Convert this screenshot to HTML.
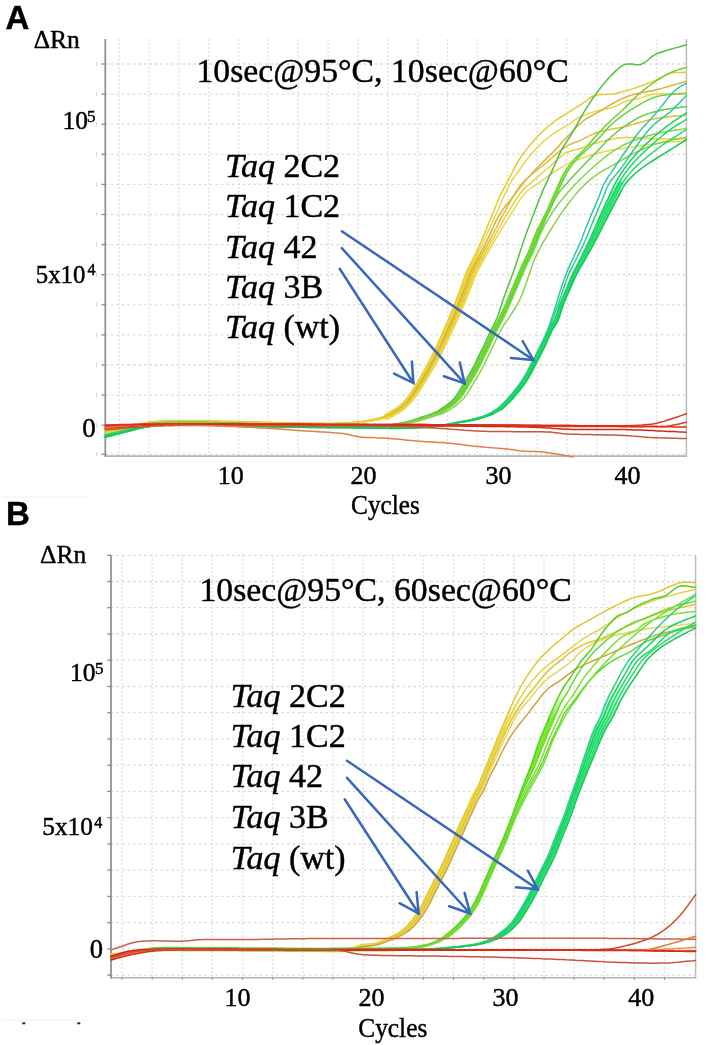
<!DOCTYPE html>
<html><head><meta charset="utf-8"><title>qPCR amplification plots</title>
<style>html,body{margin:0;padding:0;background:#fff;width:709px;height:1045px;overflow:hidden}svg{display:block;filter:blur(0.35px)}</style>
</head><body>
<svg width="709" height="1045" viewBox="0 0 709 1045">
<defs><linearGradient id="g0" gradientUnits="userSpaceOnUse" x1="0" y1="265" x2="0" y2="235"><stop offset="0" stop-color="#f2e04c"/><stop offset="1" stop-color="#f2e04c" stop-opacity="0"/></linearGradient><linearGradient id="g1" gradientUnits="userSpaceOnUse" x1="0" y1="180" x2="0" y2="150"><stop offset="0" stop-color="#80ec30"/><stop offset="1" stop-color="#80ec30" stop-opacity="0"/></linearGradient><linearGradient id="g2" gradientUnits="userSpaceOnUse" x1="0" y1="205" x2="0" y2="176"><stop offset="0" stop-color="#44e67e"/><stop offset="1" stop-color="#44e67e" stop-opacity="0"/></linearGradient><linearGradient id="g3" gradientUnits="userSpaceOnUse" x1="0" y1="730" x2="0" y2="700"><stop offset="0" stop-color="#f2e04c"/><stop offset="1" stop-color="#f2e04c" stop-opacity="0"/></linearGradient><linearGradient id="g4" gradientUnits="userSpaceOnUse" x1="0" y1="720" x2="0" y2="690"><stop offset="0" stop-color="#7ce830"/><stop offset="1" stop-color="#7ce830" stop-opacity="0"/></linearGradient><linearGradient id="g5" gradientUnits="userSpaceOnUse" x1="0" y1="730" x2="0" y2="680"><stop offset="0" stop-color="#5ae890"/><stop offset="1" stop-color="#5ae890" stop-opacity="0"/></linearGradient></defs>
<style>.gv{stroke:#dcdcdc;stroke-width:1.3;stroke-dasharray:1.7 2.3}.gh{stroke:#dcdcdc;stroke-width:1.3;stroke-dasharray:2.6 2.9}.cv path{fill:none;stroke-linejoin:round;stroke-linecap:round}.ar line,.ar polyline{fill:none;stroke:#3868bc;stroke-width:2.5;stroke-linecap:round;stroke-linejoin:miter}</style>
<line x1="119.2" y1="39.0" x2="119.2" y2="456.1" class="gv"/>
<line x1="149.1" y1="39.0" x2="149.1" y2="456.1" class="gv"/>
<line x1="178.9" y1="39.0" x2="178.9" y2="456.1" class="gv"/>
<line x1="208.8" y1="39.0" x2="208.8" y2="456.1" class="gv"/>
<line x1="238.6" y1="39.0" x2="238.6" y2="456.1" class="gv"/>
<line x1="268.4" y1="39.0" x2="268.4" y2="456.1" class="gv"/>
<line x1="298.3" y1="39.0" x2="298.3" y2="456.1" class="gv"/>
<line x1="328.2" y1="39.0" x2="328.2" y2="456.1" class="gv"/>
<line x1="358.0" y1="39.0" x2="358.0" y2="456.1" class="gv"/>
<line x1="387.9" y1="39.0" x2="387.9" y2="456.1" class="gv"/>
<line x1="417.7" y1="39.0" x2="417.7" y2="456.1" class="gv"/>
<line x1="447.6" y1="39.0" x2="447.6" y2="456.1" class="gv"/>
<line x1="477.4" y1="39.0" x2="477.4" y2="456.1" class="gv"/>
<line x1="507.2" y1="39.0" x2="507.2" y2="456.1" class="gv"/>
<line x1="537.1" y1="39.0" x2="537.1" y2="456.1" class="gv"/>
<line x1="567.0" y1="39.0" x2="567.0" y2="456.1" class="gv"/>
<line x1="596.8" y1="39.0" x2="596.8" y2="456.1" class="gv"/>
<line x1="626.7" y1="39.0" x2="626.7" y2="456.1" class="gv"/>
<line x1="656.5" y1="39.0" x2="656.5" y2="456.1" class="gv"/>
<line x1="105.3" y1="64.0" x2="686.4" y2="64.0" class="gh"/>
<line x1="105.3" y1="94.1" x2="686.4" y2="94.1" class="gh"/>
<line x1="105.3" y1="124.2" x2="686.4" y2="124.2" class="gh"/>
<line x1="105.3" y1="154.3" x2="686.4" y2="154.3" class="gh"/>
<line x1="105.3" y1="184.4" x2="686.4" y2="184.4" class="gh"/>
<line x1="105.3" y1="214.5" x2="686.4" y2="214.5" class="gh"/>
<line x1="105.3" y1="244.6" x2="686.4" y2="244.6" class="gh"/>
<line x1="105.3" y1="274.7" x2="686.4" y2="274.7" class="gh"/>
<line x1="105.3" y1="304.8" x2="686.4" y2="304.8" class="gh"/>
<line x1="105.3" y1="334.9" x2="686.4" y2="334.9" class="gh"/>
<line x1="105.3" y1="365.0" x2="686.4" y2="365.0" class="gh"/>
<line x1="105.3" y1="395.1" x2="686.4" y2="395.1" class="gh"/>
<line x1="105.3" y1="425.2" x2="686.4" y2="425.2" class="gh"/>
<line x1="105.3" y1="454.3" x2="686.4" y2="454.3" class="gh"/>
<line x1="122.0" y1="555.3" x2="122.0" y2="977.7" class="gv"/>
<line x1="152.1" y1="555.3" x2="152.1" y2="977.7" class="gv"/>
<line x1="182.3" y1="555.3" x2="182.3" y2="977.7" class="gv"/>
<line x1="212.4" y1="555.3" x2="212.4" y2="977.7" class="gv"/>
<line x1="242.6" y1="555.3" x2="242.6" y2="977.7" class="gv"/>
<line x1="272.7" y1="555.3" x2="272.7" y2="977.7" class="gv"/>
<line x1="302.8" y1="555.3" x2="302.8" y2="977.7" class="gv"/>
<line x1="333.0" y1="555.3" x2="333.0" y2="977.7" class="gv"/>
<line x1="363.1" y1="555.3" x2="363.1" y2="977.7" class="gv"/>
<line x1="393.3" y1="555.3" x2="393.3" y2="977.7" class="gv"/>
<line x1="423.4" y1="555.3" x2="423.4" y2="977.7" class="gv"/>
<line x1="453.5" y1="555.3" x2="453.5" y2="977.7" class="gv"/>
<line x1="483.7" y1="555.3" x2="483.7" y2="977.7" class="gv"/>
<line x1="513.8" y1="555.3" x2="513.8" y2="977.7" class="gv"/>
<line x1="544.0" y1="555.3" x2="544.0" y2="977.7" class="gv"/>
<line x1="574.1" y1="555.3" x2="574.1" y2="977.7" class="gv"/>
<line x1="604.2" y1="555.3" x2="604.2" y2="977.7" class="gv"/>
<line x1="634.4" y1="555.3" x2="634.4" y2="977.7" class="gv"/>
<line x1="664.5" y1="555.3" x2="664.5" y2="977.7" class="gv"/>
<line x1="111.0" y1="975.1" x2="695.6" y2="975.1" class="gh"/>
<line x1="111.0" y1="948.9" x2="695.6" y2="948.9" class="gh"/>
<line x1="111.0" y1="922.6" x2="695.6" y2="922.6" class="gh"/>
<line x1="111.0" y1="896.4" x2="695.6" y2="896.4" class="gh"/>
<line x1="111.0" y1="870.1" x2="695.6" y2="870.1" class="gh"/>
<line x1="111.0" y1="843.9" x2="695.6" y2="843.9" class="gh"/>
<line x1="111.0" y1="817.7" x2="695.6" y2="817.7" class="gh"/>
<line x1="111.0" y1="791.4" x2="695.6" y2="791.4" class="gh"/>
<line x1="111.0" y1="765.2" x2="695.6" y2="765.2" class="gh"/>
<line x1="111.0" y1="738.9" x2="695.6" y2="738.9" class="gh"/>
<line x1="111.0" y1="712.7" x2="695.6" y2="712.7" class="gh"/>
<line x1="111.0" y1="686.5" x2="695.6" y2="686.5" class="gh"/>
<line x1="111.0" y1="660.2" x2="695.6" y2="660.2" class="gh"/>
<line x1="111.0" y1="634.0" x2="695.6" y2="634.0" class="gh"/>
<line x1="111.0" y1="607.7" x2="695.6" y2="607.7" class="gh"/>
<line x1="111.0" y1="581.5" x2="695.6" y2="581.5" class="gh"/>
<line x1="111.0" y1="555.3" x2="695.6" y2="555.3" class="gh"/>
<line x1="105.3" y1="456.1" x2="686.4" y2="456.1" stroke="#b4b4b4" stroke-width="1.6"/>
<line x1="686.4" y1="39.0" x2="686.4" y2="456.90000000000003" stroke="#bdbdbd" stroke-width="1.5"/>
<line x1="101.5" y1="64.0" x2="105.3" y2="64.0" stroke="#8a8a8a" stroke-width="1.3"/>
<line x1="101.5" y1="94.1" x2="105.3" y2="94.1" stroke="#8a8a8a" stroke-width="1.3"/>
<line x1="101.5" y1="124.2" x2="105.3" y2="124.2" stroke="#8a8a8a" stroke-width="1.3"/>
<line x1="101.5" y1="154.3" x2="105.3" y2="154.3" stroke="#8a8a8a" stroke-width="1.3"/>
<line x1="101.5" y1="184.4" x2="105.3" y2="184.4" stroke="#8a8a8a" stroke-width="1.3"/>
<line x1="101.5" y1="214.5" x2="105.3" y2="214.5" stroke="#8a8a8a" stroke-width="1.3"/>
<line x1="101.5" y1="244.6" x2="105.3" y2="244.6" stroke="#8a8a8a" stroke-width="1.3"/>
<line x1="101.5" y1="274.7" x2="105.3" y2="274.7" stroke="#8a8a8a" stroke-width="1.3"/>
<line x1="101.5" y1="304.8" x2="105.3" y2="304.8" stroke="#8a8a8a" stroke-width="1.3"/>
<line x1="101.5" y1="334.9" x2="105.3" y2="334.9" stroke="#8a8a8a" stroke-width="1.3"/>
<line x1="101.5" y1="365.0" x2="105.3" y2="365.0" stroke="#8a8a8a" stroke-width="1.3"/>
<line x1="101.5" y1="395.1" x2="105.3" y2="395.1" stroke="#8a8a8a" stroke-width="1.3"/>
<line x1="101.5" y1="425.2" x2="105.3" y2="425.2" stroke="#8a8a8a" stroke-width="1.3"/>
<line x1="101.5" y1="454.3" x2="105.3" y2="454.3" stroke="#8a8a8a" stroke-width="1.3"/>
<line x1="105.3" y1="39.0" x2="105.3" y2="456.90000000000003" stroke="#8c8c8c" stroke-width="1.7"/>
<line x1="111.0" y1="977.7" x2="695.6" y2="977.7" stroke="#b4b4b4" stroke-width="1.6"/>
<line x1="695.6" y1="555.3" x2="695.6" y2="978.5" stroke="#bdbdbd" stroke-width="1.5"/>
<line x1="107.3" y1="975.1" x2="111.0" y2="975.1" stroke="#8a8a8a" stroke-width="1.3"/>
<line x1="107.3" y1="948.9" x2="111.0" y2="948.9" stroke="#8a8a8a" stroke-width="1.3"/>
<line x1="107.3" y1="922.6" x2="111.0" y2="922.6" stroke="#8a8a8a" stroke-width="1.3"/>
<line x1="107.3" y1="896.4" x2="111.0" y2="896.4" stroke="#8a8a8a" stroke-width="1.3"/>
<line x1="107.3" y1="870.1" x2="111.0" y2="870.1" stroke="#8a8a8a" stroke-width="1.3"/>
<line x1="107.3" y1="843.9" x2="111.0" y2="843.9" stroke="#8a8a8a" stroke-width="1.3"/>
<line x1="107.3" y1="817.7" x2="111.0" y2="817.7" stroke="#8a8a8a" stroke-width="1.3"/>
<line x1="107.3" y1="791.4" x2="111.0" y2="791.4" stroke="#8a8a8a" stroke-width="1.3"/>
<line x1="107.3" y1="765.2" x2="111.0" y2="765.2" stroke="#8a8a8a" stroke-width="1.3"/>
<line x1="107.3" y1="738.9" x2="111.0" y2="738.9" stroke="#8a8a8a" stroke-width="1.3"/>
<line x1="107.3" y1="712.7" x2="111.0" y2="712.7" stroke="#8a8a8a" stroke-width="1.3"/>
<line x1="107.3" y1="686.5" x2="111.0" y2="686.5" stroke="#8a8a8a" stroke-width="1.3"/>
<line x1="107.3" y1="660.2" x2="111.0" y2="660.2" stroke="#8a8a8a" stroke-width="1.3"/>
<line x1="107.3" y1="634.0" x2="111.0" y2="634.0" stroke="#8a8a8a" stroke-width="1.3"/>
<line x1="107.3" y1="607.7" x2="111.0" y2="607.7" stroke="#8a8a8a" stroke-width="1.3"/>
<line x1="107.3" y1="581.5" x2="111.0" y2="581.5" stroke="#8a8a8a" stroke-width="1.3"/>
<line x1="107.3" y1="555.3" x2="111.0" y2="555.3" stroke="#8a8a8a" stroke-width="1.3"/>
<line x1="111.0" y1="555.3" x2="111.0" y2="978.5" stroke="#8c8c8c" stroke-width="1.7"/>
<line x1="122.0" y1="977.7" x2="122.0" y2="980" stroke="#9a9a9a" stroke-width="1"/>
<line x1="152.1" y1="977.7" x2="152.1" y2="980" stroke="#9a9a9a" stroke-width="1"/>
<line x1="182.3" y1="977.7" x2="182.3" y2="980" stroke="#9a9a9a" stroke-width="1"/>
<line x1="212.4" y1="977.7" x2="212.4" y2="980" stroke="#9a9a9a" stroke-width="1"/>
<line x1="242.6" y1="977.7" x2="242.6" y2="980" stroke="#9a9a9a" stroke-width="1"/>
<line x1="272.7" y1="977.7" x2="272.7" y2="980" stroke="#9a9a9a" stroke-width="1"/>
<line x1="302.8" y1="977.7" x2="302.8" y2="980" stroke="#9a9a9a" stroke-width="1"/>
<line x1="333.0" y1="977.7" x2="333.0" y2="980" stroke="#9a9a9a" stroke-width="1"/>
<line x1="363.1" y1="977.7" x2="363.1" y2="980" stroke="#9a9a9a" stroke-width="1"/>
<line x1="393.3" y1="977.7" x2="393.3" y2="980" stroke="#9a9a9a" stroke-width="1"/>
<line x1="423.4" y1="977.7" x2="423.4" y2="980" stroke="#9a9a9a" stroke-width="1"/>
<line x1="453.5" y1="977.7" x2="453.5" y2="980" stroke="#9a9a9a" stroke-width="1"/>
<line x1="483.7" y1="977.7" x2="483.7" y2="980" stroke="#9a9a9a" stroke-width="1"/>
<line x1="513.8" y1="977.7" x2="513.8" y2="980" stroke="#9a9a9a" stroke-width="1"/>
<line x1="544.0" y1="977.7" x2="544.0" y2="980" stroke="#9a9a9a" stroke-width="1"/>
<line x1="574.1" y1="977.7" x2="574.1" y2="980" stroke="#9a9a9a" stroke-width="1"/>
<line x1="604.2" y1="977.7" x2="604.2" y2="980" stroke="#9a9a9a" stroke-width="1"/>
<line x1="634.4" y1="977.7" x2="634.4" y2="980" stroke="#9a9a9a" stroke-width="1"/>
<line x1="664.5" y1="977.7" x2="664.5" y2="980" stroke="#9a9a9a" stroke-width="1"/>
<line x1="96.5" y1="61.8" x2="96.5" y2="66.2" stroke="#d6d6d6" stroke-width="1"/>
<line x1="96.5" y1="91.9" x2="96.5" y2="96.3" stroke="#d6d6d6" stroke-width="1"/>
<line x1="96.5" y1="122.0" x2="96.5" y2="126.4" stroke="#d6d6d6" stroke-width="1"/>
<line x1="96.5" y1="152.1" x2="96.5" y2="156.5" stroke="#d6d6d6" stroke-width="1"/>
<line x1="96.5" y1="182.2" x2="96.5" y2="186.6" stroke="#d6d6d6" stroke-width="1"/>
<line x1="96.5" y1="212.3" x2="96.5" y2="216.7" stroke="#d6d6d6" stroke-width="1"/>
<line x1="96.5" y1="242.4" x2="96.5" y2="246.8" stroke="#d6d6d6" stroke-width="1"/>
<line x1="96.5" y1="272.5" x2="96.5" y2="276.9" stroke="#d6d6d6" stroke-width="1"/>
<line x1="96.5" y1="302.6" x2="96.5" y2="307.0" stroke="#d6d6d6" stroke-width="1"/>
<line x1="96.5" y1="332.7" x2="96.5" y2="337.1" stroke="#d6d6d6" stroke-width="1"/>
<line x1="96.5" y1="362.8" x2="96.5" y2="367.2" stroke="#d6d6d6" stroke-width="1"/>
<line x1="96.5" y1="392.9" x2="96.5" y2="397.3" stroke="#d6d6d6" stroke-width="1"/>
<line x1="96.5" y1="423.0" x2="96.5" y2="427.4" stroke="#d6d6d6" stroke-width="1"/>
<line x1="96.5" y1="452.1" x2="96.5" y2="456.5" stroke="#d6d6d6" stroke-width="1"/>
<g class="cv">
<path d="M387.0 416.5 L389.8 414.9 L392.7 413.3 L395.6 411.6 L398.3 410.0 L400.8 408.3 L403.6 406.0 L406.0 403.7 L408.5 401.0 L410.5 398.5 L412.5 395.8 L414.5 392.9 L416.4 389.9 L418.3 387.0 L420.1 384.2 L421.8 381.3 L423.5 378.5 L425.2 375.6 L426.8 372.8 L428.6 369.6 L430.4 366.5 L432.2 363.3 L433.9 360.1 L435.3 357.4 L436.7 354.6 L438.1 351.7 L439.5 348.9 L440.9 346.0 L442.3 343.0 L443.8 339.9 L445.2 336.7 L446.6 333.6 L448.0 330.5 L449.4 327.4 L450.9 324.3 L452.3 321.2 L453.7 318.1 L455.0 315.0 L456.2 312.1 L457.3 309.3 L458.4 306.5 L459.5 303.7 L460.6 300.9 L461.7 298.1 L462.9 295.2 L464.0 292.4 L465.1 289.6 L466.3 286.8 L467.7 283.6 L469.1 280.5 L470.5 277.3 L471.9 274.1 L473.1 271.3 L474.2 268.5 L475.3 265.7 L476.5 262.8 L477.6 260.0" stroke="#f2e04c" stroke-width="7.0"/>
<path d="M440.0 411.8 L443.0 409.9 L446.0 408.0 L448.9 406.1 L451.5 404.2 L454.9 401.3 L458.0 398.0 L459.8 395.6 L461.6 392.9 L463.3 390.2 L464.9 387.5 L466.9 384.3 L468.7 381.2 L470.6 378.0 L472.6 374.7 L474.5 371.3 L476.4 367.8 L477.9 365.0 L479.3 362.1 L480.7 359.2 L482.1 356.3 L483.5 353.4 L484.9 350.6 L486.4 347.7 L487.8 344.8 L489.3 341.5 L490.9 338.2 L492.4 334.8 L494.0 331.5 L495.4 328.8 L496.8 326.1 L498.2 323.4 L499.6 320.7 L501.0 318.0 L502.3 315.2 L503.7 312.4 L505.0 309.6 L506.3 306.8 L507.5 304.0 L508.9 300.7 L510.3 297.5 L511.6 294.2 L513.0 291.0 L514.4 287.8 L515.8 284.5 L517.1 281.2 L518.5 278.0 L519.9 274.7 L521.2 271.4 L522.6 268.2 L524.0 265.0 L525.4 262.0 L526.9 259.1 L528.4 256.2 L529.8 253.3 L531.0 250.4 L532.2 247.4 L533.4 244.4 L534.5 241.5 L536.0 237.8 L537.5 234.1 L539.0 230.4" stroke="#80ec30" stroke-width="5.0"/>
<path d="M501.2 408.0 L503.6 405.6 L506.0 403.3 L508.4 400.9 L510.8 398.4 L513.3 395.6 L515.7 392.8 L518.1 389.8 L520.4 386.9 L522.4 384.1 L524.4 381.3 L526.2 378.4 L528.0 375.5 L529.7 372.5 L531.3 369.4 L532.9 366.2 L534.5 363.0 L536.1 360.0 L537.7 357.0 L539.3 353.9 L540.9 350.7 L542.5 347.5 L543.9 344.6 L545.2 341.6 L546.6 338.5 L547.9 335.5 L549.2 332.6 L550.5 330.0 L552.5 326.5 L554.5 323.4 L556.4 320.0 L557.5 317.2 L558.5 314.2 L559.5 311.0 L560.4 307.9 L561.5 304.8 L562.7 301.7 L564.0 298.7 L565.3 295.6 L566.7 292.5 L568.0 289.5 L569.3 286.5 L570.5 283.4 L571.8 280.4 L573.1 277.4 L574.5 274.4 L576.0 271.4 L577.6 268.4 L579.2 265.5 L580.9 262.5 L582.5 259.5 L584.1 256.5 L585.7 253.4 L587.3 250.4 L588.9 247.4 L590.5 244.3 L592.0 241.2 L593.6 238.2 L595.0 235.1 L596.5 232.1 L598.0 229.0 L599.4 226.0 L600.8 223.0 L602.2 220.1 L603.6 217.1 L605.0 214.1 L606.5 211.1 L608.0 208.1 L609.5 205.0 L611.0 202.0 L612.5 199.0 L614.0 196.0 L615.5 192.9 L617.0 189.9 L618.5 186.8 L620.0 183.8" stroke="#30e070" stroke-width="5.0"/>
<path d="M379.9 417.8 L383.5 416.5 L386.3 415.2 L389.2 413.6 L392.1 411.9 L394.8 410.1 L397.3 408.3 L400.1 406.0 L402.6 403.7 L405.0 401.0 L407.0 398.5 L408.9 395.8 L410.9 392.9 L412.8 389.9 L414.6 387.0 L416.4 384.2 L418.1 381.3 L419.7 378.5 L421.3 375.6 L422.9 372.8 L424.7 369.6 L426.5 366.5 L428.2 363.3 L429.9 360.1 L431.2 357.4 L432.6 354.6 L434.0 351.7 L435.3 348.9 L436.7 346.0 L438.1 343.0 L439.4 339.9 L440.8 336.7 L442.2 333.6 L443.5 330.5 L444.9 327.4 L446.3 324.3 L447.7 321.2 L449.0 318.1 L450.3 315.0 L451.5 312.1 L452.6 309.3 L453.6 306.5 L454.7 303.7 L455.7 300.9 L456.9 298.1 L458.0 295.2 L459.1 292.4 L460.2 289.6 L461.2 286.8 L462.3 283.8 L463.2 281.0 L464.2 278.0 L465.5 274.6 L466.5 272.4 L467.6 269.9 L468.8 267.3 L470.1 264.6 L471.5 261.8 L472.9 258.9 L474.3 256.0 L475.8 253.1 L477.2 250.2 L478.5 247.3 L479.8 244.5 L481.0 241.7 L482.2 238.9 L483.5 236.0 L497.5 236.0 L495.8 238.9 L494.1 241.7 L492.5 244.5 L490.9 247.3 L489.3 250.1 L487.6 253.0 L485.9 256.0 L484.3 258.9 L482.7 261.8 L481.1 264.6 L479.7 267.3 L478.3 269.9 L477.1 272.3 L476.0 274.6 L474.6 278.0 L473.5 281.0 L472.5 283.8 L471.4 286.8 L470.2 289.6 L469.1 292.4 L467.9 295.2 L466.6 298.1 L465.5 300.9 L464.3 303.7 L463.2 306.5 L462.0 309.3 L460.9 312.1 L459.7 315.0 L458.3 318.1 L456.9 321.2 L455.4 324.3 L453.9 327.4 L452.5 330.5 L451.0 333.6 L449.5 336.7 L448.1 339.9 L446.6 343.0 L445.1 346.0 L443.7 348.9 L442.3 351.7 L440.9 354.6 L439.4 357.4 L437.9 360.1 L436.2 363.3 L434.4 366.5 L432.6 369.6 L430.7 372.8 L429.0 375.6 L427.3 378.5 L425.6 381.3 L423.8 384.2 L422.0 387.0 L420.1 389.9 L418.1 392.9 L416.0 395.8 L414.0 398.5 L412.0 401.0 L409.5 403.7 L407.1 406.0 L404.3 408.3 L401.9 410.1 L399.1 411.9 L396.3 413.6 L393.4 415.2 L390.5 416.5 L387.3 417.6Z" style="fill:url(#g0);stroke:none"/>
<path d="M105.3 432.0 L108.5 431.4 L111.8 430.8 L115.1 430.3 L118.3 429.7 L121.6 429.1 L124.8 428.4 L128.0 427.8 L131.1 427.0 L134.1 426.1 L137.1 425.2 L140.1 424.3 L143.2 423.5 L146.5 422.7 L150.0 422.1 L152.7 421.8 L155.5 421.5 L158.4 421.3 L161.4 421.1 L164.5 421.0 L167.6 420.9 L170.8 420.8 L174.1 420.8 L177.3 420.7 L180.5 420.7 L183.7 420.7 L186.9 420.7 L190.0 420.7 L193.1 420.7 L196.1 420.7 L199.1 420.7 L202.2 420.7 L205.2 420.8 L208.2 420.9 L211.2 420.9 L214.3 421.0 L217.4 421.1 L220.5 421.2 L223.6 421.2 L226.8 421.3 L230.0 421.4 L233.0 421.5 L236.0 421.5 L239.0 421.6 L242.1 421.7 L245.2 421.8 L248.3 421.9 L251.5 422.0 L254.7 422.1 L257.8 422.1 L261.0 422.2 L264.2 422.3 L267.4 422.4 L270.5 422.5 L273.7 422.6 L276.9 422.6 L280.0 422.7 L283.2 422.8 L286.4 422.8 L289.8 422.9 L293.2 423.0 L296.6 423.0 L300.0 423.1 L303.4 423.2 L306.8 423.2 L310.1 423.3 L313.4 423.3 L316.5 423.4 L319.6 423.4 L322.4 423.4 L325.1 423.4 L327.7 423.4 L330.0 423.4 L333.6 423.4 L336.7 423.3 L339.5 423.2 L342.2 423.1 L345.0 422.9 L348.5 422.7 L352.0 422.4 L355.4 422.1 L358.8 421.7 L362.3 421.3 L365.9 420.8 L369.3 420.2 L372.7 419.6 L376.4 418.8 L379.9 417.8 L383.5 416.5 L386.3 415.2 L389.2 413.6 L392.1 411.9 L394.8 410.1 L397.3 408.3 L400.1 406.0 L402.6 403.7 L405.0 401.0 L407.0 398.5 L408.9 395.8 L410.9 392.9 L412.8 389.9 L414.6 387.0 L416.4 384.2 L418.1 381.3 L419.7 378.5 L421.3 375.6 L422.9 372.8 L424.7 369.6 L426.5 366.5 L428.2 363.3 L429.9 360.1 L431.2 357.4 L432.6 354.6 L434.0 351.7 L435.3 348.9 L436.7 346.0 L438.1 343.0 L439.4 339.9 L440.8 336.7 L442.2 333.6 L443.5 330.5 L444.9 327.4 L446.3 324.3 L447.7 321.2 L449.0 318.1 L450.3 315.0 L451.5 312.1 L452.6 309.3 L453.6 306.5 L454.7 303.7 L455.7 300.9 L456.9 298.1 L458.0 295.2 L459.1 292.4 L460.2 289.6 L461.2 286.8 L462.3 283.8 L463.2 281.0 L464.2 278.0 L465.5 274.6 L466.5 272.4 L467.6 269.9 L468.8 267.3 L470.1 264.6 L471.5 261.8 L472.9 258.9 L474.3 256.0 L475.8 253.1 L477.2 250.2 L478.5 247.3 L479.8 244.5 L481.0 241.7 L482.2 238.9 L483.5 236.0 L484.7 233.1 L485.9 230.2 L487.0 227.4 L488.2 224.5 L489.3 221.8 L490.4 219.1 L491.5 216.5 L492.5 214.0 L493.9 210.7 L495.1 207.5 L496.4 204.5 L497.6 201.6 L498.8 198.7 L500.0 196.0 L501.6 192.8 L503.1 189.9 L504.7 186.9 L506.5 183.5 L507.8 181.0 L509.1 178.4 L510.6 175.5 L512.1 172.6 L513.6 169.6 L515.2 166.5 L516.9 163.6 L518.6 160.7 L520.3 158.0 L522.2 155.2 L524.3 152.4 L526.4 149.6 L528.5 147.0 L530.7 144.3 L532.9 141.8 L535.0 139.3 L537.2 137.0 L539.7 134.4 L542.2 131.9 L544.8 129.5 L547.3 127.2 L549.9 125.0 L552.5 122.9 L555.0 121.0 L557.5 119.3 L560.1 117.6 L562.7 116.0 L565.2 114.4 L567.7 112.8 L570.4 111.0 L573.1 109.3 L575.8 107.7 L578.5 106.0 L581.2 104.3 L583.9 102.4 L586.5 100.5 L589.1 98.5 L591.9 96.8 L594.8 95.5 L598.2 94.7 L601.9 94.4 L605.6 94.4 L609.3 94.3 L612.7 94.0 L616.0 93.4 L619.2 92.6 L622.3 91.8 L625.4 90.9 L628.5 90.0 L631.6 89.1 L634.7 88.1 L638.0 87.0 L641.2 85.9 L644.5 84.7 L647.9 83.4 L651.3 82.1 L654.6 80.7 L657.4 79.4 L660.1 78.0 L662.8 76.5 L665.5 75.2 L668.3 74.0 L671.0 73.1 L674.1 72.6 L677.1 72.4 L680.2 72.4 L683.3 72.4 L686.4 72.4" stroke="#e4cc2c" stroke-width="1.5"/>
<path d="M105.3 431.0 L108.5 430.5 L111.8 430.0 L115.1 429.5 L118.3 429.0 L121.5 428.5 L124.8 428.0 L128.0 427.4 L131.1 426.7 L134.1 426.0 L137.1 425.2 L140.1 424.5 L143.2 423.7 L146.5 423.1 L150.0 422.6 L152.7 422.2 L155.5 422.0 L158.4 421.8 L161.4 421.6 L164.5 421.5 L167.6 421.4 L170.8 421.3 L174.1 421.3 L177.3 421.2 L180.5 421.2 L183.7 421.2 L186.9 421.2 L190.0 421.2 L193.1 421.1 L196.1 421.1 L199.1 421.2 L202.2 421.2 L205.2 421.2 L208.2 421.3 L211.2 421.4 L214.3 421.5 L217.4 421.5 L220.5 421.6 L223.6 421.7 L226.8 421.8 L230.0 421.9 L233.0 421.9 L236.0 422.0 L239.0 422.1 L242.1 422.2 L245.2 422.2 L248.3 422.3 L251.5 422.4 L254.7 422.5 L257.8 422.6 L261.0 422.7 L264.2 422.8 L267.4 422.9 L270.5 422.9 L273.7 423.0 L276.9 423.1 L280.0 423.2 L283.2 423.2 L286.4 423.3 L289.8 423.3 L293.2 423.4 L296.6 423.5 L300.0 423.5 L303.4 423.6 L306.8 423.7 L310.1 423.7 L313.4 423.8 L316.5 423.8 L319.6 423.8 L322.4 423.9 L325.1 423.9 L327.7 423.9 L330.0 423.9 L333.6 423.8 L336.7 423.7 L339.4 423.6 L342.2 423.5 L345.0 423.4 L348.6 423.1 L352.2 422.8 L355.7 422.5 L359.3 422.0 L362.9 421.6 L366.6 421.0 L370.2 420.4 L373.6 419.7 L377.5 418.9 L381.2 417.9 L384.9 416.5 L387.7 415.2 L390.6 413.6 L393.5 411.9 L396.2 410.1 L398.7 408.3 L401.5 406.0 L404.0 403.7 L406.4 401.0 L408.4 398.5 L410.3 395.8 L412.3 392.9 L414.2 389.9 L416.1 387.0 L417.9 384.2 L419.6 381.3 L421.2 378.5 L422.9 375.6 L424.5 372.8 L426.3 369.6 L428.0 366.5 L429.8 363.3 L431.5 360.1 L432.9 357.4 L434.3 354.6 L435.6 351.7 L437.0 348.9 L438.4 346.0 L439.8 343.0 L441.2 339.9 L442.6 336.7 L443.9 333.6 L445.3 330.5 L446.7 327.4 L448.1 324.3 L449.5 321.2 L450.9 318.1 L452.2 315.0 L453.4 312.1 L454.5 309.3 L455.5 306.5 L456.6 303.7 L457.7 300.9 L458.8 298.1 L460.0 295.2 L461.1 292.4 L462.2 289.6 L463.3 286.8 L464.3 283.8 L465.2 281.0 L466.2 278.0 L467.5 274.6 L468.5 272.4 L469.6 269.9 L470.8 267.3 L472.1 264.6 L473.5 261.8 L474.9 258.9 L476.4 256.0 L477.8 253.1 L479.3 250.2 L480.7 247.3 L482.0 244.5 L483.3 241.7 L484.6 239.0 L485.9 236.2 L487.1 233.4 L488.4 230.7 L489.7 227.9 L490.9 225.1 L492.2 222.3 L493.5 219.5 L494.7 216.8 L496.0 214.0 L497.3 211.2 L498.6 208.2 L499.9 205.3 L501.3 202.3 L502.6 199.3 L503.9 196.3 L505.2 193.5 L506.5 190.7 L507.8 188.1 L509.0 185.7 L510.2 183.5 L512.1 180.2 L513.9 177.5 L515.8 174.9 L517.9 172.0 L519.7 169.5 L521.5 166.8 L523.5 164.1 L525.6 161.2 L527.7 158.4 L529.9 155.6 L532.2 153.0 L534.3 150.7 L536.5 148.4 L538.8 146.1 L541.1 143.8 L543.5 141.6 L545.9 139.5 L548.3 137.5 L550.8 135.5 L553.6 133.4 L556.7 131.5 L559.8 129.6 L562.8 127.8 L565.8 126.1 L568.6 124.4 L571.0 122.9 L574.0 120.7 L576.6 118.8 L579.6 117.0 L582.6 115.7 L585.9 114.4 L589.4 113.2 L593.0 112.1 L596.5 111.1 L599.8 110.3 L603.1 109.6 L606.4 109.0 L609.6 108.3 L612.7 107.4 L616.0 106.1 L619.2 104.5 L622.2 102.9 L625.4 101.6 L628.5 100.7 L631.6 99.9 L634.7 99.3 L638.0 98.5 L641.2 97.6 L644.5 96.6 L647.8 95.5 L651.2 94.6 L654.6 94.0 L657.9 93.7 L661.2 93.7 L664.5 93.9 L667.8 94.0 L671.0 94.0 L674.1 93.8 L677.2 93.6 L680.3 93.3 L683.3 93.1 L686.4 92.8" stroke="#e8d840" stroke-width="1.5"/>
<path d="M105.3 433.0 L108.5 432.4 L111.8 431.7 L115.1 431.1 L118.3 430.5 L121.5 429.8 L124.8 429.1 L128.0 428.4 L131.1 427.7 L134.1 426.8 L137.1 425.9 L140.1 425.0 L143.2 424.2 L146.5 423.5 L150.0 422.9 L152.7 422.5 L155.5 422.2 L158.4 422.0 L161.4 421.8 L164.5 421.7 L167.6 421.6 L170.8 421.6 L174.1 421.5 L177.3 421.5 L180.5 421.5 L183.7 421.5 L186.9 421.5 L190.0 421.5 L193.1 421.4 L196.1 421.4 L199.1 421.5 L202.2 421.5 L205.2 421.5 L208.2 421.6 L211.2 421.7 L214.3 421.8 L217.4 421.8 L220.5 421.9 L223.6 422.0 L226.8 422.1 L230.0 422.2 L233.0 422.2 L236.0 422.3 L239.0 422.4 L242.1 422.5 L245.2 422.5 L248.3 422.6 L251.5 422.7 L254.7 422.8 L257.8 422.9 L261.0 423.0 L264.2 423.1 L267.4 423.2 L270.5 423.2 L273.7 423.3 L276.9 423.4 L280.0 423.5 L283.2 423.5 L286.4 423.6 L289.8 423.6 L293.2 423.7 L296.6 423.8 L300.0 423.8 L303.4 423.9 L306.8 424.0 L310.1 424.0 L313.4 424.1 L316.5 424.1 L319.6 424.1 L322.4 424.2 L325.1 424.2 L327.7 424.2 L330.0 424.2 L333.6 424.1 L336.6 424.0 L339.4 423.9 L342.1 423.8 L345.0 423.7 L348.7 423.4 L352.4 423.1 L356.1 422.7 L359.8 422.2 L363.5 421.7 L367.3 421.2 L371.0 420.5 L374.5 419.8 L377.6 419.1 L380.5 418.4 L383.4 417.6 L386.3 416.5 L389.1 415.2 L392.0 413.6 L394.9 411.9 L397.6 410.1 L400.1 408.3 L402.9 406.0 L405.4 403.7 L407.8 401.0 L409.8 398.5 L411.8 395.8 L413.7 392.9 L415.7 389.9 L417.6 387.0 L419.3 384.2 L421.1 381.3 L422.8 378.5 L424.4 375.6 L426.0 372.8 L427.9 369.6 L429.6 366.5 L431.4 363.3 L433.1 360.1 L434.5 357.4 L435.9 354.6 L437.3 351.7 L438.7 348.9 L440.1 346.0 L441.5 343.0 L442.9 339.9 L444.3 336.7 L445.7 333.6 L447.1 330.5 L448.5 327.4 L450.0 324.3 L451.4 321.2 L452.7 318.1 L454.1 315.0 L455.2 312.1 L456.4 309.3 L457.4 306.5 L458.5 303.7 L459.6 300.9 L460.8 298.1 L461.9 295.2 L463.1 292.4 L464.2 289.6 L465.3 286.8 L466.3 283.8 L467.2 281.0 L468.2 278.0 L469.5 274.6 L470.5 272.3 L471.7 269.9 L473.0 267.3 L474.4 264.6 L475.8 261.8 L477.4 258.9 L479.0 256.0 L480.5 253.1 L482.1 250.2 L483.6 247.3 L485.0 244.5 L486.4 241.7 L487.7 238.9 L489.1 236.0 L490.4 233.0 L491.8 230.1 L493.1 227.3 L494.4 224.4 L495.8 221.7 L497.2 219.0 L498.6 216.4 L500.0 214.0 L501.9 211.1 L503.8 208.4 L505.7 205.8 L507.7 203.3 L509.6 200.9 L511.6 198.5 L513.5 196.0 L515.6 193.3 L517.6 190.5 L519.7 187.9 L521.7 185.2 L523.8 182.6 L526.0 180.0 L528.2 177.4 L530.5 174.9 L532.9 172.4 L535.2 169.9 L537.6 167.5 L540.0 165.0 L542.1 162.9 L544.2 160.7 L546.4 158.6 L548.5 156.5 L550.7 154.3 L552.9 152.2 L555.0 150.0 L557.2 147.7 L559.3 145.4 L561.4 143.1 L563.6 140.8 L565.7 138.5 L567.8 136.2 L570.0 134.0 L572.4 131.5 L574.8 129.1 L577.2 126.6 L579.6 124.3 L582.1 122.0 L584.6 120.0 L587.6 118.0 L590.7 116.2 L593.9 114.5 L597.0 112.9 L600.0 111.2 L603.3 109.2 L606.4 107.2 L609.5 105.3 L612.7 103.5 L615.8 101.8 L619.0 100.1 L622.2 98.6 L625.4 97.2 L628.5 96.1 L631.6 95.1 L634.7 94.2 L638.0 93.4 L641.1 92.7 L644.2 92.2 L647.5 91.6 L650.9 91.0 L654.6 90.2 L657.1 89.6 L659.8 88.9 L662.5 88.1 L665.4 87.3 L668.4 86.5 L671.4 85.6 L674.4 84.8 L677.5 83.9 L680.5 83.0 L683.5 82.1 L686.4 81.3" stroke="#dcae34" stroke-width="1.5"/>
<path d="M105.3 430.0 L108.5 429.6 L111.8 429.1 L115.1 428.7 L118.3 428.3 L121.5 427.8 L124.8 427.3 L128.0 426.8 L131.1 426.2 L134.1 425.5 L137.1 424.8 L140.1 424.1 L143.2 423.4 L146.5 422.8 L150.0 422.2 L152.7 422.0 L155.5 421.7 L158.4 421.5 L161.4 421.4 L164.5 421.2 L167.6 421.1 L170.8 421.0 L174.1 421.0 L177.3 421.0 L180.5 420.9 L183.7 420.9 L186.9 420.9 L190.0 420.9 L193.1 420.8 L196.1 420.8 L199.1 420.9 L202.2 420.9 L205.2 420.9 L208.2 421.0 L211.2 421.1 L214.3 421.2 L217.4 421.2 L220.5 421.3 L223.6 421.4 L226.8 421.5 L230.0 421.6 L233.0 421.6 L236.0 421.7 L239.0 421.8 L242.1 421.9 L245.2 421.9 L248.3 422.0 L251.5 422.1 L254.7 422.2 L257.8 422.3 L261.0 422.4 L264.2 422.5 L267.4 422.6 L270.5 422.6 L273.7 422.7 L276.9 422.8 L280.0 422.9 L283.2 422.9 L286.4 423.0 L289.8 423.0 L293.2 423.1 L296.6 423.2 L300.0 423.2 L303.4 423.3 L306.8 423.4 L310.1 423.4 L313.4 423.5 L316.5 423.5 L319.6 423.5 L322.4 423.6 L325.1 423.6 L327.7 423.6 L330.0 423.5 L333.6 423.5 L336.6 423.4 L339.4 423.3 L342.1 423.2 L345.0 423.0 L348.0 422.9 L351.1 422.7 L354.1 422.4 L357.2 422.2 L360.2 421.8 L363.3 421.5 L366.4 421.1 L369.5 420.6 L372.5 420.2 L375.5 419.6 L378.6 419.0 L381.7 418.4 L384.7 417.6 L387.7 416.5 L390.5 415.2 L393.4 413.6 L396.3 411.9 L399.0 410.1 L401.5 408.3 L404.3 406.0 L406.7 403.7 L409.2 401.0 L411.2 398.5 L413.2 395.8 L415.2 392.9 L417.1 389.9 L419.0 387.0 L420.8 384.2 L422.6 381.3 L424.3 378.5 L425.9 375.6 L427.6 372.8 L429.4 369.6 L431.2 366.5 L433.0 363.3 L434.7 360.1 L436.1 357.4 L437.6 354.6 L439.0 351.7 L440.4 348.9 L441.7 346.0 L443.2 343.0 L444.6 339.9 L446.0 336.7 L447.5 333.6 L448.9 330.5 L450.3 327.4 L451.8 324.3 L453.2 321.2 L454.6 318.1 L455.9 315.0 L457.1 312.1 L458.3 309.3 L459.4 306.5 L460.5 303.7 L461.6 300.9 L462.7 298.1 L463.9 295.2 L465.1 292.4 L466.2 289.6 L467.3 286.8 L468.3 283.8 L469.2 281.0 L470.2 278.0 L471.5 274.6 L472.5 272.3 L473.7 269.9 L475.0 267.3 L476.5 264.6 L478.0 261.8 L479.6 258.9 L481.2 256.0 L482.8 253.1 L484.4 250.2 L486.0 247.3 L487.5 244.5 L489.0 241.7 L490.4 238.9 L491.8 236.2 L493.3 233.4 L494.7 230.6 L496.2 227.8 L497.6 225.0 L499.1 222.2 L500.5 219.4 L502.0 216.7 L503.5 214.0 L505.1 211.1 L506.8 208.1 L508.4 205.0 L510.1 202.0 L511.7 199.0 L513.4 196.1 L515.1 193.3 L516.7 190.7 L518.4 188.2 L520.0 186.0 L522.2 183.3 L524.4 181.0 L526.6 178.9 L528.8 177.0 L531.0 175.0 L533.7 172.7 L536.4 170.6 L539.2 168.5 L542.3 166.0 L544.3 164.3 L546.5 162.4 L548.9 160.4 L551.3 158.2 L553.8 156.0 L556.4 153.9 L558.9 151.8 L561.3 149.8 L563.7 148.1 L566.0 146.6 L569.1 144.9 L572.2 143.5 L575.2 142.3 L578.1 141.2 L581.2 139.9 L583.9 138.6 L586.6 137.3 L589.3 135.9 L592.1 134.6 L595.1 133.3 L598.2 132.2 L600.9 131.4 L603.8 130.7 L606.7 130.0 L609.8 129.4 L612.9 128.9 L616.0 128.3 L619.2 127.7 L622.3 127.1 L625.4 126.4 L628.3 125.7 L631.2 124.9 L634.0 124.1 L636.9 123.3 L639.8 122.5 L642.8 121.6 L645.7 120.8 L648.6 120.1 L651.6 119.4 L654.6 118.8 L657.7 118.3 L660.8 117.8 L664.0 117.4 L667.2 117.0 L670.4 116.6 L673.6 116.3 L676.8 116.0 L680.0 115.7 L683.2 115.4 L686.4 115.0" stroke="#e0bc38" stroke-width="1.5"/>
<path d="M105.3 432.5 L108.5 431.9 L111.8 431.3 L115.1 430.7 L118.3 430.1 L121.5 429.5 L124.8 428.9 L128.0 428.2 L131.1 427.5 L134.1 426.7 L137.1 425.9 L140.1 425.0 L143.2 424.3 L146.5 423.6 L150.0 423.0 L152.7 422.7 L155.5 422.4 L158.4 422.2 L161.4 422.0 L164.5 421.9 L167.6 421.8 L170.8 421.7 L174.1 421.7 L177.3 421.7 L180.5 421.6 L183.7 421.6 L186.9 421.6 L190.0 421.6 L193.1 421.6 L196.1 421.6 L199.1 421.6 L202.2 421.6 L205.2 421.7 L208.2 421.8 L211.2 421.8 L214.3 421.9 L217.4 422.0 L220.5 422.1 L223.6 422.1 L226.8 422.2 L230.0 422.3 L233.0 422.4 L236.0 422.4 L239.0 422.5 L242.1 422.6 L245.2 422.7 L248.3 422.8 L251.5 422.9 L254.7 423.0 L257.8 423.0 L261.0 423.1 L264.2 423.2 L267.4 423.3 L270.5 423.4 L273.7 423.5 L276.9 423.5 L280.0 423.6 L283.2 423.7 L286.4 423.7 L289.8 423.8 L293.2 423.9 L296.6 423.9 L300.0 424.0 L303.4 424.1 L306.8 424.1 L310.1 424.2 L313.4 424.2 L316.5 424.3 L319.6 424.3 L322.4 424.3 L325.1 424.3 L327.7 424.3 L330.0 424.3 L333.6 424.3 L336.6 424.2 L339.4 424.1 L342.1 424.0 L345.0 423.8 L348.1 423.6 L351.3 423.3 L354.4 423.0 L357.6 422.7 L360.7 422.3 L363.9 421.9 L367.1 421.5 L370.3 421.0 L373.4 420.5 L376.4 419.9 L379.7 419.2 L382.9 418.5 L386.0 417.6 L389.1 416.5 L392.0 415.2 L394.9 413.6 L397.7 411.9 L400.4 410.1 L402.9 408.3 L405.7 406.0 L408.1 403.7 L410.6 401.0 L412.6 398.5 L414.6 395.8 L416.6 392.9 L418.6 389.9 L420.5 387.0 L422.3 384.2 L424.1 381.3 L425.8 378.5 L427.5 375.6 L429.1 372.8 L431.0 369.6 L432.8 366.5 L434.6 363.3 L436.3 360.1 L437.8 357.4 L439.2 354.6 L440.6 351.7 L442.0 348.9 L443.4 346.0 L444.9 343.0 L446.4 339.9 L447.8 336.7 L449.2 333.6 L450.7 330.5 L452.1 327.4 L453.6 324.3 L455.0 321.2 L456.4 318.1 L457.8 315.0 L459.0 312.1 L460.2 309.3 L461.3 306.5 L462.4 303.7 L463.5 300.9 L464.7 298.1 L465.9 295.2 L467.1 292.4 L468.3 289.6 L469.3 286.8 L470.3 283.8 L471.2 281.0 L472.2 278.0 L473.5 274.6 L474.5 272.3 L475.8 269.9 L477.1 267.3 L478.6 264.6 L480.2 261.8 L481.8 258.9 L483.5 256.0 L485.1 253.1 L486.8 250.2 L488.4 247.3 L490.0 244.5 L491.5 241.7 L493.1 238.9 L494.6 236.1 L496.1 233.2 L497.7 230.4 L499.2 227.6 L500.8 224.8 L502.3 222.0 L503.9 219.3 L505.4 216.6 L507.0 214.0 L508.8 211.1 L510.5 208.2 L512.3 205.4 L514.0 202.5 L515.8 199.8 L517.6 197.1 L519.4 194.6 L521.2 192.2 L523.0 190.0 L525.6 187.3 L528.1 185.0 L530.7 182.9 L533.3 180.7 L536.0 178.5 L538.4 176.4 L540.8 174.2 L543.3 172.0 L545.8 169.8 L548.3 167.6 L550.8 165.5 L553.3 163.3 L555.8 161.0 L558.3 158.7 L560.8 156.6 L563.4 154.6 L566.0 153.0 L568.9 151.7 L571.9 150.7 L575.0 149.9 L578.1 149.2 L581.2 148.3 L584.5 147.2 L587.7 145.9 L591.0 144.7 L594.5 143.5 L598.2 142.4 L600.9 141.7 L603.8 141.0 L606.7 140.3 L609.8 139.7 L612.9 139.1 L616.0 138.6 L619.1 138.1 L622.3 137.8 L625.4 137.5 L628.6 137.4 L631.8 137.4 L635.0 137.6 L638.2 137.8 L641.5 138.1 L644.7 138.4 L648.0 138.6 L651.3 138.9 L654.6 139.0 L657.7 139.1 L660.9 139.1 L664.0 139.1 L667.2 139.1 L670.4 139.1 L673.6 139.1 L676.8 139.1 L680.0 139.1 L683.2 139.1 L686.4 139.1" stroke="#e6d23c" stroke-width="1.5"/>
<path d="M105.3 433.5 L108.5 432.8 L111.8 432.1 L115.1 431.5 L118.3 430.8 L121.6 430.1 L124.8 429.4 L128.0 428.6 L131.1 427.8 L134.1 426.9 L137.1 426.0 L140.1 425.0 L143.2 424.1 L146.5 423.3 L150.0 422.7 L152.7 422.3 L155.5 422.1 L158.4 421.8 L161.4 421.7 L164.5 421.5 L167.6 421.4 L170.8 421.4 L174.1 421.3 L177.3 421.3 L180.5 421.3 L183.7 421.3 L186.9 421.3 L190.0 421.3 L193.1 421.3 L196.1 421.3 L199.1 421.3 L202.2 421.3 L205.2 421.4 L208.2 421.5 L211.2 421.5 L214.3 421.6 L217.4 421.7 L220.5 421.8 L223.6 421.8 L226.8 421.9 L230.0 422.0 L233.0 422.1 L236.0 422.1 L239.0 422.2 L242.1 422.3 L245.2 422.4 L248.3 422.5 L251.5 422.6 L254.7 422.7 L257.8 422.7 L261.0 422.8 L264.2 422.9 L267.4 423.0 L270.5 423.1 L273.7 423.2 L276.9 423.2 L280.0 423.3 L283.2 423.4 L286.4 423.4 L289.8 423.5 L293.2 423.6 L296.6 423.6 L300.0 423.7 L303.4 423.8 L306.8 423.8 L310.1 423.9 L313.4 423.9 L316.5 424.0 L319.6 424.0 L322.4 424.0 L325.1 424.0 L327.7 424.0 L330.0 424.0 L333.6 424.0 L336.6 423.9 L339.4 423.8 L342.1 423.7 L345.0 423.5 L348.2 423.3 L351.4 423.1 L354.7 422.8 L357.9 422.5 L361.2 422.1 L364.4 421.7 L367.7 421.3 L371.0 420.9 L374.2 420.3 L377.3 419.8 L380.7 419.1 L384.0 418.5 L387.3 417.6 L390.5 416.5 L393.4 415.2 L396.3 413.6 L399.1 411.9 L401.9 410.1 L404.3 408.3 L407.1 406.0 L409.5 403.7 L412.0 401.0 L414.0 398.5 L416.0 395.8 L418.1 392.9 L420.1 389.9 L422.0 387.0 L423.8 384.2 L425.6 381.3 L427.3 378.5 L429.0 375.6 L430.7 372.8 L432.6 369.6 L434.4 366.5 L436.2 363.3 L437.9 360.1 L439.4 357.4 L440.9 354.6 L442.3 351.7 L443.7 348.9 L445.1 346.0 L446.6 343.0 L448.1 339.9 L449.5 336.7 L451.0 333.6 L452.5 330.5 L453.9 327.4 L455.4 324.3 L456.9 321.2 L458.3 318.1 L459.7 315.0 L460.9 312.1 L462.0 309.3 L463.2 306.5 L464.3 303.7 L465.5 300.9 L466.6 298.1 L467.9 295.2 L469.1 292.4 L470.2 289.6 L471.4 286.8 L472.5 283.8 L473.5 281.0 L474.6 278.0 L476.0 274.6 L477.1 272.3 L478.3 269.9 L479.7 267.3 L481.1 264.6 L482.7 261.8 L484.3 258.9 L485.9 256.0 L487.6 253.0 L489.3 250.1 L490.9 247.3 L492.5 244.5 L494.1 241.7 L495.8 238.9 L497.5 236.0 L499.2 233.2 L500.9 230.3 L502.6 227.5 L504.3 224.7 L506.0 221.9 L507.7 219.2 L509.4 216.6 L511.0 214.0 L512.9 211.0 L514.8 207.9 L516.6 204.9 L518.5 202.0 L520.3 199.2 L522.2 196.6 L524.1 194.1 L526.0 192.0 L528.9 189.5 L531.9 187.5 L534.9 185.6 L538.2 183.5 L540.7 181.7 L543.4 179.6 L546.1 177.5 L548.9 175.4 L551.8 173.3 L554.7 171.3 L557.5 169.5 L560.5 167.8 L563.6 166.1 L566.6 164.6 L569.7 163.2 L572.9 161.8 L576.2 160.5 L579.0 159.4 L582.0 158.3 L585.0 157.3 L588.0 156.2 L591.1 155.3 L594.1 154.3 L597.1 153.5 L600.0 152.7 L603.2 151.9 L606.4 151.2 L609.4 150.6 L612.5 150.0 L615.7 149.5 L619.0 148.9 L622.0 148.4 L625.1 147.9 L628.2 147.4 L631.5 146.9 L634.7 146.5 L638.0 146.0 L641.2 145.5 L644.4 145.1 L647.6 144.7 L650.9 144.2 L654.2 143.7 L657.4 143.3 L660.7 142.9 L663.8 142.5 L666.9 142.2 L669.8 141.9 L673.3 141.7 L676.7 141.5 L679.9 141.5 L683.1 141.4 L686.4 141.3" stroke="#ead84c" stroke-width="1.5"/>
<path d="M435.2 413.3 L438.5 411.8 L441.6 410.1 L444.6 408.2 L447.4 406.2 L450.0 404.2 L453.4 401.3 L456.5 398.0 L458.3 395.6 L460.1 392.9 L461.8 390.2 L463.4 387.5 L465.4 384.3 L467.2 381.2 L469.1 378.0 L471.1 374.7 L473.0 371.3 L474.9 367.8 L476.4 365.0 L477.8 362.1 L479.2 359.2 L480.6 356.3 L482.0 353.4 L483.4 350.6 L484.9 347.7 L486.3 344.8 L487.8 341.5 L489.4 338.2 L490.9 334.8 L492.5 331.5 L493.9 328.8 L495.3 326.1 L496.7 323.4 L498.1 320.7 L499.5 318.0 L500.8 315.2 L502.2 312.4 L503.5 309.6 L504.8 306.8 L506.0 304.0 L507.4 300.7 L508.8 297.5 L510.1 294.2 L511.5 291.0 L512.8 287.8 L514.2 284.5 L515.5 281.3 L516.9 278.0 L518.2 274.7 L519.6 271.4 L520.9 268.2 L522.3 265.0 L523.8 262.0 L525.2 259.1 L526.7 256.2 L528.1 253.3 L529.3 250.4 L530.5 247.4 L531.6 244.4 L532.7 241.5 L534.1 237.9 L535.5 234.3 L537.2 230.4 L538.5 227.6 L540.0 224.6 L541.6 221.4 L543.2 218.2 L544.8 215.1 L546.3 212.0 L547.6 209.2 L548.9 206.4 L550.1 203.6 L551.3 200.8 L552.6 198.0 L553.8 195.1 L555.1 192.3 L556.4 189.4 L557.6 186.5 L559.0 183.5 L560.3 180.6 L561.6 177.8 L563.0 175.2 L564.8 172.2 L566.5 169.3 L568.4 166.6 L570.3 163.9 L572.2 161.4 L574.3 159.2 L576.3 157.1 L578.5 155.1 L580.7 153.0 L583.0 150.7 L585.6 150.7 L583.4 152.9 L581.1 154.9 L579.0 157.0 L576.9 159.1 L574.9 161.4 L572.9 163.9 L571.0 166.6 L569.1 169.3 L567.4 172.2 L565.6 175.2 L564.3 177.8 L562.9 180.6 L561.6 183.5 L560.2 186.5 L559.0 189.4 L557.7 192.3 L556.4 195.1 L555.1 198.0 L553.9 200.8 L552.7 203.6 L551.4 206.4 L550.2 209.2 L548.8 212.0 L547.3 215.1 L545.7 218.3 L544.1 221.4 L542.4 224.6 L540.9 227.6 L539.6 230.4 L537.9 234.3 L536.5 237.9 L535.1 241.5 L533.9 244.4 L532.8 247.4 L531.6 250.4 L530.4 253.3 L529.0 256.2 L527.5 259.1 L526.0 262.0 L524.6 265.0 L523.1 268.2 L521.8 271.4 L520.4 274.7 L519.0 278.0 L517.7 281.2 L516.3 284.5 L514.9 287.7 L513.5 291.0 L512.2 294.2 L510.8 297.5 L509.4 300.7 L508.0 304.0 L506.8 306.8 L505.5 309.6 L504.2 312.4 L502.8 315.2 L501.5 318.0 L500.1 320.7 L498.7 323.4 L497.3 326.1 L495.9 328.8 L494.5 331.5 L492.9 334.8 L491.4 338.2 L489.8 341.5 L488.3 344.8 L486.9 347.7 L485.4 350.6 L484.0 353.4 L482.6 356.3 L481.2 359.2 L479.8 362.1 L478.4 365.0 L476.9 367.8 L475.0 371.3 L473.1 374.7 L471.1 378.0 L469.2 381.2 L467.4 384.3 L465.4 387.5 L463.8 390.2 L462.1 392.9 L460.3 395.6 L458.5 398.0 L455.4 401.3 L452.0 404.2 L449.4 406.2 L446.6 408.2 L443.6 410.1 L440.5 411.8 L437.2 413.3Z" style="fill:url(#g1);stroke:none"/>
<path d="M105.3 436.0 L108.5 435.2 L111.8 434.3 L115.1 433.5 L118.3 432.7 L121.5 431.8 L124.8 431.0 L128.0 430.1 L131.1 429.2 L134.1 428.2 L137.1 427.1 L140.1 426.1 L143.2 425.1 L146.5 424.3 L150.0 423.6 L152.7 423.2 L155.5 422.9 L158.4 422.7 L161.4 422.5 L164.5 422.4 L167.6 422.3 L170.8 422.2 L174.0 422.2 L177.3 422.2 L180.5 422.2 L183.7 422.2 L186.9 422.2 L190.0 422.2 L193.1 422.2 L196.1 422.2 L199.1 422.2 L202.2 422.2 L205.2 422.3 L208.2 422.4 L211.2 422.4 L214.3 422.5 L217.4 422.6 L220.5 422.7 L223.6 422.7 L226.8 422.8 L230.0 422.9 L233.0 423.0 L236.0 423.0 L239.0 423.1 L242.1 423.2 L245.2 423.3 L248.3 423.4 L251.5 423.5 L254.7 423.6 L257.8 423.6 L261.0 423.7 L264.2 423.8 L267.4 423.9 L270.5 424.0 L273.7 424.1 L276.9 424.1 L280.0 424.2 L283.2 424.3 L286.4 424.3 L289.7 424.4 L293.0 424.4 L296.4 424.5 L299.7 424.5 L303.1 424.6 L306.4 424.6 L309.7 424.7 L312.9 424.7 L316.0 424.8 L319.1 424.8 L322.0 424.8 L324.8 424.8 L327.5 424.9 L330.0 424.9 L333.9 424.9 L337.6 425.0 L341.0 425.0 L344.2 425.0 L347.2 425.0 L350.0 425.0 L353.4 425.0 L356.4 425.1 L360.0 425.1 L362.6 425.1 L365.5 425.1 L368.8 425.2 L372.2 425.2 L375.7 425.2 L379.2 425.2 L382.6 425.1 L385.8 424.9 L388.8 424.7 L392.1 424.4 L395.2 424.0 L398.2 423.5 L401.1 423.0 L404.0 422.4 L406.9 421.8 L410.1 420.9 L413.4 419.9 L416.5 418.9 L419.6 417.8 L422.7 416.8 L426.3 415.6 L429.8 414.5 L433.2 413.3 L436.5 411.8 L439.6 410.1 L442.6 408.2 L445.4 406.2 L448.0 404.2 L451.4 401.3 L454.5 398.0 L456.3 395.6 L458.1 392.9 L459.8 390.2 L461.4 387.5 L463.4 384.3 L465.2 381.2 L467.1 378.0 L469.1 374.7 L471.0 371.3 L472.9 367.8 L474.4 365.0 L475.8 362.1 L477.2 359.2 L478.6 356.3 L480.0 353.4 L481.4 350.6 L482.9 347.7 L484.3 344.8 L485.8 341.5 L487.4 338.2 L488.9 334.9 L490.5 331.5 L492.1 328.2 L493.8 324.9 L495.4 321.5 L497.0 318.0 L498.1 315.2 L499.0 312.4 L499.9 309.5 L500.9 306.5 L501.9 303.3 L503.0 300.0 L503.9 297.5 L504.9 294.8 L505.9 292.1 L506.9 289.2 L508.0 286.3 L509.1 283.4 L510.2 280.4 L511.3 277.4 L512.4 274.5 L513.5 271.5 L514.5 268.6 L515.5 265.7 L516.5 262.7 L517.5 259.8 L518.5 256.8 L519.4 253.8 L520.4 250.8 L521.4 247.9 L522.3 244.9 L523.3 242.1 L524.2 239.3 L525.2 236.5 L526.4 233.3 L527.5 230.1 L528.7 227.0 L529.8 224.0 L530.9 221.0 L532.1 218.0 L533.2 215.0 L534.4 212.0 L535.5 209.1 L536.7 206.1 L537.8 203.2 L538.9 200.3 L540.1 197.4 L541.3 194.6 L542.4 191.8 L543.6 189.0 L544.9 186.1 L546.2 183.2 L547.5 180.4 L548.8 177.5 L550.2 174.7 L551.5 171.9 L552.8 169.1 L554.1 166.2 L555.4 163.3 L556.7 160.4 L558.0 157.5 L559.3 154.6 L560.6 151.8 L562.0 149.2 L563.7 146.2 L565.5 143.4 L567.3 140.7 L569.2 137.9 L571.1 134.8 L572.5 132.4 L573.9 129.9 L575.4 127.3 L576.9 124.6 L578.4 121.8 L580.0 119.1 L581.5 116.3 L583.0 113.7 L584.6 111.1 L586.3 108.4 L587.9 105.8 L589.6 103.2 L591.3 100.6 L593.0 98.0 L594.7 95.6 L596.5 93.1 L598.2 90.8 L600.3 88.1 L602.4 85.4 L604.4 82.9 L606.6 80.4 L608.7 78.0 L611.0 75.7 L613.6 73.1 L616.3 70.4 L619.1 67.9 L622.0 65.9 L625.0 64.4 L628.1 63.9 L631.3 64.1 L634.6 64.6 L637.9 64.8 L641.0 64.4 L643.9 63.0 L646.7 61.0 L649.4 58.7 L652.1 56.4 L655.0 54.6 L657.9 53.3 L660.9 52.2 L663.9 51.3 L666.9 50.4 L670.0 49.5 L673.2 48.5 L676.5 47.6 L679.8 46.7 L683.1 45.7 L686.4 44.8" stroke="#50c040" stroke-width="1.5"/>
<path d="M105.3 435.0 L108.5 434.3 L111.8 433.5 L115.1 432.8 L118.3 432.0 L121.5 431.3 L124.8 430.5 L128.0 429.8 L131.1 429.0 L134.1 428.1 L137.1 427.2 L140.1 426.3 L143.2 425.5 L146.5 424.8 L150.0 424.2 L152.7 423.9 L155.5 423.6 L158.4 423.4 L161.4 423.2 L164.5 423.1 L167.6 423.0 L170.8 422.9 L174.1 422.9 L177.3 422.9 L180.5 422.8 L183.7 422.8 L186.9 422.8 L190.0 422.8 L193.1 422.8 L196.1 422.8 L199.1 422.8 L202.2 422.8 L205.2 422.9 L208.2 423.0 L211.2 423.0 L214.3 423.1 L217.4 423.2 L220.5 423.3 L223.6 423.3 L226.8 423.4 L230.0 423.5 L233.0 423.6 L236.0 423.6 L239.0 423.7 L242.1 423.8 L245.2 423.9 L248.3 424.0 L251.5 424.1 L254.7 424.2 L257.8 424.2 L261.0 424.3 L264.2 424.4 L267.4 424.5 L270.5 424.6 L273.7 424.7 L276.9 424.7 L280.0 424.8 L283.2 424.9 L286.4 424.9 L289.7 425.0 L293.0 425.0 L296.4 425.1 L299.7 425.1 L303.1 425.2 L306.4 425.2 L309.7 425.3 L312.9 425.3 L316.0 425.4 L319.1 425.4 L322.0 425.4 L324.8 425.4 L327.5 425.5 L330.0 425.5 L333.9 425.5 L337.6 425.6 L341.0 425.6 L344.2 425.6 L347.2 425.6 L350.0 425.6 L353.4 425.6 L356.4 425.7 L360.0 425.7 L362.6 425.7 L365.6 425.7 L368.9 425.7 L372.4 425.7 L376.0 425.7 L379.6 425.6 L383.1 425.5 L386.4 425.4 L389.5 425.1 L392.9 424.8 L396.1 424.3 L399.2 423.8 L402.2 423.3 L405.2 422.7 L408.2 422.0 L411.6 421.1 L415.0 420.1 L418.3 419.0 L421.5 417.9 L424.7 416.8 L428.3 415.6 L431.8 414.5 L435.2 413.3 L438.5 411.8 L441.6 410.1 L444.6 408.2 L447.4 406.2 L450.0 404.2 L453.4 401.3 L456.5 398.0 L458.3 395.6 L460.1 392.9 L461.8 390.2 L463.4 387.5 L465.4 384.3 L467.2 381.2 L469.1 378.0 L471.1 374.7 L473.0 371.3 L474.9 367.8 L476.4 365.0 L477.8 362.1 L479.2 359.2 L480.6 356.3 L482.0 353.4 L483.4 350.6 L484.9 347.7 L486.3 344.8 L487.8 341.5 L489.4 338.2 L490.9 334.8 L492.5 331.5 L493.9 328.8 L495.3 326.1 L496.7 323.4 L498.1 320.7 L499.5 318.0 L500.8 315.2 L502.2 312.4 L503.5 309.6 L504.8 306.8 L506.0 304.0 L507.4 300.7 L508.8 297.5 L510.1 294.2 L511.5 291.0 L512.8 287.8 L514.2 284.5 L515.5 281.3 L516.9 278.0 L518.2 274.7 L519.6 271.4 L520.9 268.2 L522.3 265.0 L523.8 262.0 L525.2 259.1 L526.7 256.2 L528.1 253.3 L529.3 250.4 L530.5 247.4 L531.6 244.4 L532.7 241.5 L534.1 237.9 L535.5 234.3 L537.2 230.4 L538.5 227.6 L540.0 224.6 L541.6 221.4 L543.2 218.2 L544.8 215.1 L546.3 212.0 L547.6 209.2 L548.9 206.4 L550.1 203.6 L551.3 200.8 L552.6 198.0 L553.8 195.1 L555.1 192.3 L556.4 189.4 L557.6 186.5 L559.0 183.5 L560.3 180.6 L561.6 177.8 L563.0 175.2 L564.8 172.2 L566.5 169.3 L568.4 166.6 L570.3 163.9 L572.2 161.4 L574.3 159.2 L576.3 157.1 L578.5 155.1 L580.7 153.0 L583.0 150.7 L585.0 148.6 L587.1 146.2 L589.2 143.7 L591.4 141.2 L593.6 138.6 L595.8 136.1 L598.0 133.7 L600.0 131.5 L602.6 128.7 L605.2 126.1 L607.7 123.7 L610.2 121.2 L612.7 118.8 L615.2 116.5 L617.8 114.2 L620.3 112.0 L622.9 109.7 L625.4 107.4 L627.9 104.9 L630.3 102.4 L632.8 99.8 L635.3 97.2 L638.0 94.7 L640.6 92.5 L643.3 90.3 L646.1 88.1 L648.9 86.0 L651.8 83.9 L654.6 82.0 L657.3 80.2 L660.0 78.5 L662.7 76.8 L665.5 75.2 L668.2 73.7 L671.0 72.4 L674.1 71.2 L677.1 70.1 L680.2 69.2 L683.3 68.3 L686.4 67.4" stroke="#70d030" stroke-width="1.5"/>
<path d="M105.3 437.0 L108.5 436.1 L111.8 435.3 L115.0 434.4 L118.3 433.5 L121.5 432.6 L124.8 431.7 L128.0 430.9 L131.1 429.9 L134.1 429.0 L137.1 428.0 L140.1 427.0 L143.2 426.1 L146.5 425.3 L150.0 424.6 L152.7 424.2 L155.5 423.9 L158.4 423.7 L161.4 423.5 L164.5 423.4 L167.6 423.3 L170.8 423.3 L174.0 423.2 L177.3 423.2 L180.5 423.2 L183.7 423.2 L186.9 423.2 L190.0 423.2 L193.1 423.2 L196.1 423.2 L199.1 423.2 L202.2 423.2 L205.2 423.3 L208.2 423.4 L211.2 423.4 L214.3 423.5 L217.4 423.6 L220.5 423.7 L223.6 423.7 L226.8 423.8 L230.0 423.9 L233.0 424.0 L236.0 424.0 L239.0 424.1 L242.1 424.2 L245.2 424.3 L248.3 424.4 L251.5 424.5 L254.7 424.6 L257.8 424.6 L261.0 424.7 L264.2 424.8 L267.4 424.9 L270.5 425.0 L273.7 425.1 L276.9 425.1 L280.0 425.2 L283.2 425.3 L286.4 425.3 L289.7 425.4 L293.0 425.4 L296.4 425.5 L299.7 425.5 L303.1 425.6 L306.4 425.6 L309.7 425.7 L312.9 425.7 L316.0 425.8 L319.1 425.8 L322.0 425.8 L324.8 425.8 L327.5 425.9 L330.0 425.9 L333.9 425.9 L337.6 426.0 L341.0 426.0 L344.2 426.0 L347.2 426.0 L350.0 426.0 L353.4 426.0 L356.4 426.1 L360.0 426.1 L362.4 426.1 L365.1 426.1 L368.1 426.1 L371.2 426.1 L374.5 426.1 L377.8 426.0 L381.1 425.9 L384.3 425.8 L387.4 425.6 L390.2 425.4 L393.7 425.0 L397.0 424.6 L400.2 424.0 L403.3 423.5 L406.4 422.8 L409.5 422.1 L413.1 421.2 L416.6 420.1 L420.0 419.0 L423.4 417.9 L426.7 416.8 L430.3 415.6 L433.8 414.5 L437.2 413.3 L440.5 411.8 L443.6 410.1 L446.6 408.2 L449.4 406.2 L452.0 404.2 L455.4 401.3 L458.5 398.0 L460.3 395.6 L462.1 392.9 L463.8 390.2 L465.4 387.5 L467.4 384.3 L469.2 381.2 L471.1 378.0 L473.1 374.7 L475.0 371.3 L476.9 367.8 L478.4 365.0 L479.8 362.1 L481.2 359.2 L482.6 356.3 L484.0 353.4 L485.4 350.6 L486.9 347.7 L488.3 344.8 L489.8 341.5 L491.4 338.2 L492.9 334.8 L494.5 331.5 L495.9 328.8 L497.3 326.1 L498.7 323.4 L500.1 320.7 L501.5 318.0 L502.8 315.2 L504.2 312.4 L505.5 309.6 L506.8 306.8 L508.0 304.0 L509.4 300.7 L510.8 297.5 L512.2 294.2 L513.5 291.0 L514.9 287.7 L516.3 284.5 L517.7 281.2 L519.0 278.0 L520.4 274.7 L521.8 271.4 L523.1 268.2 L524.6 265.0 L526.0 262.0 L527.5 259.1 L529.0 256.2 L530.4 253.3 L531.6 250.4 L532.8 247.4 L533.9 244.4 L535.1 241.5 L536.5 237.9 L537.9 234.3 L539.6 230.4 L540.9 227.6 L542.4 224.6 L544.1 221.4 L545.7 218.3 L547.3 215.1 L548.8 212.0 L550.2 209.2 L551.4 206.4 L552.7 203.6 L553.9 200.8 L555.1 198.0 L556.4 195.1 L557.7 192.3 L559.0 189.4 L560.2 186.5 L561.6 183.5 L562.9 180.6 L564.3 177.8 L565.6 175.2 L567.4 172.2 L569.1 169.3 L571.0 166.6 L572.9 163.9 L574.9 161.4 L576.9 159.1 L579.0 157.0 L581.1 154.9 L583.4 152.9 L585.6 150.7 L587.9 148.5 L590.4 146.2 L592.8 143.9 L595.3 141.6 L597.7 139.3 L600.0 137.0 L602.3 134.5 L604.4 132.0 L606.5 129.5 L608.7 127.0 L611.3 124.5 L613.4 122.7 L615.6 120.8 L617.9 119.0 L620.4 117.1 L622.9 115.2 L625.5 113.4 L628.1 111.6 L630.7 109.9 L633.3 108.3 L636.2 106.6 L639.0 104.9 L641.9 103.2 L644.9 101.6 L647.9 100.1 L650.9 98.7 L654.0 97.5 L657.2 96.5 L660.3 95.7 L663.4 95.2 L666.6 94.8 L669.9 94.5 L673.2 94.3 L676.5 94.1 L679.8 93.9 L683.1 93.7 L686.4 93.4" stroke="#68d438" stroke-width="1.5"/>
<path d="M105.3 434.6 L108.5 433.9 L111.8 433.2 L115.1 432.5 L118.3 431.7 L121.5 431.0 L124.8 430.3 L128.0 429.5 L131.1 428.7 L134.1 427.9 L137.1 427.0 L140.1 426.1 L143.2 425.3 L146.5 424.6 L150.0 424.0 L152.7 423.7 L155.5 423.4 L158.4 423.2 L161.4 423.0 L164.5 422.9 L167.6 422.8 L170.8 422.7 L174.1 422.7 L177.3 422.7 L180.5 422.6 L183.7 422.6 L186.9 422.6 L190.0 422.6 L193.1 422.6 L196.1 422.6 L199.1 422.6 L202.2 422.6 L205.2 422.7 L208.2 422.8 L211.2 422.8 L214.3 422.9 L217.4 423.0 L220.5 423.1 L223.6 423.1 L226.8 423.2 L230.0 423.3 L233.0 423.4 L236.0 423.4 L239.0 423.5 L242.1 423.6 L245.2 423.7 L248.3 423.8 L251.5 423.9 L254.7 424.0 L257.8 424.0 L261.0 424.1 L264.2 424.2 L267.4 424.3 L270.5 424.4 L273.7 424.5 L276.9 424.5 L280.0 424.6 L283.2 424.7 L286.4 424.7 L289.7 424.8 L293.0 424.8 L296.4 424.9 L299.7 424.9 L303.1 425.0 L306.4 425.0 L309.7 425.1 L312.9 425.1 L316.0 425.2 L319.1 425.2 L322.0 425.2 L324.8 425.2 L327.5 425.3 L330.0 425.3 L333.9 425.3 L337.6 425.4 L341.0 425.4 L344.2 425.4 L347.2 425.4 L350.0 425.4 L353.4 425.4 L356.4 425.5 L360.0 425.5 L362.4 425.5 L365.1 425.5 L368.1 425.5 L371.3 425.5 L374.6 425.5 L378.0 425.5 L381.3 425.4 L384.6 425.3 L387.7 425.2 L390.5 425.0 L394.1 424.6 L397.4 424.2 L400.7 423.7 L403.9 423.2 L407.1 422.6 L410.2 421.9 L413.2 421.2 L416.2 420.4 L419.2 419.5 L422.1 418.6 L424.9 417.7 L427.7 416.8 L431.3 415.6 L434.8 414.5 L438.2 413.3 L441.5 411.8 L444.6 410.1 L447.6 408.2 L450.4 406.2 L453.0 404.2 L456.4 401.3 L459.5 398.0 L461.3 395.6 L463.1 392.9 L464.8 390.2 L466.4 387.5 L468.4 384.3 L470.2 381.2 L472.1 378.0 L474.1 374.7 L476.0 371.3 L477.9 367.8 L479.4 365.0 L480.8 362.1 L482.2 359.2 L483.6 356.3 L485.0 353.4 L486.4 350.6 L487.9 347.7 L489.3 344.8 L490.8 341.5 L492.4 338.2 L493.9 334.8 L495.5 331.5 L496.9 328.8 L498.3 326.1 L499.7 323.4 L501.1 320.7 L502.5 318.0 L503.8 315.2 L505.2 312.4 L506.5 309.6 L507.8 306.8 L509.0 304.0 L510.4 300.7 L511.8 297.5 L513.2 294.2 L514.5 291.0 L515.9 287.7 L517.3 284.5 L518.7 281.2 L520.1 278.0 L521.5 274.7 L522.8 271.4 L524.2 268.2 L525.7 265.0 L527.1 262.0 L528.6 259.1 L530.1 256.2 L531.5 253.3 L532.8 250.4 L534.0 247.4 L535.1 244.4 L536.3 241.5 L537.7 238.0 L539.1 234.5 L540.8 230.4 L541.8 228.2 L542.8 225.7 L543.9 223.0 L545.1 220.0 L546.4 217.0 L547.7 213.9 L549.1 210.8 L550.5 207.7 L551.9 204.7 L553.3 201.9 L554.6 199.3 L556.0 197.0 L557.9 194.0 L559.9 191.4 L561.9 188.9 L563.9 186.6 L566.0 184.3 L568.0 182.0 L570.3 179.3 L572.7 176.8 L575.0 174.3 L577.4 171.7 L580.0 169.0 L582.0 166.9 L584.1 164.7 L586.2 162.5 L588.4 160.3 L590.7 158.0 L592.8 155.8 L595.0 153.6 L597.0 151.5 L599.2 149.1 L601.4 146.8 L603.5 144.5 L605.6 142.3 L607.7 140.1 L610.0 138.0 L612.4 135.9 L614.8 133.8 L617.3 131.7 L619.9 129.7 L622.4 127.8 L625.0 126.0 L627.9 124.0 L630.8 122.1 L633.7 120.3 L636.8 118.6 L640.0 117.0 L642.6 115.9 L645.3 114.8 L648.1 113.8 L651.0 112.9 L653.9 112.0 L656.9 111.2 L660.0 110.5 L663.1 109.8 L666.3 109.3 L669.6 108.8 L672.9 108.4 L676.3 108.0 L679.7 107.6 L683.1 107.1 L686.4 106.7" stroke="#60d040" stroke-width="1.5"/>
<path d="M105.3 436.5 L108.5 435.7 L111.8 434.8 L115.0 434.0 L118.3 433.1 L121.5 432.3 L124.8 431.4 L128.0 430.6 L131.1 429.7 L134.1 428.7 L137.1 427.7 L140.1 426.7 L143.2 425.8 L146.5 425.1 L150.0 424.4 L152.7 424.0 L155.5 423.7 L158.4 423.5 L161.4 423.3 L164.5 423.2 L167.6 423.1 L170.8 423.1 L174.1 423.0 L177.3 423.0 L180.5 423.0 L183.7 423.0 L186.9 423.0 L190.0 423.0 L193.1 423.0 L196.1 423.0 L199.1 423.0 L202.2 423.0 L205.2 423.1 L208.2 423.2 L211.2 423.2 L214.3 423.3 L217.4 423.4 L220.5 423.5 L223.6 423.5 L226.8 423.6 L230.0 423.7 L233.0 423.8 L236.0 423.8 L239.0 423.9 L242.1 424.0 L245.2 424.1 L248.3 424.2 L251.5 424.3 L254.7 424.4 L257.8 424.4 L261.0 424.5 L264.2 424.6 L267.4 424.7 L270.5 424.8 L273.7 424.9 L276.9 424.9 L280.0 425.0 L283.2 425.1 L286.4 425.1 L289.7 425.2 L293.0 425.2 L296.4 425.3 L299.7 425.3 L303.1 425.4 L306.4 425.4 L309.7 425.5 L312.9 425.5 L316.0 425.6 L319.1 425.6 L322.0 425.6 L324.8 425.6 L327.5 425.7 L330.0 425.7 L333.9 425.7 L337.6 425.8 L341.0 425.8 L344.2 425.8 L347.2 425.8 L350.0 425.8 L353.4 425.8 L356.4 425.9 L360.0 425.9 L362.4 425.9 L365.2 425.9 L368.2 425.9 L371.4 425.9 L374.8 425.9 L378.2 425.8 L381.5 425.8 L384.8 425.6 L387.9 425.5 L390.8 425.3 L394.4 424.9 L397.9 424.5 L401.2 423.9 L404.5 423.4 L407.7 422.7 L410.9 422.0 L413.9 421.3 L417.0 420.5 L420.0 419.6 L423.0 418.7 L425.9 417.7 L428.7 416.8 L432.3 415.6 L435.8 414.5 L439.2 413.3 L442.5 411.8 L445.6 410.1 L448.6 408.2 L451.4 406.2 L454.0 404.2 L457.4 401.3 L460.5 398.0 L462.3 395.6 L464.1 392.9 L465.8 390.2 L467.4 387.5 L469.4 384.3 L471.2 381.2 L473.1 378.0 L475.1 374.7 L477.0 371.3 L478.9 367.8 L480.4 365.0 L481.8 362.1 L483.2 359.2 L484.6 356.3 L486.0 353.4 L487.4 350.6 L488.9 347.7 L490.3 344.8 L491.8 341.5 L493.4 338.2 L494.9 334.8 L496.5 331.5 L497.9 328.8 L499.3 326.1 L500.7 323.4 L502.1 320.7 L503.5 318.0 L504.8 315.2 L506.2 312.4 L507.5 309.6 L508.8 306.8 L510.0 304.0 L511.4 300.7 L512.8 297.5 L514.2 294.2 L515.6 291.0 L517.0 287.7 L518.4 284.5 L519.8 281.2 L521.2 278.0 L522.6 274.7 L523.9 271.4 L525.3 268.2 L526.8 265.0 L528.2 262.0 L529.7 259.1 L531.2 256.2 L532.7 253.3 L533.9 250.4 L535.1 247.4 L536.3 244.4 L537.4 241.5 L538.5 238.8 L539.5 236.1 L540.6 233.4 L542.0 230.4 L543.4 227.8 L544.9 224.9 L546.6 221.9 L548.4 218.8 L550.3 215.8 L552.1 212.8 L554.0 210.0 L556.0 207.2 L558.1 204.4 L560.1 201.7 L562.3 199.1 L564.4 196.6 L566.6 194.0 L568.8 191.5 L570.9 189.1 L573.1 186.7 L575.3 184.3 L577.6 181.9 L580.0 179.5 L582.3 177.3 L584.6 175.0 L587.0 172.7 L589.4 170.5 L591.9 168.2 L594.3 166.1 L596.7 164.0 L599.2 161.8 L601.7 159.8 L604.2 157.7 L606.7 155.8 L609.3 153.8 L612.0 152.0 L614.8 150.2 L617.7 148.4 L620.6 146.7 L623.6 145.0 L626.7 143.5 L630.0 142.0 L632.9 140.8 L635.8 139.7 L638.9 138.6 L642.0 137.6 L645.2 136.6 L648.4 135.7 L651.7 134.8 L655.0 134.0 L658.0 133.3 L661.0 132.7 L664.1 132.0 L667.3 131.5 L670.4 130.9 L673.6 130.4 L676.9 129.9 L680.1 129.4 L683.2 128.9 L686.4 128.3" stroke="#78dc40" stroke-width="1.5"/>
<path d="M105.3 435.5 L108.5 434.7 L111.8 434.0 L115.0 433.2 L118.3 432.5 L121.5 431.7 L124.8 430.9 L128.0 430.2 L131.1 429.4 L134.1 428.5 L137.1 427.7 L140.1 426.8 L143.2 426.1 L146.5 425.4 L150.0 424.8 L152.7 424.5 L155.5 424.2 L158.4 424.0 L161.4 423.8 L164.5 423.7 L167.6 423.6 L170.8 423.5 L174.1 423.5 L177.3 423.5 L180.5 423.4 L183.7 423.4 L186.9 423.4 L190.0 423.4 L193.1 423.4 L196.1 423.4 L199.1 423.4 L202.2 423.4 L205.2 423.5 L208.2 423.6 L211.2 423.6 L214.3 423.7 L217.4 423.8 L220.5 423.9 L223.6 423.9 L226.8 424.0 L230.0 424.1 L233.0 424.2 L236.0 424.2 L239.0 424.3 L242.1 424.4 L245.2 424.5 L248.3 424.6 L251.5 424.7 L254.7 424.8 L257.8 424.8 L261.0 424.9 L264.2 425.0 L267.4 425.1 L270.5 425.2 L273.7 425.3 L276.9 425.3 L280.0 425.4 L283.2 425.5 L286.4 425.5 L289.7 425.6 L293.0 425.6 L296.4 425.7 L299.7 425.7 L303.1 425.8 L306.4 425.8 L309.7 425.9 L312.9 425.9 L316.0 426.0 L319.1 426.0 L322.0 426.0 L324.8 426.0 L327.5 426.1 L330.0 426.1 L333.9 426.1 L337.6 426.2 L341.0 426.2 L344.2 426.2 L347.2 426.2 L350.0 426.2 L353.4 426.2 L356.4 426.3 L360.0 426.3 L362.5 426.3 L365.3 426.3 L368.5 426.3 L371.8 426.3 L375.3 426.2 L378.8 426.2 L382.3 426.1 L385.7 425.9 L389.0 425.8 L392.0 425.5 L395.3 425.2 L398.4 424.8 L401.5 424.4 L404.4 423.9 L407.4 423.4 L410.3 422.8 L413.2 422.2 L416.5 421.4 L419.7 420.6 L423.0 419.6 L426.2 418.7 L429.2 417.7 L432.2 416.8 L435.9 415.6 L439.4 414.5 L442.7 413.3 L446.0 411.8 L449.1 410.1 L452.1 408.2 L454.9 406.2 L457.5 404.2 L460.9 401.3 L464.0 398.0 L465.8 395.6 L467.6 392.9 L469.3 390.2 L470.9 387.5 L472.9 384.3 L474.7 381.2 L476.6 378.0 L478.6 374.7 L480.5 371.3 L482.4 367.8 L483.9 365.0 L485.3 362.1 L486.7 359.2 L488.1 356.3 L489.5 353.4 L490.9 350.6 L492.4 347.7 L493.8 344.8 L495.2 341.7 L496.6 338.5 L498.1 335.2 L500.0 331.5 L501.2 329.3 L502.6 327.1 L504.1 324.7 L505.8 322.2 L507.5 319.6 L509.3 317.0 L511.1 314.3 L512.9 311.5 L514.7 308.7 L516.4 305.8 L518.0 302.9 L519.5 300.0 L520.8 297.3 L522.0 294.5 L523.1 291.7 L524.2 288.7 L525.3 285.7 L526.4 282.7 L527.4 279.6 L528.4 276.5 L529.4 273.5 L530.5 270.4 L531.5 267.5 L532.6 264.6 L533.6 261.7 L534.7 259.0 L535.9 256.4 L537.4 253.3 L538.9 250.3 L540.4 247.5 L541.9 244.7 L543.4 241.9 L545.0 239.3 L546.6 236.6 L548.1 234.0 L549.7 231.4 L551.3 228.8 L553.0 226.1 L554.6 223.4 L556.3 220.8 L558.0 218.2 L559.7 215.6 L561.4 213.0 L563.2 210.6 L564.9 208.2 L566.6 205.8 L568.6 203.2 L570.6 200.6 L572.6 198.1 L574.6 195.6 L576.6 193.3 L578.5 191.1 L580.4 189.0 L582.9 186.4 L585.2 184.1 L587.6 181.9 L590.0 179.8 L592.4 177.8 L594.9 176.0 L597.4 174.2 L600.0 172.4 L602.9 170.6 L606.0 169.0 L609.2 167.3 L612.7 165.4 L615.1 164.0 L617.8 162.5 L620.6 160.9 L623.5 159.2 L626.5 157.5 L629.5 155.8 L632.4 154.2 L635.3 152.7 L638.0 151.4 L641.2 149.9 L644.3 148.5 L647.3 147.2 L650.4 146.1 L653.6 144.9 L657.0 143.8 L659.7 143.0 L662.4 142.3 L665.3 141.6 L668.3 140.9 L671.3 140.2 L674.3 139.6 L677.4 139.0 L680.4 138.3 L683.4 137.7 L686.4 137.0" stroke="#88d448" stroke-width="1.5"/>
<path d="M494.3 411.7 L497.0 409.9 L499.7 408.0 L502.2 405.8 L504.7 403.5 L507.0 401.0 L509.3 398.4 L511.8 395.6 L514.2 392.8 L516.6 389.8 L518.9 386.9 L520.9 384.1 L522.9 381.3 L524.7 378.4 L526.5 375.5 L528.2 372.5 L529.8 369.4 L531.4 366.2 L533.0 363.0 L534.6 360.0 L536.2 357.0 L537.8 353.9 L539.4 350.7 L541.0 347.5 L542.4 344.6 L543.7 341.6 L545.1 338.5 L546.4 335.5 L547.7 332.6 L549.0 330.0 L551.0 326.5 L553.0 323.4 L554.9 320.0 L556.0 317.2 L557.0 314.2 L558.0 311.0 L558.9 307.9 L560.0 304.8 L561.2 301.7 L562.5 298.7 L563.9 295.6 L565.2 292.6 L566.5 289.5 L567.7 286.5 L568.8 283.4 L570.0 280.4 L571.2 277.4 L572.5 274.4 L573.9 271.4 L575.4 268.4 L576.9 265.5 L578.4 262.5 L579.9 259.5 L581.5 256.5 L583.0 253.4 L584.5 250.4 L586.0 247.4 L587.4 244.3 L588.9 241.2 L590.3 238.2 L591.7 235.1 L593.0 232.1 L594.4 229.0 L595.7 226.0 L597.0 223.0 L598.3 220.1 L599.6 217.1 L600.9 214.1 L602.2 211.1 L603.6 208.1 L605.0 205.0 L606.4 202.0 L607.9 199.0 L609.3 195.9 L610.7 192.8 L612.1 189.7 L613.5 186.7 L615.0 183.8 L616.7 180.7 L618.4 177.8 L631.7 176.7 L629.6 178.9 L627.5 181.2 L625.5 183.8 L623.7 186.5 L622.0 189.5 L620.4 192.7 L618.8 195.9 L617.1 199.0 L615.5 202.0 L613.9 205.0 L612.3 208.1 L610.7 211.1 L609.1 214.1 L607.6 217.1 L606.1 220.1 L604.6 223.0 L603.1 226.0 L601.6 229.0 L600.0 232.1 L598.4 235.1 L596.8 238.2 L595.2 241.2 L593.6 244.3 L591.9 247.4 L590.2 250.4 L588.5 253.4 L586.8 256.5 L585.1 259.5 L583.3 262.5 L581.6 265.5 L579.8 268.4 L578.2 271.4 L576.5 274.4 L575.0 277.4 L573.6 280.4 L572.2 283.4 L570.9 286.5 L569.5 289.5 L568.2 292.5 L566.8 295.6 L565.5 298.7 L564.2 301.7 L563.0 304.8 L561.9 307.9 L561.0 311.0 L560.0 314.2 L559.0 317.2 L557.9 320.0 L556.0 323.4 L554.0 326.5 L552.0 330.0 L550.7 332.6 L549.4 335.5 L548.1 338.5 L546.7 341.6 L545.4 344.6 L544.0 347.5 L542.4 350.7 L540.8 353.9 L539.2 357.0 L537.6 360.0 L536.0 363.0 L534.4 366.2 L532.8 369.4 L531.2 372.5 L529.5 375.5 L527.7 378.4 L525.9 381.3 L523.9 384.1 L521.9 386.9 L519.6 389.8 L517.2 392.8 L514.8 395.6 L512.3 398.4 L510.0 401.0 L507.7 403.5 L505.2 405.8 L502.7 408.0 L500.0 409.9 L497.3 411.7Z" style="fill:url(#g2);stroke:none"/>
<path d="M105.3 436.0 L108.5 435.2 L111.8 434.4 L115.0 433.6 L118.3 432.9 L121.5 432.1 L124.8 431.3 L128.0 430.5 L131.1 429.7 L134.1 428.9 L137.1 428.0 L140.1 427.2 L143.2 426.5 L146.5 425.8 L150.0 425.2 L152.7 424.9 L155.5 424.6 L158.4 424.4 L161.4 424.2 L164.5 424.1 L167.6 424.0 L170.8 423.9 L174.1 423.9 L177.3 423.9 L180.5 423.8 L183.7 423.8 L186.9 423.8 L190.0 423.8 L193.1 423.8 L196.1 423.8 L199.1 423.8 L202.2 423.8 L205.2 423.9 L208.2 424.0 L211.2 424.0 L214.3 424.1 L217.4 424.2 L220.5 424.3 L223.6 424.3 L226.8 424.4 L230.0 424.5 L233.0 424.6 L236.0 424.6 L239.0 424.7 L242.1 424.8 L245.2 424.9 L248.3 425.0 L251.5 425.1 L254.7 425.2 L257.8 425.2 L261.0 425.3 L264.2 425.4 L267.4 425.5 L270.5 425.6 L273.7 425.7 L276.9 425.7 L280.0 425.8 L283.2 425.9 L286.4 425.9 L289.7 426.0 L293.0 426.0 L296.4 426.1 L299.7 426.1 L303.1 426.2 L306.4 426.2 L309.7 426.3 L312.9 426.3 L316.0 426.4 L319.1 426.4 L322.0 426.4 L324.8 426.4 L327.5 426.5 L330.0 426.5 L333.8 426.5 L337.2 426.5 L340.3 426.6 L343.4 426.6 L346.5 426.6 L350.0 426.6 L352.8 426.6 L355.7 426.7 L358.7 426.7 L361.9 426.7 L365.0 426.8 L368.1 426.8 L371.3 426.9 L374.3 426.9 L377.2 427.0 L380.0 427.0 L383.5 427.1 L386.7 427.1 L389.8 427.2 L393.0 427.2 L396.3 427.2 L400.0 427.2 L402.6 427.1 L405.4 427.1 L408.4 427.0 L411.5 426.9 L414.7 426.8 L418.0 426.7 L421.3 426.5 L424.5 426.4 L427.7 426.2 L430.8 426.0 L433.7 425.8 L436.5 425.6 L439.0 425.3 L442.4 424.9 L445.6 424.4 L448.6 423.8 L451.4 423.3 L454.2 422.7 L457.0 422.2 L460.7 421.6 L464.3 421.0 L467.8 420.3 L471.4 419.5 L474.5 418.7 L477.7 417.9 L480.8 416.9 L483.9 415.9 L486.8 414.7 L489.9 413.2 L492.8 411.7 L495.5 409.9 L498.2 408.0 L500.7 405.8 L503.2 403.5 L505.5 401.0 L507.8 398.4 L510.3 395.6 L512.7 392.8 L515.1 389.8 L517.4 386.9 L519.4 384.1 L521.4 381.3 L523.2 378.4 L525.0 375.5 L526.7 372.5 L528.3 369.4 L529.9 366.2 L531.5 363.0 L533.1 360.0 L534.7 357.0 L536.3 353.9 L537.9 350.7 L539.5 347.5 L540.9 344.7 L542.2 341.9 L543.6 339.1 L544.9 336.1 L546.2 333.1 L547.5 330.0 L548.6 327.0 L549.8 323.9 L550.9 320.6 L552.0 317.3 L553.1 314.0 L554.1 310.8 L555.1 307.7 L556.0 304.8 L557.0 301.6 L557.9 298.6 L558.7 295.8 L559.6 292.9 L560.5 290.0 L561.5 286.9 L562.6 283.8 L563.7 280.6 L564.8 277.5 L566.0 274.4 L567.2 271.4 L568.5 268.4 L569.8 265.4 L571.2 262.5 L572.5 259.5 L573.9 256.5 L575.3 253.4 L576.7 250.4 L578.2 247.4 L579.5 244.3 L580.8 241.3 L582.0 238.2 L583.1 235.1 L584.3 232.0 L585.5 229.0 L586.7 226.0 L587.9 223.0 L589.1 220.1 L590.3 217.1 L591.5 214.1 L592.8 211.1 L594.1 208.1 L595.4 205.1 L596.7 202.0 L598.0 199.0 L599.2 196.0 L600.3 192.9 L601.4 189.9 L602.6 186.8 L604.0 183.8 L605.6 181.0 L607.3 178.2 L609.2 175.4 L611.2 172.6 L613.1 169.8 L615.0 167.0 L616.8 164.2 L618.6 161.5 L620.4 158.8 L622.2 156.0 L624.1 153.3 L626.0 150.5 L627.8 147.9 L629.5 145.3 L631.3 142.7 L633.1 140.0 L635.0 137.4 L636.9 134.8 L638.9 132.2 L640.8 129.9 L642.8 127.6 L644.8 125.4 L646.9 123.1 L649.0 120.9 L651.1 118.6 L653.3 116.2 L655.4 113.8 L657.4 111.5 L659.4 109.0 L661.4 106.4 L663.5 103.7 L665.6 101.1 L667.7 98.5 L669.7 96.1 L671.7 93.8 L673.6 91.7 L675.5 90.0 L678.3 87.8 L681.0 86.2 L683.7 84.7 L686.4 83.2" stroke="#30c8a0" stroke-width="1.5"/>
<path d="M105.3 435.0 L108.5 434.3 L111.8 433.6 L115.0 432.9 L118.3 432.2 L121.5 431.5 L124.8 430.9 L128.0 430.2 L131.1 429.5 L134.1 428.8 L137.1 428.1 L140.1 427.5 L143.2 426.8 L146.5 426.3 L150.0 425.8 L152.7 425.5 L155.5 425.3 L158.4 425.1 L161.4 424.9 L164.5 424.8 L167.6 424.7 L170.8 424.6 L174.1 424.6 L177.3 424.5 L180.5 424.5 L183.7 424.4 L186.9 424.4 L190.0 424.4 L193.1 424.4 L196.1 424.4 L199.1 424.4 L202.2 424.4 L205.2 424.5 L208.2 424.6 L211.2 424.6 L214.3 424.7 L217.4 424.8 L220.5 424.9 L223.6 424.9 L226.8 425.0 L230.0 425.1 L233.0 425.2 L236.0 425.2 L239.0 425.3 L242.1 425.4 L245.2 425.5 L248.3 425.6 L251.5 425.7 L254.7 425.8 L257.8 425.8 L261.0 425.9 L264.2 426.0 L267.4 426.1 L270.5 426.2 L273.7 426.3 L276.9 426.3 L280.0 426.4 L283.2 426.5 L286.4 426.5 L289.7 426.6 L293.0 426.6 L296.4 426.7 L299.7 426.7 L303.1 426.8 L306.4 426.8 L309.7 426.9 L312.9 426.9 L316.0 427.0 L319.1 427.0 L322.0 427.0 L324.8 427.0 L327.5 427.1 L330.0 427.1 L333.8 427.1 L337.2 427.1 L340.3 427.2 L343.4 427.2 L346.5 427.2 L350.0 427.2 L352.8 427.2 L355.7 427.3 L358.7 427.3 L361.9 427.3 L365.0 427.4 L368.1 427.4 L371.3 427.5 L374.3 427.5 L377.2 427.6 L380.0 427.6 L383.5 427.7 L386.7 427.7 L389.8 427.8 L393.0 427.8 L396.3 427.8 L400.0 427.8 L402.6 427.7 L405.5 427.7 L408.5 427.6 L411.6 427.5 L414.9 427.3 L418.2 427.2 L421.5 427.0 L424.7 426.9 L428.0 426.7 L431.1 426.5 L434.0 426.2 L436.8 426.0 L439.4 425.7 L442.9 425.2 L446.1 424.7 L449.2 424.1 L452.1 423.6 L454.9 423.0 L457.8 422.4 L460.9 421.8 L463.8 421.3 L466.8 420.8 L469.7 420.2 L472.6 419.5 L475.7 418.7 L478.9 417.8 L482.0 416.9 L485.1 415.9 L488.0 414.7 L491.1 413.2 L494.0 411.7 L496.7 409.9 L499.4 408.0 L501.9 405.8 L504.4 403.5 L506.7 401.0 L509.0 398.4 L511.5 395.6 L513.9 392.8 L516.3 389.8 L518.6 386.9 L520.6 384.1 L522.6 381.3 L524.4 378.4 L526.2 375.5 L527.9 372.5 L529.5 369.4 L531.1 366.2 L532.7 363.0 L534.3 360.0 L535.9 357.0 L537.5 353.9 L539.1 350.7 L540.7 347.5 L542.1 344.7 L543.4 341.9 L544.7 339.0 L546.1 336.1 L547.4 333.1 L548.7 330.0 L549.9 327.0 L551.1 323.9 L552.3 320.6 L553.6 317.3 L554.7 314.0 L555.9 310.8 L557.0 307.7 L558.0 304.8 L559.1 301.6 L560.1 298.6 L561.1 295.8 L562.0 292.9 L563.0 290.0 L564.0 286.9 L565.1 283.8 L566.1 280.6 L567.3 277.5 L568.5 274.4 L569.9 271.4 L571.4 268.4 L572.9 265.4 L574.5 262.5 L576.0 259.5 L577.5 256.5 L579.0 253.4 L580.6 250.4 L582.1 247.4 L583.5 244.3 L584.9 241.3 L586.2 238.2 L587.5 235.1 L588.7 232.1 L590.0 229.0 L591.2 226.0 L592.4 223.0 L593.6 220.1 L594.8 217.1 L596.0 214.1 L597.3 211.1 L598.6 208.1 L599.9 205.0 L601.2 202.0 L602.5 199.0 L603.7 195.9 L604.9 192.9 L606.1 189.8 L607.4 186.8 L609.0 183.8 L610.6 181.3 L612.5 178.8 L614.4 176.4 L616.5 174.0 L618.5 171.5 L620.5 168.9 L622.3 166.4 L624.1 163.9 L625.8 161.3 L627.6 158.6 L629.4 156.0 L631.3 153.3 L633.3 150.5 L635.0 148.2 L636.7 145.8 L638.5 143.3 L640.3 140.8 L642.1 138.3 L644.0 135.8 L645.9 133.4 L647.8 131.0 L649.7 128.8 L651.7 126.7 L654.2 124.3 L656.8 122.1 L659.5 120.1 L662.2 118.1 L664.8 116.2 L667.5 114.1 L670.0 112.0 L672.4 109.7 L674.8 107.4 L677.2 105.1 L679.5 102.7 L681.8 100.3 L684.1 97.9 L686.4 95.5" stroke="#28cc98" stroke-width="1.5"/>
<path d="M105.3 437.0 L108.5 436.2 L111.8 435.4 L115.0 434.5 L118.3 433.7 L121.5 432.9 L124.8 432.1 L128.0 431.3 L131.1 430.6 L134.1 429.8 L137.1 429.0 L140.1 428.2 L143.2 427.5 L146.5 426.9 L150.0 426.4 L152.7 426.1 L155.5 425.8 L158.4 425.6 L161.4 425.5 L164.5 425.3 L167.6 425.2 L170.8 425.2 L174.1 425.1 L177.3 425.1 L180.5 425.1 L183.7 425.0 L186.9 425.0 L190.0 425.0 L193.1 425.0 L196.1 425.0 L199.1 425.0 L202.2 425.0 L205.2 425.1 L208.2 425.2 L211.2 425.2 L214.3 425.3 L217.4 425.4 L220.5 425.5 L223.6 425.5 L226.8 425.6 L230.0 425.7 L233.0 425.8 L236.0 425.8 L239.0 425.9 L242.1 426.0 L245.2 426.1 L248.3 426.2 L251.5 426.3 L254.7 426.4 L257.8 426.4 L261.0 426.5 L264.2 426.6 L267.4 426.7 L270.5 426.8 L273.7 426.9 L276.9 426.9 L280.0 427.0 L283.2 427.1 L286.4 427.1 L289.7 427.2 L293.0 427.2 L296.4 427.3 L299.7 427.3 L303.1 427.4 L306.4 427.4 L309.7 427.5 L312.9 427.5 L316.0 427.6 L319.1 427.6 L322.0 427.6 L324.8 427.6 L327.5 427.7 L330.0 427.7 L333.8 427.7 L337.2 427.7 L340.3 427.8 L343.4 427.8 L346.5 427.8 L350.0 427.8 L352.8 427.8 L355.7 427.9 L358.7 427.9 L361.9 427.9 L365.0 428.0 L368.1 428.0 L371.3 428.1 L374.3 428.1 L377.2 428.2 L380.0 428.2 L383.5 428.3 L386.7 428.3 L389.8 428.4 L393.0 428.5 L396.3 428.5 L400.0 428.4 L402.6 428.3 L405.5 428.2 L408.5 428.1 L411.7 428.0 L414.9 427.9 L418.2 427.7 L421.5 427.6 L424.8 427.4 L428.0 427.1 L431.1 426.9 L434.1 426.7 L436.9 426.4 L439.5 426.1 L443.0 425.6 L446.3 425.0 L449.3 424.4 L452.2 423.8 L455.1 423.2 L458.0 422.6 L461.1 422.0 L464.1 421.4 L467.0 420.8 L469.9 420.2 L472.9 419.5 L476.0 418.7 L479.2 417.8 L482.3 416.9 L485.4 415.9 L488.3 414.7 L491.4 413.2 L494.3 411.7 L497.0 409.9 L499.7 408.0 L502.2 405.8 L504.7 403.5 L507.0 401.0 L509.3 398.4 L511.8 395.6 L514.2 392.8 L516.6 389.8 L518.9 386.9 L520.9 384.1 L522.9 381.3 L524.7 378.4 L526.5 375.5 L528.2 372.5 L529.8 369.4 L531.4 366.2 L533.0 363.0 L534.6 360.0 L536.2 357.0 L537.8 353.9 L539.4 350.7 L541.0 347.5 L542.4 344.6 L543.7 341.6 L545.1 338.5 L546.4 335.5 L547.7 332.6 L549.0 330.0 L551.0 326.5 L553.0 323.4 L554.9 320.0 L556.0 317.2 L557.0 314.2 L558.0 311.0 L558.9 307.9 L560.0 304.8 L561.2 301.7 L562.5 298.7 L563.9 295.6 L565.2 292.6 L566.5 289.5 L567.7 286.5 L568.8 283.4 L570.0 280.4 L571.2 277.4 L572.5 274.4 L573.9 271.4 L575.4 268.4 L576.9 265.5 L578.4 262.5 L579.9 259.5 L581.5 256.5 L583.0 253.4 L584.5 250.4 L586.0 247.4 L587.4 244.3 L588.9 241.2 L590.3 238.2 L591.7 235.1 L593.0 232.1 L594.4 229.0 L595.7 226.0 L597.0 223.0 L598.3 220.1 L599.6 217.1 L600.9 214.1 L602.2 211.1 L603.6 208.1 L605.0 205.0 L606.4 202.0 L607.9 199.0 L609.3 195.9 L610.7 192.8 L612.1 189.7 L613.5 186.7 L615.0 183.8 L616.7 180.7 L618.4 177.8 L620.1 174.9 L622.0 172.0 L623.7 169.6 L625.4 167.2 L627.2 164.8 L629.0 162.4 L631.0 160.0 L633.2 157.4 L635.6 154.7 L638.0 152.1 L640.5 149.5 L643.0 147.0 L645.5 144.5 L648.1 142.1 L650.7 139.7 L653.3 137.3 L656.0 135.0 L658.7 132.7 L661.5 130.5 L664.2 128.3 L667.1 126.1 L670.0 124.0 L672.6 122.1 L675.3 120.3 L678.1 118.5 L680.9 116.6 L683.6 114.8 L686.4 113.0" stroke="#18d060" stroke-width="1.5"/>
<path d="M105.3 436.0 L108.5 435.2 L111.8 434.4 L115.0 433.7 L118.3 432.9 L121.5 432.1 L124.8 431.4 L128.0 430.6 L131.1 429.8 L134.1 429.0 L137.1 428.2 L140.1 427.4 L143.2 426.7 L146.5 426.0 L150.0 425.5 L152.7 425.2 L155.5 424.9 L158.4 424.7 L161.4 424.5 L164.5 424.4 L167.6 424.3 L170.8 424.3 L174.1 424.2 L177.3 424.2 L180.5 424.2 L183.7 424.1 L186.9 424.1 L190.0 424.1 L193.1 424.1 L196.1 424.1 L199.1 424.1 L202.2 424.1 L205.2 424.2 L208.2 424.3 L211.2 424.3 L214.3 424.4 L217.4 424.5 L220.5 424.6 L223.6 424.6 L226.8 424.7 L230.0 424.8 L233.0 424.9 L236.0 424.9 L239.0 425.0 L242.1 425.1 L245.2 425.2 L248.3 425.3 L251.5 425.4 L254.7 425.5 L257.8 425.5 L261.0 425.6 L264.2 425.7 L267.4 425.8 L270.5 425.9 L273.7 426.0 L276.9 426.0 L280.0 426.1 L283.2 426.2 L286.4 426.2 L289.7 426.3 L293.0 426.3 L296.4 426.4 L299.7 426.4 L303.1 426.5 L306.4 426.5 L309.7 426.6 L312.9 426.6 L316.0 426.7 L319.1 426.7 L322.0 426.7 L324.8 426.7 L327.5 426.8 L330.0 426.8 L333.8 426.8 L337.2 426.8 L340.3 426.9 L343.4 426.9 L346.5 426.9 L350.0 426.9 L352.8 426.9 L355.7 427.0 L358.7 427.0 L361.9 427.0 L365.0 427.1 L368.1 427.1 L371.3 427.2 L374.3 427.2 L377.2 427.3 L380.0 427.3 L383.5 427.4 L386.7 427.4 L389.8 427.5 L393.0 427.5 L396.3 427.5 L400.0 427.5 L402.7 427.4 L405.5 427.4 L408.6 427.3 L411.7 427.2 L415.0 427.1 L418.3 426.9 L421.7 426.8 L425.0 426.6 L428.2 426.4 L431.4 426.2 L434.4 426.0 L437.2 425.8 L439.8 425.5 L443.4 425.1 L446.7 424.5 L449.8 424.0 L452.8 423.4 L455.7 422.8 L458.7 422.3 L461.8 421.8 L464.9 421.3 L467.9 420.8 L470.9 420.2 L473.9 419.5 L477.0 418.7 L480.2 417.9 L483.4 416.9 L486.4 415.9 L489.3 414.7 L492.4 413.2 L495.3 411.7 L498.0 409.9 L500.7 408.0 L503.2 405.8 L505.7 403.5 L508.0 401.0 L510.3 398.4 L512.8 395.6 L515.2 392.8 L517.6 389.8 L519.9 386.9 L521.9 384.1 L523.9 381.3 L525.7 378.4 L527.5 375.5 L529.2 372.5 L530.8 369.4 L532.4 366.2 L534.0 363.0 L535.6 360.0 L537.2 357.0 L538.8 353.9 L540.4 350.7 L542.0 347.5 L543.4 344.6 L544.7 341.6 L546.1 338.5 L547.4 335.5 L548.7 332.6 L550.0 330.0 L552.0 326.5 L554.0 323.4 L555.9 320.0 L557.0 317.2 L558.0 314.2 L559.0 311.0 L559.9 307.9 L561.0 304.8 L562.2 301.7 L563.5 298.7 L564.8 295.6 L566.2 292.6 L567.5 289.5 L568.7 286.5 L570.0 283.4 L571.2 280.4 L572.5 277.4 L573.8 274.4 L575.3 271.4 L576.9 268.4 L578.5 265.5 L580.1 262.5 L581.6 259.5 L583.2 256.5 L584.8 253.4 L586.4 250.4 L587.9 247.4 L589.5 244.3 L591.0 241.2 L592.5 238.2 L593.9 235.1 L595.4 232.1 L596.8 229.0 L598.2 226.0 L599.5 223.0 L600.9 220.1 L602.2 217.1 L603.6 214.1 L605.1 211.1 L606.5 208.1 L608.0 205.0 L609.5 202.0 L611.0 199.0 L612.4 195.9 L613.9 192.8 L615.4 189.7 L616.9 186.7 L618.5 183.8 L620.3 180.7 L622.1 177.8 L624.0 174.9 L626.0 172.0 L627.8 169.6 L629.7 167.1 L631.8 164.8 L633.8 162.4 L636.0 160.0 L638.0 157.9 L640.2 155.8 L642.3 153.7 L644.6 151.6 L646.8 149.5 L649.0 147.5 L651.6 145.1 L654.2 142.8 L656.8 140.4 L659.4 138.2 L662.0 136.0 L664.4 134.1 L666.8 132.2 L669.2 130.4 L671.6 128.7 L674.0 127.0 L677.1 125.0 L680.2 123.1 L683.3 121.3 L686.4 119.4" stroke="#20d868" stroke-width="1.5"/>
<path d="M105.3 437.5 L108.5 436.6 L111.8 435.8 L115.0 434.9 L118.3 434.0 L121.5 433.2 L124.8 432.3 L128.0 431.5 L131.1 430.7 L134.1 429.8 L137.1 428.9 L140.1 428.1 L143.2 427.4 L146.5 426.7 L150.0 426.1 L152.7 425.8 L155.5 425.5 L158.4 425.3 L161.4 425.1 L164.5 425.0 L167.6 424.9 L170.8 424.8 L174.1 424.8 L177.3 424.8 L180.5 424.7 L183.7 424.7 L186.9 424.7 L190.0 424.7 L193.1 424.7 L196.1 424.7 L199.1 424.7 L202.2 424.7 L205.2 424.8 L208.2 424.9 L211.2 424.9 L214.3 425.0 L217.4 425.1 L220.5 425.2 L223.6 425.2 L226.8 425.3 L230.0 425.4 L233.0 425.5 L236.0 425.5 L239.0 425.6 L242.1 425.7 L245.2 425.8 L248.3 425.9 L251.5 426.0 L254.7 426.1 L257.8 426.1 L261.0 426.2 L264.2 426.3 L267.4 426.4 L270.5 426.5 L273.7 426.6 L276.9 426.6 L280.0 426.7 L283.2 426.8 L286.4 426.8 L289.7 426.9 L293.0 426.9 L296.4 427.0 L299.7 427.0 L303.1 427.1 L306.4 427.1 L309.7 427.2 L312.9 427.2 L316.0 427.3 L319.1 427.3 L322.0 427.3 L324.8 427.3 L327.5 427.4 L330.0 427.4 L333.8 427.4 L337.2 427.4 L340.3 427.5 L343.4 427.5 L346.5 427.5 L350.0 427.5 L352.8 427.5 L355.7 427.6 L358.7 427.6 L361.9 427.6 L365.0 427.7 L368.1 427.7 L371.3 427.8 L374.3 427.8 L377.2 427.9 L380.0 427.9 L383.5 428.0 L386.7 428.0 L389.8 428.1 L393.0 428.1 L396.3 428.2 L400.0 428.1 L402.7 428.0 L405.6 428.0 L408.6 427.9 L411.8 427.7 L415.1 427.6 L418.5 427.5 L421.8 427.3 L425.2 427.1 L428.5 426.9 L431.6 426.7 L434.7 426.4 L437.5 426.2 L440.2 425.9 L443.8 425.4 L447.2 424.9 L450.3 424.3 L453.4 423.7 L456.3 423.1 L459.3 422.5 L462.6 421.9 L465.7 421.4 L468.8 420.8 L471.8 420.2 L474.9 419.5 L478.0 418.7 L481.2 417.8 L484.4 416.9 L487.4 415.9 L490.3 414.7 L493.4 413.2 L496.3 411.7 L499.0 409.9 L501.7 408.0 L504.2 405.8 L506.7 403.5 L509.0 401.0 L511.3 398.4 L513.8 395.6 L516.2 392.8 L518.6 389.8 L520.9 386.9 L522.9 384.1 L524.9 381.3 L526.7 378.4 L528.5 375.5 L530.2 372.5 L531.8 369.4 L533.4 366.2 L535.0 363.0 L536.6 360.0 L538.2 357.0 L539.8 353.9 L541.4 350.7 L543.0 347.5 L544.4 344.6 L545.7 341.6 L547.1 338.5 L548.4 335.5 L549.7 332.6 L551.0 330.0 L553.0 326.5 L555.0 323.4 L556.9 320.0 L558.0 317.2 L559.0 314.2 L560.0 311.0 L560.9 307.9 L562.0 304.8 L563.2 301.7 L564.5 298.7 L565.8 295.6 L567.2 292.5 L568.5 289.5 L569.8 286.5 L571.1 283.4 L572.4 280.4 L573.8 277.4 L575.2 274.4 L576.7 271.4 L578.3 268.4 L580.0 265.5 L581.7 262.5 L583.4 259.5 L585.0 256.5 L586.6 253.4 L588.3 250.4 L589.9 247.4 L591.5 244.3 L593.1 241.2 L594.6 238.2 L596.2 235.1 L597.7 232.1 L599.2 229.0 L600.7 226.0 L602.1 223.0 L603.5 220.1 L604.9 217.1 L606.4 214.1 L607.9 211.1 L609.4 208.1 L610.9 205.0 L612.5 202.0 L614.0 199.0 L615.6 195.9 L617.2 192.8 L618.7 189.7 L620.3 186.6 L622.0 183.8 L623.9 180.9 L625.8 178.2 L627.9 175.6 L630.0 173.0 L632.3 170.4 L634.8 167.9 L637.4 165.4 L640.0 163.0 L642.3 161.0 L644.7 158.9 L647.1 156.9 L649.6 154.9 L652.0 153.0 L654.4 151.1 L656.8 149.3 L659.2 147.5 L661.6 145.7 L664.0 144.0 L666.8 142.2 L669.5 140.4 L672.2 138.7 L675.0 137.0 L677.8 135.1 L680.7 133.2 L683.5 131.3 L686.4 129.4" stroke="#28dc70" stroke-width="1.5"/>
<path d="M105.3 436.8 L108.5 436.0 L111.8 435.2 L115.0 434.4 L118.3 433.6 L121.5 432.8 L124.8 432.0 L128.0 431.2 L131.1 430.4 L134.1 429.6 L137.1 428.9 L140.1 428.1 L143.2 427.4 L146.5 426.8 L150.0 426.3 L152.7 426.0 L155.5 425.7 L158.4 425.5 L161.4 425.3 L164.5 425.2 L167.6 425.1 L170.8 425.0 L174.1 425.0 L177.3 425.0 L180.5 424.9 L183.7 424.9 L186.9 424.9 L190.0 424.9 L193.1 424.9 L196.1 424.9 L199.1 424.9 L202.2 424.9 L205.2 425.0 L208.2 425.0 L211.2 425.1 L214.3 425.2 L217.4 425.3 L220.5 425.3 L223.6 425.4 L226.8 425.5 L230.0 425.6 L233.0 425.6 L236.0 425.7 L239.0 425.8 L242.1 425.9 L245.2 426.0 L248.3 426.1 L251.5 426.1 L254.7 426.2 L257.8 426.3 L261.0 426.4 L264.2 426.5 L267.4 426.6 L270.5 426.7 L273.7 426.7 L276.9 426.8 L280.0 426.9 L283.2 426.9 L286.4 427.0 L289.7 427.1 L293.0 427.1 L296.4 427.2 L299.7 427.2 L303.1 427.3 L306.4 427.3 L309.7 427.4 L312.9 427.4 L316.0 427.4 L319.1 427.5 L322.0 427.5 L324.8 427.5 L327.5 427.6 L330.0 427.6 L333.8 427.6 L337.2 427.6 L340.3 427.6 L343.4 427.6 L346.5 427.7 L350.0 427.7 L352.8 427.7 L355.7 427.7 L358.7 427.8 L361.9 427.8 L365.0 427.9 L368.1 427.9 L371.3 428.0 L374.3 428.0 L377.2 428.0 L380.0 428.1 L383.5 428.1 L386.7 428.2 L389.8 428.3 L393.0 428.3 L396.3 428.3 L400.0 428.3 L402.7 428.2 L405.6 428.1 L408.7 428.0 L411.9 427.9 L415.2 427.8 L418.6 427.6 L422.0 427.4 L425.4 427.3 L428.7 427.0 L431.9 426.8 L434.9 426.6 L437.8 426.3 L440.5 426.0 L444.2 425.5 L447.6 425.0 L450.8 424.4 L453.9 423.8 L457.0 423.1 L460.0 422.6 L463.3 422.0 L466.5 421.4 L469.7 420.8 L472.8 420.2 L475.9 419.5 L479.1 418.7 L482.2 417.8 L485.4 416.9 L488.4 415.9 L491.3 414.7 L494.4 413.2 L497.3 411.7 L500.0 409.9 L502.7 408.0 L505.2 405.8 L507.7 403.5 L510.0 401.0 L512.3 398.4 L514.8 395.6 L517.2 392.8 L519.6 389.8 L521.9 386.9 L523.9 384.1 L525.9 381.3 L527.7 378.4 L529.5 375.5 L531.2 372.5 L532.8 369.4 L534.4 366.2 L536.0 363.0 L537.6 360.0 L539.2 357.0 L540.8 353.9 L542.4 350.7 L544.0 347.5 L545.4 344.6 L546.7 341.6 L548.1 338.5 L549.4 335.5 L550.7 332.6 L552.0 330.0 L554.0 326.5 L556.0 323.4 L557.9 320.0 L559.0 317.2 L560.0 314.2 L561.0 311.0 L561.9 307.9 L563.0 304.8 L564.2 301.7 L565.5 298.7 L566.8 295.6 L568.2 292.5 L569.5 289.5 L570.9 286.5 L572.2 283.4 L573.6 280.4 L575.0 277.4 L576.5 274.4 L578.2 271.4 L579.8 268.4 L581.6 265.5 L583.3 262.5 L585.1 259.5 L586.8 256.5 L588.5 253.4 L590.2 250.4 L591.9 247.4 L593.6 244.3 L595.2 241.2 L596.8 238.2 L598.4 235.1 L600.0 232.1 L601.6 229.0 L603.1 226.0 L604.6 223.0 L606.1 220.1 L607.6 217.1 L609.1 214.1 L610.7 211.1 L612.3 208.1 L613.9 205.0 L615.5 202.0 L617.1 199.0 L618.8 195.9 L620.4 192.7 L622.0 189.5 L623.7 186.5 L625.5 183.8 L627.5 181.2 L629.6 178.9 L631.7 176.7 L634.0 174.5 L636.6 172.3 L639.3 170.1 L642.1 168.0 L645.0 166.0 L647.9 163.9 L650.9 161.9 L653.9 160.0 L657.0 158.0 L659.5 156.4 L662.1 154.8 L664.7 153.3 L667.3 151.7 L670.0 150.0 L672.6 148.3 L675.3 146.6 L678.1 144.8 L680.9 143.1 L683.6 141.3 L686.4 139.5" stroke="#14c858" stroke-width="1.5"/>
<path d="M105.3 425.0 L108.5 424.9 L111.5 424.9 L114.6 424.8 L117.6 424.7 L120.5 424.6 L123.5 424.5 L126.5 424.4 L129.6 424.4 L132.7 424.3 L135.9 424.2 L139.2 424.2 L142.7 424.1 L146.3 424.0 L150.0 424.0 L152.5 424.0 L155.0 424.0 L157.5 423.9 L160.1 423.9 L162.8 423.9 L165.5 423.9 L168.2 423.9 L171.0 423.9 L173.9 423.9 L176.7 423.9 L179.6 423.9 L182.6 423.9 L185.6 423.9 L188.6 423.9 L191.6 423.9 L194.7 423.9 L197.8 423.9 L200.9 423.9 L204.1 423.9 L207.3 423.9 L210.5 423.9 L213.7 423.9 L216.9 423.9 L220.2 423.9 L223.5 423.9 L226.8 423.9 L230.1 424.0 L233.4 424.0 L236.7 424.0 L240.0 424.0 L243.3 424.0 L246.7 424.0 L250.0 424.0 L252.7 424.0 L255.4 424.0 L258.2 424.0 L261.0 424.0 L263.8 424.0 L266.6 424.0 L269.4 424.0 L272.3 424.0 L275.2 424.1 L278.1 424.1 L281.0 424.1 L283.9 424.1 L286.8 424.1 L289.8 424.1 L292.8 424.1 L295.8 424.1 L298.8 424.1 L301.8 424.1 L304.8 424.1 L307.8 424.1 L310.9 424.1 L313.9 424.2 L317.0 424.2 L320.0 424.2 L323.1 424.2 L326.2 424.2 L329.3 424.2 L332.4 424.2 L335.4 424.2 L338.5 424.2 L341.6 424.2 L344.7 424.3 L347.8 424.3 L350.9 424.3 L354.0 424.3 L357.1 424.3 L360.2 424.3 L363.3 424.3 L366.4 424.3 L369.5 424.4 L372.6 424.4 L375.7 424.4 L378.7 424.4 L381.8 424.4 L384.9 424.4 L387.9 424.4 L390.9 424.5 L394.0 424.5 L397.0 424.5 L400.0 424.5 L403.0 424.5 L406.0 424.5 L409.1 424.5 L412.2 424.6 L415.3 424.6 L418.4 424.6 L421.5 424.6 L424.6 424.6 L427.8 424.7 L430.9 424.7 L434.1 424.7 L437.2 424.7 L440.4 424.7 L443.6 424.8 L446.8 424.8 L450.0 424.8 L453.2 424.8 L456.3 424.9 L459.5 424.9 L462.7 424.9 L465.9 424.9 L469.1 424.9 L472.2 425.0 L475.4 425.0 L478.5 425.0 L481.7 425.0 L484.8 425.1 L487.9 425.1 L491.0 425.1 L494.1 425.1 L497.1 425.1 L500.2 425.2 L503.2 425.2 L506.2 425.2 L509.2 425.2 L512.1 425.3 L515.0 425.3 L517.9 425.3 L520.8 425.3 L523.6 425.3 L526.4 425.4 L529.2 425.4 L531.9 425.4 L534.6 425.4 L537.3 425.4 L539.9 425.4 L542.5 425.5 L545.0 425.5 L547.5 425.5 L550.0 425.5 L553.6 425.5 L557.2 425.5 L560.8 425.6 L564.4 425.6 L568.0 425.6 L571.5 425.6 L575.0 425.6 L578.5 425.7 L581.9 425.7 L585.2 425.7 L588.5 425.7 L591.7 425.7 L594.8 425.8 L597.9 425.8 L600.8 425.8 L603.6 425.8 L606.4 425.8 L609.0 425.8 L611.5 425.8 L613.8 425.8 L616.0 425.8 L618.1 425.8 L620.0 425.8 L623.9 425.8 L627.0 425.8 L629.8 425.7 L633.0 425.6 L635.8 425.5 L638.7 425.3 L641.8 425.1 L644.9 424.8 L648.0 424.5 L651.1 424.2 L654.0 423.7 L657.6 423.0 L661.0 422.1 L664.4 421.1 L667.7 420.0 L671.0 419.0 L674.1 418.0 L677.2 417.0 L680.3 415.9 L683.3 414.9 L686.4 413.8" stroke="#d83a20" stroke-width="1.5"/>
<path d="M105.3 426.8 L108.5 426.7 L111.5 426.5 L114.6 426.3 L117.6 426.2 L120.5 426.0 L123.5 425.9 L126.5 425.7 L129.6 425.6 L132.7 425.4 L135.9 425.3 L139.2 425.1 L142.7 425.0 L146.3 424.9 L150.0 424.8 L152.5 424.7 L155.0 424.7 L157.5 424.7 L160.1 424.6 L162.8 424.6 L165.5 424.6 L168.2 424.5 L171.0 424.5 L173.9 424.5 L176.7 424.5 L179.6 424.5 L182.6 424.5 L185.6 424.5 L188.6 424.5 L191.6 424.5 L194.7 424.5 L197.8 424.5 L200.9 424.5 L204.1 424.5 L207.3 424.5 L210.5 424.5 L213.7 424.5 L216.9 424.5 L220.2 424.5 L223.5 424.5 L226.8 424.6 L230.1 424.6 L233.4 424.6 L236.7 424.6 L240.0 424.6 L243.3 424.6 L246.7 424.6 L250.0 424.6 L252.7 424.6 L255.4 424.6 L258.2 424.6 L261.0 424.6 L263.8 424.6 L266.6 424.6 L269.4 424.6 L272.3 424.6 L275.2 424.6 L278.1 424.6 L281.0 424.6 L283.9 424.6 L286.8 424.6 L289.8 424.6 L292.8 424.6 L295.8 424.6 L298.8 424.6 L301.8 424.7 L304.8 424.7 L307.8 424.7 L310.9 424.7 L313.9 424.7 L317.0 424.7 L320.0 424.7 L323.1 424.7 L326.2 424.7 L329.3 424.7 L332.4 424.7 L335.4 424.7 L338.5 424.7 L341.6 424.8 L344.7 424.8 L347.8 424.8 L350.9 424.8 L354.0 424.8 L357.1 424.8 L360.2 424.8 L363.3 424.8 L366.4 424.8 L369.5 424.9 L372.6 424.9 L375.7 424.9 L378.7 424.9 L381.8 424.9 L384.9 424.9 L387.9 424.9 L390.9 425.0 L394.0 425.0 L397.0 425.0 L400.0 425.0 L403.0 425.0 L406.0 425.0 L409.1 425.1 L412.1 425.1 L415.1 425.1 L418.2 425.1 L421.3 425.1 L424.3 425.2 L427.4 425.2 L430.5 425.2 L433.6 425.2 L436.7 425.3 L439.8 425.3 L442.9 425.3 L446.0 425.4 L449.1 425.4 L452.2 425.4 L455.3 425.4 L458.4 425.5 L461.5 425.5 L464.6 425.5 L467.6 425.6 L470.7 425.6 L473.8 425.6 L476.9 425.7 L480.0 425.7 L483.0 425.7 L486.1 425.8 L489.1 425.8 L492.2 425.8 L495.2 425.8 L498.2 425.9 L501.2 425.9 L504.2 425.9 L507.2 426.0 L510.2 426.0 L513.2 426.0 L516.1 426.0 L519.0 426.1 L521.9 426.1 L524.8 426.1 L527.7 426.1 L530.6 426.2 L533.4 426.2 L536.2 426.2 L539.0 426.2 L541.8 426.2 L544.6 426.3 L547.3 426.3 L550.0 426.3 L553.4 426.3 L556.7 426.3 L560.2 426.4 L563.6 426.4 L567.1 426.4 L570.5 426.4 L574.0 426.4 L577.5 426.5 L581.0 426.5 L584.5 426.5 L587.9 426.5 L591.4 426.5 L594.8 426.6 L598.2 426.6 L601.5 426.6 L604.8 426.6 L608.1 426.6 L611.3 426.6 L614.5 426.6 L617.6 426.6 L620.6 426.7 L623.6 426.7 L626.5 426.7 L629.3 426.7 L632.0 426.7 L634.6 426.7 L637.2 426.7 L639.6 426.7 L641.9 426.7 L644.1 426.6 L646.2 426.6 L648.2 426.6 L650.0 426.6 L654.3 426.6 L657.8 426.6 L660.8 426.6 L663.8 426.5 L667.0 426.2 L670.2 425.7 L673.4 425.1 L676.6 424.4 L679.9 423.7 L683.2 422.9 L686.4 422.2" stroke="#e04020" stroke-width="1.5"/>
<path d="M105.3 428.3 L108.4 428.1 L111.5 427.9 L114.4 427.7 L117.3 427.4 L120.2 427.2 L123.1 427.0 L126.0 426.8 L129.0 426.6 L132.1 426.4 L135.3 426.2 L138.7 426.0 L142.2 425.8 L146.0 425.6 L150.0 425.5 L152.2 425.4 L154.4 425.4 L156.7 425.3 L159.0 425.3 L161.4 425.2 L163.9 425.2 L166.4 425.1 L169.0 425.1 L171.7 425.0 L174.4 425.0 L177.1 425.0 L179.9 424.9 L182.7 424.9 L185.6 424.9 L188.5 424.9 L191.5 424.8 L194.5 424.8 L197.5 424.8 L200.6 424.8 L203.6 424.8 L206.8 424.8 L209.9 424.8 L213.1 424.8 L216.3 424.8 L219.5 424.8 L222.7 424.8 L226.0 424.8 L229.2 424.8 L232.5 424.8 L235.8 424.8 L239.1 424.8 L242.3 424.8 L245.6 424.8 L248.9 424.8 L252.2 424.9 L255.5 424.9 L258.8 424.9 L262.1 424.9 L265.3 424.9 L268.6 424.9 L271.8 424.9 L275.1 424.9 L278.3 424.9 L281.4 425.0 L284.6 425.0 L287.7 425.0 L290.9 425.0 L293.9 425.0 L297.0 425.0 L300.0 425.0 L303.0 425.0 L306.0 425.0 L309.1 425.0 L312.1 425.0 L315.2 425.0 L318.2 425.0 L321.3 425.1 L324.4 425.1 L327.5 425.1 L330.6 425.1 L333.7 425.1 L336.8 425.1 L340.0 425.1 L343.1 425.1 L346.2 425.2 L349.3 425.2 L352.5 425.2 L355.6 425.2 L358.7 425.2 L361.8 425.2 L364.9 425.3 L368.1 425.3 L371.2 425.3 L374.3 425.3 L377.4 425.3 L380.5 425.4 L383.6 425.4 L386.6 425.4 L389.7 425.4 L392.7 425.5 L395.8 425.5 L398.8 425.5 L401.8 425.5 L404.8 425.5 L407.8 425.6 L410.8 425.6 L413.7 425.6 L416.6 425.7 L419.6 425.7 L422.4 425.7 L425.3 425.7 L428.2 425.8 L431.0 425.8 L433.8 425.8 L436.5 425.9 L439.3 425.9 L442.0 425.9 L444.7 425.9 L447.4 426.0 L450.0 426.0 L453.4 426.0 L456.8 426.1 L460.2 426.1 L463.6 426.2 L467.0 426.2 L470.4 426.2 L473.7 426.3 L477.1 426.3 L480.4 426.3 L483.8 426.4 L487.1 426.4 L490.3 426.4 L493.6 426.5 L496.8 426.5 L499.9 426.6 L503.0 426.6 L506.1 426.7 L509.1 426.7 L512.1 426.8 L515.0 426.8 L517.8 426.9 L520.6 426.9 L523.3 427.0 L525.9 427.0 L528.5 427.1 L531.0 427.2 L533.4 427.3 L535.7 427.3 L537.9 427.4 L540.0 427.5 L543.8 427.7 L547.1 427.9 L550.0 428.1 L552.8 428.4 L555.5 428.6 L558.4 428.8 L561.5 429.0 L565.0 429.2 L567.4 429.3 L569.9 429.3 L572.6 429.4 L575.3 429.4 L578.2 429.4 L581.1 429.5 L584.1 429.5 L587.1 429.5 L590.2 429.4 L593.3 429.4 L596.5 429.4 L599.7 429.4 L602.9 429.4 L606.1 429.4 L609.3 429.4 L612.5 429.4 L615.7 429.4 L618.9 429.5 L622.0 429.5 L625.0 429.6 L628.1 429.7 L631.1 429.8 L634.2 429.9 L637.2 430.0 L640.3 430.1 L643.4 430.2 L646.4 430.3 L649.5 430.5 L652.6 430.6 L655.7 430.8 L658.7 430.9 L661.8 431.1 L664.9 431.2 L668.0 431.4 L671.0 431.5 L674.1 431.6 L677.2 431.8 L680.3 431.9 L683.3 432.1 L686.4 432.2" stroke="#d02818" stroke-width="1.5"/>
<path d="M105.3 430.0 L108.3 429.8 L111.2 429.5 L114.1 429.3 L117.0 429.1 L119.8 428.8 L122.6 428.6 L125.4 428.3 L128.2 428.1 L131.1 427.8 L134.0 427.6 L136.9 427.3 L139.9 427.1 L143.0 426.9 L146.1 426.7 L149.4 426.5 L152.8 426.3 L156.3 426.1 L160.0 426.0 L162.4 425.9 L164.8 425.8 L167.3 425.8 L169.9 425.7 L172.6 425.7 L175.3 425.6 L178.1 425.6 L180.9 425.5 L183.8 425.5 L186.7 425.5 L189.7 425.4 L192.7 425.4 L195.7 425.4 L198.8 425.4 L202.0 425.4 L205.1 425.4 L208.3 425.4 L211.5 425.4 L214.8 425.4 L218.0 425.4 L221.3 425.4 L224.6 425.5 L227.9 425.5 L231.2 425.5 L234.5 425.5 L237.8 425.5 L241.1 425.6 L244.4 425.6 L247.7 425.6 L251.0 425.6 L254.3 425.7 L257.6 425.7 L260.8 425.7 L264.0 425.8 L267.2 425.8 L270.4 425.8 L273.6 425.8 L276.7 425.9 L279.7 425.9 L282.8 425.9 L285.8 425.9 L288.7 426.0 L291.6 426.0 L294.5 426.0 L297.3 426.0 L300.0 426.0 L303.3 426.0 L306.6 426.0 L309.9 426.0 L313.2 426.0 L316.4 426.0 L319.6 426.0 L322.8 426.0 L326.0 426.0 L329.1 426.0 L332.3 426.0 L335.4 426.0 L338.4 426.0 L341.5 426.0 L344.6 426.0 L347.6 426.0 L350.6 426.0 L353.5 426.0 L356.5 426.0 L359.4 426.0 L362.3 426.0 L365.2 426.1 L368.0 426.1 L370.9 426.1 L373.7 426.1 L376.5 426.2 L379.2 426.2 L382.0 426.2 L384.7 426.3 L387.3 426.3 L390.0 426.4 L393.5 426.5 L396.9 426.6 L400.3 426.7 L403.7 426.8 L407.0 426.9 L410.3 427.0 L413.5 427.1 L416.8 427.2 L419.9 427.4 L423.0 427.5 L426.1 427.7 L429.1 427.8 L432.1 427.9 L435.0 428.1 L437.8 428.2 L440.6 428.4 L443.3 428.5 L446.0 428.7 L449.4 428.9 L452.6 429.2 L455.7 429.4 L458.6 429.7 L461.5 429.9 L464.4 430.2 L467.3 430.4 L470.1 430.6 L473.0 430.8 L476.0 431.0 L479.1 431.1 L482.1 431.2 L485.1 431.3 L488.1 431.4 L491.1 431.4 L494.2 431.5 L497.3 431.5 L500.5 431.5 L503.7 431.6 L507.0 431.6 L509.9 431.6 L513.0 431.7 L516.2 431.7 L519.4 431.7 L522.7 431.7 L526.1 431.7 L529.4 431.7 L532.8 431.7 L536.0 431.7 L539.1 431.7 L542.1 431.8 L545.0 431.9 L547.6 432.0 L550.0 432.1 L553.3 432.4 L556.1 432.7 L558.6 433.1 L561.5 433.5 L565.0 433.8 L567.1 433.9 L569.5 434.1 L572.0 434.2 L574.8 434.3 L577.7 434.3 L580.7 434.4 L583.9 434.5 L587.2 434.6 L590.5 434.6 L593.8 434.7 L597.2 434.7 L600.6 434.8 L604.0 434.9 L607.3 434.9 L610.6 435.0 L613.7 435.1 L616.8 435.2 L619.7 435.3 L622.4 435.4 L625.0 435.5 L628.7 435.7 L632.1 436.0 L635.4 436.2 L638.5 436.5 L641.6 436.8 L644.6 437.0 L647.6 437.3 L650.8 437.5 L654.0 437.7 L657.2 437.8 L660.4 438.0 L663.6 438.1 L666.8 438.1 L670.1 438.2 L673.4 438.3 L676.6 438.3 L679.9 438.4 L683.2 438.4 L686.4 438.5" stroke="#c85838" stroke-width="1.5"/>
<path d="M105.3 427.5 L108.4 427.3 L111.5 427.0 L114.5 426.8 L117.5 426.5 L120.4 426.3 L123.3 426.0 L126.3 425.7 L129.4 425.5 L132.5 425.3 L135.7 425.1 L139.0 424.9 L142.5 424.7 L146.2 424.6 L150.0 424.5 L152.4 424.5 L154.8 424.4 L157.4 424.4 L160.1 424.4 L162.8 424.5 L165.7 424.5 L168.6 424.5 L171.7 424.6 L174.7 424.6 L177.9 424.7 L181.1 424.7 L184.3 424.8 L187.6 424.9 L191.0 425.0 L194.3 425.1 L197.7 425.2 L201.1 425.3 L204.5 425.4 L208.0 425.6 L211.4 425.7 L214.8 425.8 L218.2 426.0 L221.5 426.1 L224.9 426.2 L228.2 426.4 L231.4 426.5 L234.6 426.6 L237.8 426.8 L240.9 426.9 L243.9 427.1 L246.9 427.2 L249.7 427.3 L252.5 427.5 L255.2 427.6 L257.8 427.7 L260.3 427.9 L262.6 428.0 L264.9 428.1 L267.0 428.2 L271.0 428.4 L274.6 428.6 L278.0 428.9 L281.1 429.1 L284.1 429.4 L287.0 429.6 L289.8 429.8 L292.7 430.1 L295.6 430.3 L298.7 430.5 L301.9 430.7 L305.1 430.9 L308.4 431.1 L311.7 431.3 L315.0 431.5 L318.2 431.7 L321.4 431.9 L324.4 432.1 L327.3 432.3 L330.0 432.5 L333.6 432.8 L336.9 433.0 L340.1 433.2 L343.1 433.5 L346.0 433.9 L349.7 434.7 L353.2 435.7 L357.4 436.6 L360.0 436.9 L362.9 437.2 L366.0 437.4 L369.4 437.5 L372.8 437.6 L376.4 437.8 L379.9 437.9 L383.4 438.0 L386.8 438.2 L390.0 438.4 L393.1 438.7 L396.2 439.0 L399.1 439.3 L402.1 439.6 L405.1 439.9 L408.0 440.2 L411.0 440.5 L414.0 440.8 L417.0 441.1 L420.2 441.3 L423.4 441.5 L426.7 441.7 L430.0 441.9 L433.3 442.0 L436.6 442.2 L439.8 442.4 L443.1 442.6 L446.4 442.9 L449.7 443.2 L452.9 443.6 L456.2 443.9 L459.4 444.3 L462.7 444.8 L465.9 445.2 L469.2 445.6 L472.5 445.9 L475.8 446.3 L479.0 446.6 L482.2 446.9 L485.5 447.2 L488.8 447.4 L492.1 447.7 L495.3 447.9 L498.5 448.2 L501.6 448.4 L504.6 448.7 L507.4 449.0 L510.7 449.4 L513.8 449.8 L516.8 450.3 L519.7 450.7 L522.6 451.0 L525.4 451.3 L529.1 451.5 L532.5 451.5 L536.1 451.6 L540.0 451.8 L542.9 452.1 L546.2 452.5 L549.7 452.9 L553.2 453.4 L556.7 454.0 L559.9 454.5 L562.9 455.0 L565.4 455.4 L569.5 456.2 L573.0 457.0" stroke="#e08048" stroke-width="1.5"/>
<path d="M105.3 425.5 L108.4 425.4 L111.5 425.3 L114.4 425.2 L117.3 425.1 L120.2 425.0 L123.1 424.9 L126.0 424.8 L129.0 424.8 L132.1 424.7 L135.3 424.6 L138.7 424.5 L142.2 424.4 L146.0 424.4 L150.0 424.3 L152.1 424.3 L154.4 424.2 L156.6 424.2 L159.0 424.2 L161.3 424.2 L163.8 424.2 L166.3 424.1 L168.8 424.1 L171.4 424.1 L174.0 424.1 L176.7 424.1 L179.4 424.1 L182.2 424.1 L185.0 424.1 L187.8 424.1 L190.7 424.1 L193.7 424.1 L196.6 424.1 L199.6 424.1 L202.6 424.1 L205.7 424.1 L208.8 424.1 L211.9 424.1 L215.0 424.1 L218.1 424.1 L221.3 424.1 L224.5 424.1 L227.7 424.1 L231.0 424.1 L234.2 424.1 L237.5 424.1 L240.8 424.1 L244.0 424.1 L247.3 424.2 L250.6 424.2 L253.9 424.2 L257.3 424.2 L260.6 424.2 L263.9 424.2 L267.2 424.2 L270.5 424.2 L273.8 424.2 L277.1 424.2 L280.4 424.3 L283.7 424.3 L287.0 424.3 L290.3 424.3 L293.5 424.3 L296.8 424.3 L300.0 424.3 L302.8 424.3 L305.7 424.3 L308.6 424.3 L311.5 424.3 L314.4 424.3 L317.4 424.3 L320.3 424.3 L323.3 424.3 L326.4 424.4 L329.4 424.4 L332.5 424.4 L335.5 424.4 L338.6 424.4 L341.8 424.4 L344.9 424.4 L348.0 424.4 L351.2 424.4 L354.3 424.4 L357.5 424.4 L360.7 424.4 L363.9 424.4 L367.1 424.4 L370.3 424.5 L373.5 424.5 L376.7 424.5 L379.9 424.5 L383.2 424.5 L386.4 424.5 L389.6 424.5 L392.8 424.5 L396.1 424.5 L399.3 424.5 L402.5 424.6 L405.7 424.6 L408.9 424.6 L412.1 424.6 L415.3 424.6 L418.5 424.6 L421.7 424.6 L424.8 424.6 L428.0 424.6 L431.1 424.7 L434.2 424.7 L437.4 424.7 L440.4 424.7 L443.5 424.7 L446.6 424.7 L449.6 424.7 L452.6 424.7 L455.7 424.8 L458.6 424.8 L461.6 424.8 L464.5 424.8 L467.4 424.8 L470.3 424.8 L473.2 424.8 L476.0 424.9 L478.8 424.9 L481.6 424.9 L484.3 424.9 L487.0 424.9 L489.7 424.9 L492.3 425.0 L494.9 425.0 L497.5 425.0 L500.0 425.0 L503.5 425.0 L507.0 425.0 L510.4 425.1 L513.8 425.1 L517.1 425.1 L520.4 425.2 L523.6 425.2 L526.8 425.2 L529.9 425.2 L533.1 425.3 L536.1 425.3 L539.2 425.3 L542.2 425.4 L545.2 425.4 L548.2 425.4 L551.1 425.5 L554.1 425.5 L557.0 425.5 L559.9 425.5 L562.7 425.6 L565.6 425.6 L568.5 425.6 L571.3 425.7 L574.2 425.7 L577.0 425.7 L579.9 425.8 L582.7 425.8 L585.6 425.8 L588.4 425.9 L591.3 425.9 L594.2 425.9 L597.1 426.0 L600.0 426.0 L603.2 426.0 L606.4 426.1 L609.5 426.1 L612.7 426.1 L615.8 426.2 L618.9 426.2 L622.0 426.2 L625.1 426.3 L628.2 426.3 L631.3 426.4 L634.4 426.4 L637.5 426.4 L640.5 426.5 L643.6 426.5 L646.7 426.5 L649.7 426.6 L652.8 426.6 L655.8 426.6 L658.8 426.7 L661.9 426.7 L664.9 426.7 L668.0 426.8 L671.1 426.8 L674.1 426.9 L677.2 426.9 L680.2 426.9 L683.3 427.0 L686.4 427.0" stroke="#e02818" stroke-width="1.5"/>
<path d="M391.0 938.4 L394.5 936.7 L398.0 935.1 L401.3 933.2 L404.3 931.1 L407.2 928.8 L409.9 926.3 L412.3 923.6 L414.6 920.7 L416.8 917.7 L418.6 915.3 L420.3 912.7 L422.0 910.1 L423.7 907.4 L425.1 904.8 L426.5 902.1 L427.9 899.2 L429.2 896.4 L430.6 893.6 L432.0 890.9 L433.4 888.1 L434.7 885.4 L436.1 882.6 L437.5 879.9 L438.9 877.2 L440.3 874.4 L441.7 871.7 L443.0 868.9 L444.4 866.1 L445.8 863.1 L447.2 860.0 L448.6 856.9 L449.9 853.7 L451.3 850.6 L452.7 847.5 L454.0 844.5 L455.3 841.4 L456.7 838.3 L458.1 835.1 L459.4 832.2 L460.7 829.2 L462.1 826.2 L463.4 823.1 L464.7 820.1 L466.0 817.0 L467.2 813.8 L468.4 810.4 L469.6 807.0 L470.7 803.7 L471.9 800.7 L473.0 798.0 L474.5 795.0 L476.0 792.5 L477.5 790.0" stroke="#f2e04c" stroke-width="5.0"/>
<path d="M446.1 936.7 L449.0 934.4 L451.9 932.2 L454.7 929.8 L456.9 927.8 L459.1 925.6 L461.2 923.4 L463.3 921.2 L465.8 918.5 L468.2 915.7 L470.5 912.6 L472.2 910.0 L474.0 907.2 L475.7 904.2 L477.4 901.1 L479.0 897.9 L480.5 894.9 L481.9 891.8 L483.3 888.6 L484.6 885.4 L486.0 882.2 L487.4 879.0 L488.8 875.8 L490.2 872.7 L491.6 869.5 L493.0 866.3 L494.4 863.2 L495.8 860.0 L497.2 856.9 L498.6 853.7 L500.0 850.6 L501.4 847.5 L502.8 844.3 L504.2 841.1 L505.4 838.2 L506.6 835.2 L507.8 832.1 L509.0 829.1 L510.2 826.1 L511.4 823.0 L512.6 820.0" stroke="#80ec30" stroke-width="5.0"/>
<path d="M497.9 936.8 L500.4 934.9 L502.9 933.1 L505.5 931.3 L508.0 929.4 L510.4 927.4 L512.6 925.3 L514.6 923.1 L516.5 920.7 L518.2 918.3 L519.9 915.7 L521.5 913.1 L523.2 910.5 L524.8 907.9 L526.3 905.3 L527.9 902.6 L529.4 899.8 L530.8 897.0 L532.3 894.3 L533.7 891.6 L535.2 888.7 L536.6 885.9 L538.0 883.1 L539.3 880.3 L540.7 877.5 L542.1 874.7 L543.5 871.9 L544.9 869.2 L546.3 866.4 L547.7 863.7 L549.1 860.8 L550.5 857.9 L551.8 855.0 L553.0 852.1 L554.2 849.0 L555.4 846.0 L556.6 842.9 L557.8 839.8 L559.0 836.8 L560.2 833.8 L561.4 830.8 L562.7 827.7 L563.9 824.7 L565.1 821.7 L566.3 818.7 L567.4 815.8 L568.6 812.6 L569.7 809.5 L570.8 806.3 L571.8 803.2 L572.9 800.1 L574.0 797.0" stroke="#30e070" stroke-width="5.0"/>
<path d="M386.0 939.4 L389.0 938.1 L392.3 936.6 L395.3 935.0 L398.3 933.2 L401.3 931.1 L404.2 928.8 L406.9 926.3 L409.3 923.6 L411.6 920.7 L413.8 917.7 L415.6 915.3 L417.3 912.7 L419.0 910.1 L420.7 907.4 L422.1 904.8 L423.5 902.1 L424.9 899.2 L426.2 896.4 L427.6 893.6 L429.0 890.9 L430.4 888.1 L431.7 885.4 L433.1 882.6 L434.5 879.9 L435.9 877.2 L437.3 874.4 L438.7 871.7 L440.0 868.9 L441.4 866.1 L442.8 863.1 L444.2 860.0 L445.6 856.9 L446.9 853.7 L448.3 850.6 L449.7 847.5 L451.0 844.5 L452.3 841.4 L453.7 838.3 L455.1 835.1 L456.4 832.2 L457.6 829.1 L458.9 826.1 L460.3 823.0 L461.6 820.0 L463.0 817.0 L464.5 814.1 L466.0 811.1 L467.6 808.2 L469.2 805.4 L470.7 802.6 L472.0 800.0 L473.4 797.1 L474.6 794.4 L475.8 791.8 L477.0 789.0 L478.3 785.9 L479.5 782.8 L480.8 779.6 L482.0 776.5 L483.5 772.8 L485.0 769.2 L486.5 765.4 L487.8 762.1 L489.2 758.8 L490.6 755.3 L492.0 752.0 L493.3 748.9 L494.5 745.8 L495.7 742.7 L497.0 739.5 L498.2 736.6 L499.4 733.7 L500.6 730.7 L501.8 727.8 L503.0 725.0 L504.3 722.0 L505.5 719.2 L506.7 716.4 L508.0 713.5 L509.3 710.4 L510.7 707.3 L512.0 704.2 L513.5 701.0 L523.5 701.0 L521.7 703.5 L519.9 706.0 L518.2 708.5 L516.6 711.0 L515.0 713.5 L513.4 716.3 L511.9 719.2 L510.5 722.0 L509.0 725.0 L507.6 727.8 L506.2 730.7 L504.7 733.7 L503.3 736.6 L502.0 739.5 L500.6 742.7 L499.2 745.8 L497.9 748.9 L496.5 752.0 L495.0 755.3 L493.5 758.7 L491.9 762.1 L490.5 765.4 L489.0 769.1 L487.5 772.8 L486.0 776.5 L484.7 779.6 L483.3 782.8 L481.9 785.9 L480.5 789.0 L479.2 791.8 L477.8 794.4 L476.4 797.1 L475.0 800.0 L473.7 802.6 L472.4 805.4 L471.1 808.2 L469.7 811.1 L468.3 814.1 L467.0 817.0 L465.7 820.0 L464.3 823.0 L463.0 826.1 L461.7 829.1 L460.4 832.2 L459.1 835.1 L457.7 838.3 L456.3 841.4 L455.0 844.5 L453.7 847.5 L452.3 850.6 L450.9 853.7 L449.6 856.9 L448.2 860.0 L446.8 863.1 L445.4 866.1 L444.0 868.9 L442.7 871.7 L441.3 874.4 L439.9 877.2 L438.5 879.9 L437.1 882.6 L435.7 885.4 L434.4 888.1 L433.0 890.9 L431.6 893.6 L430.2 896.4 L428.9 899.2 L427.5 902.1 L426.1 904.8 L424.7 907.4 L423.0 910.1 L421.3 912.7 L419.6 915.3 L417.8 917.7 L415.6 920.7 L413.3 923.6 L410.9 926.3 L408.2 928.8 L405.3 931.1 L402.3 933.2 L399.8 934.7 L397.2 936.2 L394.5 937.6 L391.7 938.9Z" style="fill:url(#g3);stroke:none"/>
<path d="M111.0 955.0 L114.4 954.5 L117.8 954.0 L121.2 953.5 L125.0 952.9 L127.7 952.4 L130.5 951.9 L133.5 951.2 L136.5 950.6 L139.7 949.9 L143.0 949.3 L146.4 948.8 L150.0 948.4 L152.6 948.2 L155.4 948.0 L158.3 947.9 L161.3 947.8 L164.3 947.7 L167.5 947.7 L170.7 947.7 L173.9 947.7 L177.2 947.8 L180.5 947.8 L183.8 947.8 L187.1 947.9 L190.4 947.9 L193.6 948.0 L196.8 948.0 L200.0 948.0 L203.1 948.0 L206.2 948.0 L209.4 948.0 L212.5 948.0 L215.6 948.0 L218.7 948.0 L221.9 948.0 L225.0 948.1 L228.1 948.1 L231.2 948.1 L234.4 948.1 L237.5 948.1 L240.6 948.2 L243.7 948.2 L246.9 948.2 L250.0 948.2 L253.1 948.2 L256.2 948.2 L259.4 948.2 L262.5 948.3 L265.6 948.3 L268.7 948.3 L271.9 948.3 L275.0 948.3 L278.1 948.3 L281.2 948.3 L284.4 948.4 L287.5 948.4 L290.6 948.4 L293.7 948.4 L296.9 948.4 L300.0 948.4 L303.2 948.4 L306.5 948.5 L309.9 948.5 L313.4 948.6 L316.9 948.7 L320.4 948.8 L324.0 948.9 L327.4 949.0 L330.8 949.0 L334.1 949.0 L337.2 949.0 L340.2 949.0 L343.0 948.9 L345.6 948.8 L347.9 948.6 L350.0 948.3 L353.8 947.3 L356.8 946.1 L360.0 945.1 L363.0 944.6 L366.3 944.2 L369.7 943.9 L373.0 943.5 L376.2 942.9 L379.6 941.9 L382.9 940.7 L386.0 939.4 L389.0 938.1 L392.3 936.6 L395.3 935.0 L398.3 933.2 L401.3 931.1 L404.2 928.8 L406.9 926.3 L409.3 923.6 L411.6 920.7 L413.8 917.7 L415.6 915.3 L417.3 912.7 L419.0 910.1 L420.7 907.4 L422.1 904.8 L423.5 902.1 L424.9 899.2 L426.2 896.4 L427.6 893.6 L429.0 890.9 L430.4 888.1 L431.7 885.4 L433.1 882.6 L434.5 879.9 L435.9 877.2 L437.3 874.4 L438.7 871.7 L440.0 868.9 L441.4 866.1 L442.8 863.1 L444.2 860.0 L445.6 856.9 L446.9 853.7 L448.3 850.6 L449.7 847.5 L451.0 844.5 L452.3 841.4 L453.7 838.3 L455.1 835.1 L456.4 832.2 L457.6 829.1 L458.9 826.1 L460.3 823.0 L461.6 820.0 L463.0 817.0 L464.5 814.1 L466.0 811.1 L467.6 808.2 L469.2 805.4 L470.7 802.6 L472.0 800.0 L473.4 797.1 L474.6 794.4 L475.8 791.8 L477.0 789.0 L478.3 785.9 L479.5 782.8 L480.8 779.6 L482.0 776.5 L483.5 772.8 L485.0 769.2 L486.5 765.4 L487.8 762.1 L489.2 758.8 L490.6 755.3 L492.0 752.0 L493.3 748.9 L494.5 745.8 L495.7 742.7 L497.0 739.5 L498.2 736.6 L499.4 733.7 L500.6 730.7 L501.8 727.8 L503.0 725.0 L504.3 722.0 L505.5 719.2 L506.7 716.4 L508.0 713.5 L509.3 710.4 L510.7 707.3 L512.0 704.2 L513.5 701.0 L514.8 698.2 L516.2 695.4 L517.6 692.6 L519.1 689.8 L520.6 687.0 L522.2 684.2 L523.8 681.4 L525.5 678.6 L527.3 675.8 L529.1 673.1 L531.0 670.3 L532.9 667.6 L535.0 664.9 L537.0 662.2 L539.2 659.6 L541.5 657.1 L543.9 654.6 L546.3 652.2 L548.7 649.9 L551.1 647.7 L553.6 645.5 L556.1 643.4 L558.6 641.3 L561.2 639.2 L563.8 637.0 L566.5 634.7 L569.2 632.4 L572.0 630.2 L574.8 628.2 L577.4 626.5 L580.1 625.0 L582.7 623.6 L585.5 622.1 L588.3 620.6 L590.7 619.2 L593.2 617.8 L595.8 616.3 L598.4 614.8 L601.1 613.3 L603.8 611.8 L606.7 610.3 L609.2 609.0 L611.9 607.6 L614.7 606.2 L617.5 604.8 L620.4 603.4 L623.3 602.0 L626.1 600.7 L628.9 599.5 L631.6 598.4 L634.2 597.5 L637.4 596.6 L640.4 596.0 L643.3 595.6 L646.3 595.2 L649.3 594.6 L652.5 593.8 L655.4 592.8 L658.4 591.6 L661.6 590.2 L664.8 588.7 L668.0 587.2 L671.2 585.8 L674.3 584.6 L677.2 583.5 L680.0 582.8 L683.4 582.3 L686.5 582.2 L689.5 582.3 L692.5 582.5 L695.6 582.5" stroke="#e0c82c" stroke-width="1.5"/>
<path d="M111.0 954.0 L114.4 953.6 L117.7 953.3 L121.2 952.9 L125.0 952.5 L127.7 952.2 L130.5 951.8 L133.5 951.5 L136.5 951.1 L139.7 950.8 L143.0 950.4 L146.4 950.1 L150.0 949.9 L152.7 949.8 L155.4 949.7 L158.3 949.6 L161.3 949.5 L164.4 949.5 L167.5 949.4 L170.7 949.4 L173.9 949.4 L177.2 949.4 L180.5 949.4 L183.8 949.5 L187.1 949.5 L190.4 949.5 L193.6 949.5 L196.8 949.5 L200.0 949.5 L203.1 949.5 L206.2 949.5 L209.4 949.5 L212.5 949.5 L215.6 949.5 L218.7 949.5 L221.9 949.5 L225.0 949.6 L228.1 949.6 L231.2 949.6 L234.4 949.6 L237.5 949.6 L240.6 949.7 L243.7 949.7 L246.9 949.7 L250.0 949.7 L253.1 949.7 L256.2 949.7 L259.4 949.7 L262.5 949.8 L265.6 949.8 L268.7 949.8 L271.9 949.8 L275.0 949.8 L278.1 949.8 L281.2 949.8 L284.4 949.9 L287.5 949.9 L290.6 949.9 L293.7 949.9 L296.9 949.9 L300.0 949.9 L303.2 949.9 L306.5 950.0 L309.9 950.0 L313.4 950.1 L316.9 950.2 L320.4 950.3 L324.0 950.4 L327.4 950.5 L330.8 950.5 L334.1 950.5 L337.2 950.5 L340.2 950.5 L343.0 950.4 L345.6 950.3 L347.9 950.1 L350.0 949.8 L353.8 948.8 L356.8 947.7 L360.0 946.6 L363.1 946.0 L366.5 945.6 L370.1 945.2 L373.6 944.7 L376.9 943.9 L380.4 942.8 L383.9 941.5 L387.2 940.0 L390.3 938.6 L393.8 936.9 L397.1 935.1 L400.3 933.2 L403.3 931.1 L406.2 928.8 L408.9 926.3 L411.3 923.6 L413.6 920.7 L415.8 917.7 L417.6 915.3 L419.3 912.7 L421.0 910.1 L422.7 907.4 L424.1 904.8 L425.5 902.1 L426.9 899.2 L428.2 896.4 L429.6 893.6 L431.0 890.9 L432.4 888.1 L433.7 885.4 L435.1 882.6 L436.5 879.9 L437.9 877.2 L439.3 874.4 L440.7 871.7 L442.0 868.9 L443.4 866.1 L444.8 863.1 L446.2 860.0 L447.6 856.9 L448.9 853.7 L450.3 850.6 L451.7 847.5 L453.0 844.5 L454.3 841.4 L455.7 838.3 L457.1 835.1 L458.4 832.2 L459.7 829.1 L461.0 826.1 L462.3 823.0 L463.6 820.0 L465.0 817.0 L466.4 814.1 L467.8 811.1 L469.3 808.2 L470.8 805.4 L472.2 802.6 L473.5 800.0 L475.0 797.1 L476.4 794.4 L477.7 791.8 L479.0 789.0 L480.3 785.9 L481.6 782.8 L482.8 779.6 L484.0 776.5 L485.5 772.8 L487.0 769.2 L488.5 765.4 L489.8 762.1 L491.2 758.7 L492.6 755.3 L494.0 752.0 L495.4 748.9 L496.7 745.8 L498.1 742.7 L499.5 739.5 L500.7 736.6 L501.9 733.7 L503.0 730.7 L504.3 727.8 L505.5 725.0 L506.9 722.0 L508.4 719.2 L509.9 716.4 L511.5 713.5 L512.9 710.9 L514.3 708.2 L515.7 705.5 L517.2 702.8 L518.9 700.0 L520.4 697.6 L522.0 695.1 L523.6 692.5 L525.4 689.9 L527.1 687.4 L529.0 684.9 L530.8 682.5 L532.9 679.9 L535.1 677.4 L537.3 674.9 L539.6 672.5 L542.0 670.2 L544.3 668.0 L547.0 665.8 L549.7 663.7 L552.4 661.8 L555.2 659.9 L557.9 657.9 L560.6 655.9 L563.3 653.8 L566.0 651.8 L568.7 649.7 L571.4 647.7 L574.1 645.6 L576.8 643.5 L579.5 641.4 L582.2 639.4 L585.0 637.5 L587.9 635.8 L590.7 634.2 L593.7 632.6 L596.8 631.0 L600.0 629.1 L602.5 627.5 L605.1 625.8 L607.8 624.0 L610.6 622.1 L613.5 620.1 L616.4 618.2 L619.3 616.4 L622.1 614.6 L625.0 613.0 L627.7 611.6 L630.4 610.2 L633.2 608.9 L635.9 607.7 L638.6 606.5 L641.4 605.3 L644.2 604.2 L647.1 603.1 L650.0 602.0 L652.9 601.0 L655.9 599.9 L659.1 598.9 L662.2 598.0 L665.4 597.0 L668.5 596.1 L671.6 595.3 L674.6 594.5 L677.4 593.7 L680.0 593.0 L683.4 592.1 L686.6 591.4 L689.6 590.7 L692.6 590.0 L695.6 589.3" stroke="#e2d444" stroke-width="1.5"/>
<path d="M111.0 956.0 L114.4 955.5 L117.7 955.0 L121.2 954.4 L125.0 953.9 L127.7 953.5 L130.5 953.1 L133.5 952.7 L136.5 952.3 L139.7 951.9 L143.0 951.5 L146.4 951.2 L150.0 950.9 L152.7 950.8 L155.4 950.6 L158.3 950.5 L161.3 950.5 L164.3 950.4 L167.5 950.4 L170.7 950.4 L173.9 950.4 L177.2 950.4 L180.5 950.4 L183.8 950.4 L187.1 950.5 L190.4 950.5 L193.6 950.5 L196.8 950.5 L200.0 950.5 L203.1 950.5 L206.2 950.5 L209.4 950.5 L212.5 950.5 L215.6 950.5 L218.7 950.5 L221.9 950.5 L225.0 950.6 L228.1 950.6 L231.2 950.6 L234.4 950.6 L237.5 950.6 L240.6 950.7 L243.7 950.7 L246.9 950.7 L250.0 950.7 L253.1 950.7 L256.2 950.7 L259.4 950.7 L262.5 950.8 L265.6 950.8 L268.7 950.8 L271.9 950.8 L275.0 950.8 L278.1 950.8 L281.2 950.8 L284.4 950.9 L287.5 950.9 L290.6 950.9 L293.7 950.9 L296.9 950.9 L300.0 950.9 L303.2 950.9 L306.5 951.0 L309.9 951.0 L313.4 951.1 L316.9 951.2 L320.4 951.3 L324.0 951.4 L327.4 951.5 L330.8 951.5 L334.1 951.5 L337.2 951.5 L340.2 951.5 L343.0 951.4 L345.6 951.3 L347.9 951.1 L350.0 950.8 L353.8 949.9 L356.7 948.7 L360.0 947.6 L363.2 947.0 L366.8 946.5 L370.4 946.0 L374.1 945.4 L377.5 944.6 L380.5 943.7 L383.4 942.6 L386.3 941.4 L389.0 940.1 L391.7 938.9 L394.5 937.6 L397.2 936.2 L399.8 934.7 L402.3 933.2 L405.3 931.1 L408.2 928.8 L410.9 926.3 L413.3 923.6 L415.6 920.7 L417.8 917.7 L419.6 915.3 L421.3 912.7 L423.0 910.1 L424.7 907.4 L426.1 904.8 L427.5 902.1 L428.9 899.2 L430.2 896.4 L431.6 893.6 L433.0 890.9 L434.4 888.1 L435.7 885.4 L437.1 882.6 L438.5 879.9 L439.9 877.2 L441.3 874.4 L442.7 871.7 L444.0 868.9 L445.4 866.1 L446.8 863.1 L448.2 860.0 L449.6 856.9 L450.9 853.7 L452.3 850.6 L453.7 847.5 L455.0 844.5 L456.3 841.4 L457.7 838.3 L459.1 835.1 L460.4 832.2 L461.7 829.1 L463.0 826.1 L464.3 823.0 L465.7 820.0 L467.0 817.0 L468.3 814.1 L469.7 811.1 L471.1 808.2 L472.4 805.4 L473.7 802.6 L475.0 800.0 L476.4 797.1 L477.8 794.4 L479.2 791.8 L480.5 789.0 L481.9 785.9 L483.3 782.8 L484.7 779.6 L486.0 776.5 L487.5 772.8 L489.0 769.1 L490.5 765.4 L491.9 762.1 L493.5 758.7 L495.0 755.3 L496.5 752.0 L497.9 748.9 L499.2 745.8 L500.6 742.7 L502.0 739.5 L503.3 736.6 L504.7 733.7 L506.2 730.7 L507.6 727.8 L509.0 725.0 L510.5 722.0 L511.9 719.2 L513.4 716.3 L515.0 713.5 L516.6 711.0 L518.2 708.5 L519.9 706.0 L521.7 703.5 L523.5 701.0 L525.3 698.6 L527.2 696.2 L529.0 693.9 L531.0 691.5 L533.0 689.0 L535.0 686.4 L537.1 683.7 L539.3 681.0 L541.5 678.2 L543.7 675.6 L546.0 673.1 L548.2 670.9 L550.4 668.9 L552.6 666.9 L554.9 665.0 L557.3 663.1 L559.6 661.2 L562.1 659.2 L564.6 657.1 L567.1 655.0 L569.7 653.0 L572.3 651.1 L574.8 649.4 L577.5 647.8 L580.2 646.3 L582.9 644.9 L585.6 643.7 L588.3 642.6 L591.1 641.7 L593.9 641.0 L596.7 640.3 L600.0 639.2 L602.2 638.3 L604.6 637.2 L607.2 636.0 L609.9 634.7 L612.7 633.4 L615.6 631.9 L618.5 630.5 L621.4 629.0 L624.3 627.6 L627.2 626.3 L630.0 625.0 L633.0 623.7 L635.9 622.4 L638.9 621.1 L641.8 619.9 L644.8 618.7 L647.7 617.5 L650.7 616.3 L653.8 615.1 L656.9 614.1 L660.0 613.0 L662.8 612.1 L665.7 611.3 L668.6 610.5 L671.6 609.7 L674.6 609.0 L677.6 608.3 L680.6 607.6 L683.6 606.9 L686.6 606.2 L689.6 605.5 L692.6 604.7 L695.6 604.0" stroke="#e2c234" stroke-width="1.5"/>
<path d="M111.0 955.5 L114.4 955.0 L117.8 954.5 L121.2 953.9 L125.0 953.3 L127.7 952.8 L130.5 952.3 L133.5 951.6 L136.5 951.0 L139.7 950.4 L143.0 949.8 L146.4 949.3 L150.0 948.9 L152.6 948.7 L155.4 948.5 L158.3 948.4 L161.3 948.3 L164.3 948.3 L167.5 948.2 L170.7 948.2 L173.9 948.2 L177.2 948.3 L180.5 948.3 L183.8 948.4 L187.1 948.4 L190.4 948.4 L193.6 948.5 L196.8 948.5 L200.0 948.5 L203.1 948.5 L206.2 948.5 L209.4 948.5 L212.5 948.5 L215.6 948.5 L218.7 948.5 L221.9 948.5 L225.0 948.6 L228.1 948.6 L231.2 948.6 L234.4 948.6 L237.5 948.6 L240.6 948.7 L243.7 948.7 L246.9 948.7 L250.0 948.7 L253.1 948.7 L256.2 948.7 L259.4 948.7 L262.5 948.8 L265.6 948.8 L268.7 948.8 L271.9 948.8 L275.0 948.8 L278.1 948.8 L281.2 948.8 L284.4 948.9 L287.5 948.9 L290.6 948.9 L293.7 948.9 L296.9 948.9 L300.0 948.9 L303.2 948.9 L306.5 949.0 L309.9 949.0 L313.4 949.1 L316.9 949.2 L320.4 949.3 L324.0 949.4 L327.4 949.5 L330.8 949.5 L334.1 949.5 L337.2 949.5 L340.2 949.5 L343.0 949.4 L345.6 949.3 L347.9 949.1 L350.0 948.8 L353.8 947.8 L356.7 946.6 L360.0 945.6 L362.7 945.1 L365.7 944.8 L368.8 944.5 L372.0 944.2 L375.1 943.8 L378.0 943.3 L381.1 942.4 L384.1 941.5 L387.1 940.4 L389.9 939.3 L392.7 938.2 L395.6 937.1 L398.5 935.9 L401.2 934.6 L403.8 933.2 L406.9 931.1 L409.7 928.8 L412.4 926.3 L414.8 923.6 L417.1 920.7 L419.3 917.7 L421.1 915.3 L422.8 912.7 L424.5 910.1 L426.2 907.4 L427.6 904.8 L429.0 902.1 L430.4 899.2 L431.7 896.4 L433.1 893.6 L434.5 890.9 L435.9 888.1 L437.2 885.4 L438.6 882.6 L440.0 879.9 L441.4 877.2 L442.8 874.4 L444.2 871.7 L445.5 868.9 L446.9 866.1 L448.3 863.1 L449.7 860.0 L451.1 856.9 L452.4 853.7 L453.8 850.6 L455.2 847.5 L456.5 844.5 L457.8 841.4 L459.2 838.3 L460.6 835.1 L461.9 832.2 L463.2 829.1 L464.5 826.1 L465.8 823.0 L467.2 820.0 L468.5 817.0 L469.8 814.1 L471.2 811.1 L472.6 808.2 L473.9 805.4 L475.2 802.6 L476.5 800.0 L477.9 797.1 L479.3 794.4 L480.7 791.8 L482.0 789.0 L483.4 785.9 L484.8 782.8 L486.1 779.6 L487.5 776.5 L488.8 773.7 L490.0 771.0 L491.2 768.2 L492.5 765.4 L494.0 762.1 L495.5 758.8 L497.0 755.4 L498.5 752.0 L500.0 748.8 L501.5 745.5 L503.0 742.3 L504.5 739.1 L506.1 735.8 L507.7 732.5 L509.4 729.2 L511.0 726.0 L512.5 722.8 L514.0 719.7 L515.7 716.6 L517.5 713.5 L519.3 711.0 L521.3 708.6 L523.5 706.1 L525.7 703.7 L528.0 701.0 L529.9 698.7 L531.8 696.3 L533.8 693.7 L535.9 691.1 L538.0 688.5 L540.1 686.0 L542.2 683.7 L544.3 681.6 L547.0 679.2 L549.7 677.2 L552.5 675.2 L555.2 673.4 L557.9 671.4 L560.6 669.4 L563.4 667.4 L566.2 665.3 L568.9 663.3 L571.4 661.2 L574.1 658.7 L576.6 656.0 L579.0 653.4 L581.6 651.1 L584.0 649.2 L586.4 647.5 L588.9 645.9 L591.7 644.3 L594.3 643.0 L597.2 641.7 L600.2 640.5 L603.3 639.3 L606.6 638.1 L610.0 637.0 L612.7 636.2 L615.5 635.4 L618.4 634.6 L621.4 633.9 L624.5 633.2 L627.6 632.5 L630.7 631.8 L633.9 631.2 L637.0 630.6 L640.0 630.0 L643.0 629.5 L646.0 629.0 L649.1 628.6 L652.1 628.1 L655.1 627.8 L658.2 627.4 L661.2 627.0 L664.1 626.7 L667.1 626.3 L670.0 626.0 L673.3 625.6 L676.5 625.2 L679.7 624.9 L682.9 624.5 L686.1 624.2 L689.2 623.9 L692.4 623.5 L695.6 623.2" stroke="#e4d858" stroke-width="1.5"/>
<path d="M111.0 956.5 L114.4 955.9 L117.7 955.4 L121.2 954.8 L125.0 954.2 L127.7 953.7 L130.5 953.2 L133.5 952.7 L136.5 952.1 L139.7 951.6 L143.0 951.2 L146.4 950.7 L150.0 950.4 L152.6 950.2 L155.4 950.1 L158.3 950.0 L161.3 949.9 L164.3 949.8 L167.5 949.8 L170.7 949.8 L173.9 949.8 L177.2 949.8 L180.5 949.9 L183.8 949.9 L187.1 949.9 L190.4 950.0 L193.6 950.0 L196.8 950.0 L200.0 950.0 L203.1 950.0 L206.2 950.0 L209.4 950.0 L212.5 950.0 L215.6 950.0 L218.7 950.0 L221.9 950.0 L225.0 950.1 L228.1 950.1 L231.2 950.1 L234.4 950.1 L237.5 950.1 L240.6 950.2 L243.7 950.2 L246.9 950.2 L250.0 950.2 L253.1 950.2 L256.2 950.2 L259.4 950.2 L262.5 950.3 L265.6 950.3 L268.7 950.3 L271.9 950.3 L275.0 950.3 L278.1 950.3 L281.2 950.3 L284.4 950.4 L287.5 950.4 L290.6 950.4 L293.7 950.4 L296.9 950.4 L300.0 950.4 L303.2 950.4 L306.5 950.5 L309.9 950.5 L313.4 950.6 L316.9 950.7 L320.4 950.8 L324.0 950.9 L327.4 951.0 L330.8 951.0 L334.1 951.0 L337.2 951.0 L340.2 951.0 L343.0 950.9 L345.6 950.8 L347.9 950.6 L350.0 950.3 L353.8 949.3 L356.7 948.2 L360.0 947.1 L362.8 946.6 L365.8 946.2 L369.0 945.8 L372.3 945.4 L375.5 944.9 L378.5 944.3 L381.7 943.4 L384.8 942.3 L387.9 941.1 L390.8 939.9 L393.7 938.7 L396.8 937.4 L399.7 936.1 L402.6 934.7 L405.3 933.2 L408.4 931.1 L411.2 928.8 L413.9 926.3 L416.3 923.6 L418.6 920.7 L420.8 917.7 L422.6 915.3 L424.3 912.7 L426.0 910.1 L427.7 907.4 L429.1 904.8 L430.5 902.1 L431.9 899.2 L433.2 896.4 L434.6 893.6 L436.0 890.9 L437.4 888.1 L438.7 885.4 L440.1 882.6 L441.5 879.9 L442.9 877.2 L444.3 874.4 L445.7 871.7 L447.0 868.9 L448.4 866.1 L449.8 863.1 L451.2 860.0 L452.6 856.9 L453.9 853.7 L455.3 850.6 L456.7 847.5 L458.0 844.5 L459.3 841.4 L460.7 838.3 L462.1 835.1 L463.4 832.2 L464.7 829.1 L466.0 826.1 L467.3 823.0 L468.7 820.0 L470.0 817.0 L471.3 814.1 L472.7 811.1 L474.1 808.1 L475.4 805.2 L476.7 802.5 L478.0 800.0 L479.7 797.0 L481.4 794.5 L483.0 791.6 L484.5 788.4 L486.0 785.0 L487.5 781.4 L489.0 778.0 L490.6 774.8 L492.2 771.7 L493.9 768.6 L495.5 765.4 L497.1 762.1 L498.7 758.7 L500.3 755.3 L502.0 752.0 L503.7 748.7 L505.4 745.5 L507.1 742.3 L509.0 739.1 L510.7 736.4 L512.4 733.8 L514.2 731.2 L516.1 728.6 L518.0 726.0 L519.9 723.5 L521.9 721.0 L524.0 718.5 L526.0 716.0 L528.0 713.5 L529.9 711.0 L531.8 708.5 L533.7 706.0 L535.6 703.5 L537.5 701.0 L539.4 698.5 L541.4 696.0 L543.4 693.6 L545.5 691.2 L547.7 689.0 L550.2 687.0 L552.9 685.2 L555.7 683.5 L558.5 681.7 L561.2 679.9 L563.9 677.9 L566.6 675.7 L569.3 673.6 L572.0 671.6 L574.8 669.7 L577.5 668.1 L580.2 666.7 L582.9 665.4 L585.6 664.1 L588.3 662.9 L591.1 661.6 L593.9 660.5 L596.7 659.3 L600.0 657.9 L602.4 656.8 L605.1 655.7 L608.0 654.4 L611.0 653.1 L614.1 651.7 L617.3 650.3 L620.5 648.9 L623.8 647.6 L626.9 646.2 L630.0 645.0 L633.0 643.8 L635.9 642.6 L638.9 641.4 L641.8 640.3 L644.8 639.1 L647.7 638.0 L650.7 636.9 L653.8 635.9 L656.9 634.9 L660.0 634.0 L662.8 633.2 L665.7 632.5 L668.6 631.9 L671.6 631.3 L674.6 630.7 L677.6 630.1 L680.6 629.6 L683.6 629.0 L686.6 628.5 L689.6 627.9 L692.6 627.4 L695.6 626.8" stroke="#d8a03c" stroke-width="1.5"/>
<path d="M441.1 938.5 L444.1 936.7 L447.2 934.5 L450.0 932.2 L452.7 929.8 L454.9 927.8 L457.1 925.6 L459.2 923.4 L461.3 921.2 L463.8 918.5 L466.2 915.7 L468.5 912.6 L470.2 910.0 L472.0 907.2 L473.7 904.2 L475.4 901.1 L477.0 897.9 L478.5 894.9 L479.9 891.8 L481.3 888.6 L482.6 885.4 L484.0 882.2 L485.4 879.0 L486.8 875.8 L488.2 872.7 L489.6 869.5 L491.0 866.3 L492.4 863.2 L493.8 860.0 L495.2 856.9 L496.6 853.7 L498.0 850.6 L499.4 847.5 L500.8 844.3 L502.2 841.1 L503.4 838.2 L504.6 835.3 L505.8 832.4 L507.0 829.4 L508.2 826.3 L509.4 823.2 L510.6 820.0 L511.7 817.2 L512.7 814.3 L513.8 811.3 L514.9 808.2 L516.0 805.1 L517.1 802.0 L518.2 798.9 L519.3 795.9 L520.4 792.9 L521.5 790.0 L522.7 786.8 L523.9 783.7 L525.1 780.6 L526.3 777.6 L527.5 774.6 L528.7 771.6 L529.8 768.5 L531.0 765.4 L532.0 762.5 L533.1 759.5 L534.1 756.4 L535.1 753.3 L536.1 750.3 L537.1 747.3 L538.1 744.4 L539.1 741.7 L540.0 739.1 L541.2 736.0 L542.5 733.1 L543.7 730.3 L544.8 727.7 L546.0 725.0 L547.3 721.9 L548.5 718.9 L549.7 715.9 L551.0 713.0 L552.2 710.2 L553.4 707.5 L554.7 704.8 L556.0 702.0 L557.4 699.0 L558.8 696.0 L560.4 693.0 L562.0 690.0 L567.8 691.7 L566.5 694.0 L564.7 696.9 L563.1 699.3 L561.5 702.0 L560.2 704.6 L558.9 707.3 L557.7 710.2 L556.5 713.0 L555.2 715.9 L554.0 718.9 L552.8 721.9 L551.5 725.0 L550.4 727.7 L549.2 730.3 L548.0 733.1 L546.8 736.0 L545.5 739.1 L544.5 741.7 L543.4 744.4 L542.2 747.3 L541.1 750.3 L539.9 753.3 L538.7 756.4 L537.5 759.5 L536.2 762.5 L535.0 765.4 L533.8 768.2 L532.5 770.9 L531.2 773.6 L529.9 776.3 L528.6 778.9 L527.3 781.6 L526.0 784.4 L524.8 787.2 L523.5 790.0 L522.3 792.9 L521.0 795.9 L519.8 798.9 L518.6 802.0 L517.4 805.1 L516.2 808.2 L515.0 811.3 L513.8 814.3 L512.7 817.2 L511.6 820.0 L510.3 823.2 L509.1 826.3 L507.9 829.4 L506.8 832.3 L505.6 835.3 L504.4 838.2 L503.2 841.1 L501.8 844.3 L500.4 847.5 L499.0 850.6 L497.6 853.7 L496.2 856.9 L494.8 860.0 L493.4 863.2 L492.0 866.3 L490.6 869.5 L489.2 872.7 L487.8 875.8 L486.4 879.0 L485.0 882.2 L483.6 885.4 L482.3 888.6 L480.9 891.8 L479.5 894.9 L478.0 897.9 L476.4 901.1 L474.7 904.2 L473.0 907.2 L471.2 910.0 L469.5 912.6 L467.2 915.7 L464.8 918.5 L462.3 921.2 L460.2 923.4 L458.1 925.6 L455.9 927.8 L453.7 929.8 L451.0 932.2 L448.2 934.5 L445.1 936.7 L442.7 938.2 L440.1 939.8Z" style="fill:url(#g4);stroke:none"/>
<path d="M111.0 957.0 L114.4 956.3 L117.8 955.7 L121.2 955.0 L125.0 954.2 L127.7 953.6 L130.5 952.8 L133.5 952.0 L136.5 951.2 L139.6 950.3 L142.9 949.6 L146.4 948.9 L150.0 948.4 L152.6 948.1 L155.4 947.9 L158.3 947.8 L161.3 947.7 L164.3 947.6 L167.5 947.6 L170.7 947.6 L173.9 947.6 L177.2 947.6 L180.5 947.7 L183.8 947.8 L187.1 947.8 L190.4 947.9 L193.6 948.0 L196.8 948.0 L200.0 948.0 L203.1 948.0 L206.2 948.0 L209.4 948.0 L212.5 948.0 L215.6 948.0 L218.7 948.0 L221.9 948.0 L225.0 948.1 L228.1 948.1 L231.2 948.1 L234.4 948.1 L237.5 948.1 L240.6 948.2 L243.7 948.2 L246.9 948.2 L250.0 948.2 L253.1 948.2 L256.2 948.2 L259.4 948.2 L262.5 948.3 L265.6 948.3 L268.7 948.3 L271.9 948.3 L275.0 948.3 L278.1 948.3 L281.2 948.3 L284.4 948.4 L287.5 948.4 L290.6 948.4 L293.7 948.4 L296.9 948.4 L300.0 948.4 L303.1 948.4 L306.3 948.4 L309.6 948.4 L312.8 948.4 L316.1 948.4 L319.3 948.4 L322.6 948.4 L325.8 948.4 L329.0 948.4 L332.2 948.3 L335.3 948.3 L338.4 948.3 L341.4 948.3 L344.4 948.3 L347.2 948.3 L350.0 948.3 L353.4 948.3 L356.7 948.3 L360.1 948.3 L363.3 948.3 L366.5 948.3 L369.5 948.3 L372.4 948.3 L375.2 948.3 L377.7 948.3 L380.0 948.3 L383.6 948.2 L386.6 948.1 L390.0 948.0 L392.6 947.9 L395.5 947.9 L398.5 947.9 L401.7 947.8 L404.9 947.7 L408.0 947.5 L411.0 947.2 L414.5 946.8 L417.9 946.3 L421.3 945.7 L424.7 945.0 L427.9 944.2 L431.0 943.3 L434.6 941.9 L438.0 940.3 L441.1 938.5 L444.1 936.7 L447.2 934.5 L450.0 932.2 L452.7 929.8 L454.9 927.8 L457.1 925.6 L459.2 923.4 L461.3 921.2 L463.8 918.5 L466.2 915.7 L468.5 912.6 L470.2 910.0 L472.0 907.2 L473.7 904.2 L475.4 901.1 L477.0 897.9 L478.5 894.9 L479.9 891.8 L481.3 888.6 L482.6 885.4 L484.0 882.2 L485.4 879.0 L486.8 875.8 L488.2 872.7 L489.6 869.5 L491.0 866.3 L492.4 863.2 L493.8 860.0 L495.2 856.9 L496.6 853.7 L498.0 850.6 L499.4 847.5 L500.8 844.3 L502.2 841.1 L503.4 838.2 L504.6 835.3 L505.8 832.4 L507.0 829.4 L508.2 826.3 L509.4 823.2 L510.6 820.0 L511.7 817.2 L512.7 814.3 L513.8 811.3 L514.9 808.2 L516.0 805.1 L517.1 802.0 L518.2 798.9 L519.3 795.9 L520.4 792.9 L521.5 790.0 L522.7 786.8 L523.9 783.7 L525.1 780.6 L526.3 777.6 L527.5 774.6 L528.7 771.6 L529.8 768.5 L531.0 765.4 L532.0 762.5 L533.1 759.5 L534.1 756.4 L535.1 753.3 L536.1 750.3 L537.1 747.3 L538.1 744.4 L539.1 741.7 L540.0 739.1 L541.2 736.0 L542.5 733.1 L543.7 730.3 L544.8 727.7 L546.0 725.0 L547.3 721.9 L548.5 718.9 L549.7 715.9 L551.0 713.0 L552.2 710.2 L553.4 707.5 L554.7 704.8 L556.0 702.0 L557.4 699.0 L558.8 696.0 L560.4 693.0 L562.0 690.0 L563.5 687.5 L565.1 685.0 L566.8 682.6 L568.6 680.0 L570.4 677.4 L572.2 674.7 L574.0 671.8 L575.9 668.9 L577.9 665.9 L579.8 663.1 L581.7 660.5 L584.2 657.5 L586.6 654.8 L589.1 652.1 L591.5 649.2 L593.2 646.7 L594.9 644.1 L596.6 641.3 L598.2 638.6 L599.8 636.0 L601.4 633.7 L603.7 630.7 L606.0 628.0 L608.5 625.3 L610.8 622.7 L613.2 619.9 L615.7 617.4 L618.3 615.4 L622.5 613.9 L626.8 612.6 L629.5 610.9 L632.2 609.0 L635.3 607.0 L637.8 605.7 L640.6 604.3 L643.6 602.9 L646.7 601.6 L649.7 600.4 L652.5 599.3 L655.8 598.3 L659.0 597.6 L662.1 596.8 L665.3 595.7 L668.2 594.0 L671.1 591.7 L674.0 589.4 L676.9 587.4 L680.0 586.1 L683.0 585.7 L686.1 585.9 L689.3 586.4 L692.5 587.0 L695.6 587.4" stroke="#50d028" stroke-width="1.5"/>
<path d="M111.0 956.0 L114.4 955.5 L117.7 954.9 L121.2 954.4 L125.0 953.8 L127.7 953.3 L130.5 952.8 L133.5 952.3 L136.5 951.7 L139.7 951.2 L143.0 950.7 L146.4 950.2 L150.0 949.9 L152.6 949.7 L155.4 949.6 L158.3 949.5 L161.3 949.4 L164.3 949.3 L167.5 949.3 L170.7 949.3 L173.9 949.3 L177.2 949.3 L180.5 949.3 L183.8 949.4 L187.1 949.4 L190.4 949.5 L193.6 949.5 L196.8 949.5 L200.0 949.5 L203.1 949.5 L206.2 949.5 L209.4 949.5 L212.5 949.5 L215.6 949.5 L218.7 949.5 L221.9 949.5 L225.0 949.6 L228.1 949.6 L231.2 949.6 L234.4 949.6 L237.5 949.6 L240.6 949.7 L243.7 949.7 L246.9 949.7 L250.0 949.7 L253.1 949.7 L256.2 949.7 L259.4 949.7 L262.5 949.8 L265.6 949.8 L268.7 949.8 L271.9 949.8 L275.0 949.8 L278.1 949.8 L281.2 949.8 L284.4 949.9 L287.5 949.9 L290.6 949.9 L293.7 949.9 L296.9 949.9 L300.0 949.9 L303.1 949.9 L306.3 949.9 L309.6 949.9 L312.8 949.9 L316.1 949.9 L319.3 949.9 L322.6 949.9 L325.8 949.9 L329.0 949.9 L332.2 949.8 L335.3 949.8 L338.4 949.8 L341.4 949.8 L344.4 949.8 L347.2 949.8 L350.0 949.8 L353.4 949.8 L356.7 949.8 L360.1 949.8 L363.3 949.8 L366.5 949.8 L369.5 949.8 L372.4 949.8 L375.2 949.8 L377.7 949.8 L380.0 949.8 L383.6 949.7 L386.6 949.6 L390.0 949.5 L392.6 949.4 L395.5 949.3 L398.6 949.2 L401.8 949.1 L405.1 948.9 L408.3 948.6 L411.4 948.2 L414.8 947.7 L418.4 947.1 L421.9 946.5 L425.3 945.7 L428.5 944.8 L431.6 943.8 L434.6 942.6 L437.5 941.2 L440.1 939.8 L442.7 938.2 L445.1 936.7 L448.2 934.5 L451.0 932.2 L453.7 929.8 L455.9 927.8 L458.1 925.6 L460.2 923.4 L462.3 921.2 L464.8 918.5 L467.2 915.7 L469.5 912.6 L471.2 910.0 L473.0 907.2 L474.7 904.2 L476.4 901.1 L478.0 897.9 L479.5 894.9 L480.9 891.8 L482.3 888.6 L483.6 885.4 L485.0 882.2 L486.4 879.0 L487.8 875.8 L489.2 872.7 L490.6 869.5 L492.0 866.3 L493.4 863.2 L494.8 860.0 L496.2 856.9 L497.6 853.7 L499.0 850.6 L500.4 847.5 L501.8 844.3 L503.2 841.1 L504.4 838.2 L505.6 835.3 L506.8 832.3 L507.9 829.4 L509.1 826.3 L510.3 823.2 L511.6 820.0 L512.7 817.2 L513.8 814.3 L515.0 811.3 L516.2 808.2 L517.4 805.1 L518.6 802.0 L519.8 798.9 L521.0 795.9 L522.3 792.9 L523.5 790.0 L524.8 787.2 L526.0 784.4 L527.3 781.6 L528.6 778.9 L529.9 776.3 L531.2 773.6 L532.5 770.9 L533.8 768.2 L535.0 765.4 L536.2 762.5 L537.5 759.5 L538.7 756.4 L539.9 753.3 L541.1 750.3 L542.2 747.3 L543.4 744.4 L544.5 741.7 L545.5 739.1 L546.8 736.0 L548.0 733.1 L549.2 730.3 L550.4 727.7 L551.5 725.0 L552.8 721.9 L554.0 718.9 L555.2 715.9 L556.5 713.0 L557.7 710.2 L558.9 707.3 L560.2 704.6 L561.5 702.0 L563.1 699.3 L564.7 696.9 L566.5 694.0 L567.8 691.7 L569.3 689.1 L570.8 686.2 L572.4 683.3 L574.0 680.3 L575.7 677.4 L577.4 674.6 L579.1 671.9 L580.8 669.2 L582.6 666.5 L584.4 663.8 L586.3 661.2 L588.2 658.7 L590.1 656.3 L592.3 653.7 L594.6 651.3 L597.0 648.9 L599.4 646.6 L601.8 644.4 L604.2 642.2 L606.5 640.2 L608.8 638.2 L611.1 636.2 L613.5 634.4 L615.8 632.6 L618.3 630.9 L621.4 629.0 L624.5 627.1 L627.7 625.4 L630.9 623.8 L633.9 622.4 L637.5 620.9 L641.0 619.7 L645.0 618.2 L647.3 617.3 L649.9 616.2 L652.6 615.0 L655.4 613.8 L658.3 612.6 L661.2 611.3 L664.2 610.1 L667.1 609.0 L670.0 608.0 L673.2 607.0 L676.3 606.0 L679.5 605.1 L682.7 604.3 L686.0 603.5 L689.2 602.7 L692.4 601.9 L695.6 601.0" stroke="#68dc28" stroke-width="1.5"/>
<path d="M111.0 958.0 L114.4 957.3 L117.7 956.6 L121.2 955.9 L125.0 955.2 L127.7 954.6 L130.5 954.1 L133.5 953.5 L136.5 952.9 L139.7 952.3 L143.0 951.7 L146.4 951.3 L150.0 950.9 L152.6 950.7 L155.4 950.5 L158.3 950.4 L161.3 950.3 L164.3 950.3 L167.5 950.2 L170.7 950.2 L173.9 950.3 L177.2 950.3 L180.5 950.3 L183.8 950.4 L187.1 950.4 L190.4 950.4 L193.6 950.5 L196.8 950.5 L200.0 950.5 L203.1 950.5 L206.2 950.5 L209.4 950.5 L212.5 950.5 L215.6 950.5 L218.7 950.5 L221.9 950.5 L225.0 950.6 L228.1 950.6 L231.2 950.6 L234.4 950.6 L237.5 950.6 L240.6 950.7 L243.7 950.7 L246.9 950.7 L250.0 950.7 L253.1 950.7 L256.2 950.7 L259.4 950.7 L262.5 950.8 L265.6 950.8 L268.7 950.8 L271.9 950.8 L275.0 950.8 L278.1 950.8 L281.2 950.8 L284.4 950.9 L287.5 950.9 L290.6 950.9 L293.7 950.9 L296.9 950.9 L300.0 950.9 L303.1 950.9 L306.3 950.9 L309.6 950.9 L312.8 950.9 L316.1 950.9 L319.3 950.9 L322.6 950.9 L325.8 950.9 L329.0 950.9 L332.2 950.8 L335.3 950.8 L338.4 950.8 L341.4 950.8 L344.4 950.8 L347.2 950.8 L350.0 950.8 L353.4 950.8 L356.7 950.8 L360.1 950.8 L363.3 950.8 L366.5 950.8 L369.5 950.8 L372.4 950.8 L375.2 950.8 L377.7 950.8 L380.0 950.8 L383.6 950.7 L386.6 950.7 L390.0 950.5 L392.7 950.4 L395.6 950.2 L398.8 950.1 L402.0 949.9 L405.3 949.6 L408.6 949.3 L411.7 948.9 L414.7 948.4 L417.8 947.9 L420.8 947.3 L423.9 946.6 L426.8 945.9 L429.6 945.0 L432.3 944.1 L435.4 942.8 L438.3 941.4 L441.0 939.9 L443.6 938.3 L446.1 936.7 L449.2 934.5 L452.0 932.2 L454.7 929.8 L456.9 927.8 L459.1 925.6 L461.2 923.4 L463.3 921.2 L465.8 918.5 L468.2 915.7 L470.5 912.6 L472.2 910.0 L474.0 907.2 L475.7 904.2 L477.4 901.1 L479.0 897.9 L480.5 894.9 L481.9 891.8 L483.3 888.6 L484.6 885.4 L486.0 882.2 L487.4 879.0 L488.8 875.8 L490.2 872.7 L491.6 869.5 L493.0 866.3 L494.4 863.2 L495.8 860.0 L497.2 856.9 L498.6 853.7 L500.0 850.6 L501.4 847.5 L502.8 844.3 L504.2 841.1 L505.4 838.2 L506.6 835.3 L507.7 832.3 L508.9 829.4 L510.1 826.3 L511.3 823.2 L512.6 820.0 L513.8 817.2 L515.0 814.3 L516.2 811.3 L517.5 808.2 L518.8 805.1 L520.1 802.0 L521.4 798.9 L522.8 795.9 L524.1 792.9 L525.5 790.0 L526.9 787.1 L528.4 784.4 L529.9 781.6 L531.3 778.9 L532.8 776.3 L534.3 773.6 L535.8 770.9 L537.2 768.2 L538.5 765.4 L539.8 762.5 L541.1 759.5 L542.3 756.4 L543.5 753.3 L544.6 750.2 L545.8 747.2 L546.9 744.4 L548.0 741.6 L549.0 739.1 L550.6 735.5 L552.1 732.2 L553.5 729.2 L555.0 726.0 L556.6 722.7 L558.1 719.4 L559.7 716.2 L561.3 713.1 L563.0 709.9 L564.7 706.9 L566.5 704.0 L568.4 701.4 L570.4 698.9 L572.5 696.0 L574.1 693.5 L575.8 690.7 L577.6 687.7 L579.4 684.7 L581.2 681.7 L583.1 678.9 L584.9 676.4 L586.7 674.0 L588.6 671.7 L590.5 669.4 L592.4 667.1 L594.4 664.8 L596.4 662.4 L598.5 660.0 L600.6 657.6 L602.7 655.3 L604.9 652.9 L607.1 650.6 L609.6 648.1 L612.1 645.5 L614.7 643.0 L617.3 640.6 L620.0 638.4 L622.6 636.5 L625.8 634.8 L629.1 633.5 L632.3 632.3 L635.3 630.9 L637.7 629.2 L639.9 627.2 L642.2 625.3 L645.0 623.5 L647.5 622.3 L650.3 621.1 L653.4 619.9 L656.6 618.8 L660.0 617.7 L663.4 616.7 L666.7 615.8 L670.0 615.0 L673.2 614.3 L676.3 613.7 L679.5 613.3 L682.7 612.9 L686.0 612.5 L689.2 612.1 L692.4 611.7 L695.6 611.3" stroke="#80e030" stroke-width="1.5"/>
<path d="M111.0 957.5 L114.4 956.8 L117.8 956.1 L121.2 955.4 L125.0 954.6 L127.7 954.0 L130.5 953.2 L133.5 952.4 L136.5 951.6 L139.6 950.8 L142.9 950.1 L146.4 949.4 L150.0 948.9 L152.6 948.6 L155.4 948.4 L158.3 948.3 L161.3 948.2 L164.3 948.1 L167.5 948.1 L170.7 948.1 L173.9 948.1 L177.2 948.2 L180.5 948.2 L183.8 948.3 L187.1 948.4 L190.4 948.4 L193.6 948.5 L196.8 948.5 L200.0 948.5 L203.1 948.5 L206.2 948.5 L209.4 948.5 L212.5 948.5 L215.6 948.5 L218.7 948.5 L221.9 948.5 L225.0 948.6 L228.1 948.6 L231.2 948.6 L234.4 948.6 L237.5 948.6 L240.6 948.7 L243.7 948.7 L246.9 948.7 L250.0 948.7 L253.1 948.7 L256.2 948.7 L259.4 948.7 L262.5 948.8 L265.6 948.8 L268.7 948.8 L271.9 948.8 L275.0 948.8 L278.1 948.8 L281.2 948.8 L284.4 948.9 L287.5 948.9 L290.6 948.9 L293.7 948.9 L296.9 948.9 L300.0 948.9 L303.1 948.9 L306.3 948.9 L309.6 948.9 L312.8 948.9 L316.1 948.9 L319.3 948.9 L322.6 948.9 L325.8 948.9 L329.0 948.9 L332.2 948.8 L335.3 948.8 L338.4 948.8 L341.4 948.8 L344.4 948.8 L347.2 948.8 L350.0 948.8 L353.4 948.8 L356.7 948.8 L360.1 948.8 L363.3 948.8 L366.5 948.8 L369.5 948.8 L372.4 948.8 L375.2 948.8 L377.7 948.8 L380.0 948.8 L383.6 948.7 L386.6 948.6 L390.0 948.5 L392.7 948.4 L395.7 948.4 L398.9 948.3 L402.2 948.2 L405.5 948.1 L408.9 947.9 L412.0 947.6 L415.1 947.2 L418.2 946.7 L421.3 946.2 L424.4 945.7 L427.4 945.0 L430.2 944.3 L433.0 943.4 L436.1 942.3 L439.1 941.0 L441.9 939.7 L444.6 938.2 L447.1 936.7 L450.2 934.5 L453.0 932.2 L455.7 929.8 L457.9 927.8 L460.1 925.6 L462.2 923.4 L464.3 921.2 L466.8 918.5 L469.2 915.7 L471.5 912.6 L473.2 910.0 L475.0 907.2 L476.7 904.2 L478.4 901.1 L480.0 897.9 L481.5 894.9 L482.9 891.8 L484.3 888.6 L485.6 885.4 L487.0 882.2 L488.4 879.0 L489.8 875.8 L491.2 872.7 L492.6 869.5 L494.0 866.3 L495.4 863.2 L496.8 860.0 L498.2 856.9 L499.6 853.7 L501.0 850.6 L502.4 847.5 L503.8 844.3 L505.2 841.1 L506.4 838.2 L507.5 835.3 L508.7 832.3 L509.8 829.4 L511.0 826.3 L512.3 823.2 L513.6 820.0 L514.7 817.4 L515.9 814.8 L517.1 812.1 L518.3 809.3 L519.6 806.5 L520.9 803.7 L522.2 800.9 L523.5 798.1 L524.9 795.3 L526.2 792.6 L527.5 790.0 L529.0 787.1 L530.5 784.4 L532.0 781.6 L533.6 778.9 L535.1 776.3 L536.7 773.6 L538.1 770.9 L539.6 768.2 L541.0 765.4 L542.4 762.5 L543.7 759.5 L545.0 756.4 L546.3 753.3 L547.5 750.2 L548.8 747.2 L549.9 744.4 L551.1 741.6 L552.2 739.1 L553.9 735.5 L555.4 732.3 L557.0 729.2 L558.5 726.0 L560.0 722.8 L561.4 719.5 L562.9 716.3 L564.6 713.1 L566.4 710.5 L568.3 707.9 L570.3 705.3 L572.5 702.7 L574.6 700.0 L576.3 697.7 L578.1 695.3 L579.8 692.8 L581.7 690.3 L583.5 687.8 L585.4 685.4 L587.3 683.1 L589.5 680.6 L591.8 678.1 L594.2 675.7 L596.6 673.4 L599.0 671.1 L601.4 669.0 L604.1 666.8 L606.9 664.7 L609.8 662.7 L612.6 660.9 L615.5 659.1 L618.3 657.6 L621.1 656.2 L623.9 654.9 L626.8 653.6 L629.6 652.1 L632.1 650.6 L634.5 648.9 L637.0 647.2 L639.5 645.4 L642.2 643.8 L645.0 642.2 L647.8 640.9 L650.7 639.7 L653.8 638.5 L657.0 637.3 L660.3 636.2 L663.5 635.1 L666.8 634.1 L670.0 633.0 L673.2 631.9 L676.4 630.9 L679.6 629.9 L682.8 628.9 L686.0 627.9 L689.2 627.0 L692.4 626.0 L695.6 625.0" stroke="#60d830" stroke-width="1.5"/>
<path d="M111.0 958.5 L114.4 957.7 L117.7 957.0 L121.2 956.2 L125.0 955.4 L127.7 954.8 L130.5 954.2 L133.5 953.5 L136.5 952.7 L139.7 952.0 L143.0 951.4 L146.4 950.8 L150.0 950.4 L152.6 950.2 L155.4 950.0 L158.3 949.8 L161.3 949.7 L164.3 949.7 L167.5 949.7 L170.7 949.7 L173.9 949.7 L177.2 949.7 L180.5 949.8 L183.8 949.8 L187.1 949.9 L190.4 949.9 L193.6 950.0 L196.8 950.0 L200.0 950.0 L203.1 950.0 L206.2 950.0 L209.4 950.0 L212.5 950.0 L215.6 950.0 L218.7 950.0 L221.9 950.0 L225.0 950.1 L228.1 950.1 L231.2 950.1 L234.4 950.1 L237.5 950.1 L240.6 950.2 L243.7 950.2 L246.9 950.2 L250.0 950.2 L253.1 950.2 L256.2 950.2 L259.4 950.2 L262.5 950.3 L265.6 950.3 L268.7 950.3 L271.9 950.3 L275.0 950.3 L278.1 950.3 L281.2 950.3 L284.4 950.4 L287.5 950.4 L290.6 950.4 L293.7 950.4 L296.9 950.4 L300.0 950.4 L303.1 950.4 L306.3 950.4 L309.6 950.4 L312.8 950.4 L316.1 950.4 L319.3 950.4 L322.6 950.4 L325.8 950.4 L329.0 950.4 L332.2 950.3 L335.3 950.3 L338.4 950.3 L341.4 950.3 L344.4 950.3 L347.2 950.3 L350.0 950.3 L353.4 950.3 L356.7 950.3 L360.1 950.3 L363.3 950.3 L366.5 950.3 L369.5 950.3 L372.4 950.3 L375.2 950.3 L377.7 950.3 L380.0 950.3 L383.6 950.2 L386.6 950.1 L390.0 950.0 L392.7 949.9 L395.8 949.8 L399.0 949.6 L402.4 949.5 L405.8 949.3 L409.1 949.0 L412.4 948.6 L415.5 948.1 L418.6 947.6 L421.8 947.0 L424.9 946.4 L427.9 945.6 L430.9 944.8 L433.6 943.9 L436.8 942.7 L439.9 941.3 L442.8 939.8 L445.5 938.3 L448.1 936.7 L451.2 934.5 L454.0 932.2 L456.7 929.8 L458.9 927.8 L461.1 925.6 L463.2 923.4 L465.3 921.2 L467.8 918.5 L470.2 915.7 L472.5 912.6 L474.2 910.0 L476.0 907.2 L477.7 904.2 L479.4 901.1 L481.0 897.9 L482.5 894.9 L483.9 891.8 L485.3 888.6 L486.6 885.4 L488.0 882.2 L489.4 879.0 L490.8 875.8 L492.2 872.7 L493.6 869.5 L495.0 866.3 L496.4 863.2 L497.8 860.0 L499.2 856.9 L500.6 853.7 L502.0 850.6 L503.4 847.5 L504.8 844.3 L506.2 841.1 L507.4 838.2 L508.5 835.3 L509.6 832.3 L510.8 829.3 L512.0 826.3 L513.2 823.2 L514.6 820.0 L515.8 817.4 L517.0 814.8 L518.3 812.1 L519.6 809.3 L521.0 806.5 L522.4 803.7 L523.9 800.9 L525.3 798.1 L526.7 795.3 L528.1 792.6 L529.5 790.0 L531.0 787.2 L532.6 784.4 L534.1 781.7 L535.7 779.0 L537.2 776.3 L538.7 773.6 L540.2 770.9 L541.6 768.2 L543.0 765.4 L544.3 762.5 L545.6 759.5 L546.8 756.4 L547.9 753.3 L549.0 750.2 L550.2 747.2 L551.2 744.3 L552.3 741.6 L553.4 739.1 L555.1 735.5 L556.7 732.2 L558.3 729.1 L560.0 726.0 L561.7 722.8 L563.3 719.5 L565.0 716.3 L566.9 713.1 L568.6 710.5 L570.3 708.0 L572.1 705.4 L574.0 702.8 L576.0 700.0 L577.6 697.7 L579.2 695.3 L580.9 692.7 L582.7 690.1 L584.5 687.5 L586.3 685.0 L588.1 682.4 L590.0 680.0 L591.9 677.7 L593.8 675.4 L595.7 673.1 L597.7 670.9 L599.7 668.7 L601.7 666.5 L603.8 664.3 L606.0 662.0 L608.0 659.9 L610.1 657.8 L612.2 655.7 L614.3 653.6 L616.5 651.5 L618.8 649.4 L621.0 647.3 L623.3 645.2 L625.7 643.1 L628.0 641.0 L630.3 639.0 L632.6 637.0 L634.9 634.9 L637.3 632.9 L639.6 630.9 L642.0 628.9 L644.5 626.9 L647.0 624.9 L649.6 623.0 L652.3 621.0 L655.0 619.0 L657.4 617.3 L659.9 615.6 L662.5 613.9 L665.1 612.3 L667.8 610.6 L670.5 608.9 L673.3 607.3 L676.1 605.6 L678.9 604.0 L681.7 602.3 L684.5 600.6 L687.3 599.0 L690.1 597.3 L692.9 595.7 L695.6 594.0" stroke="#78e038" stroke-width="1.5"/>
<path d="M570.5 797.0 L571.7 793.8 L572.8 790.7 L574.0 787.6 L575.1 784.4 L576.3 781.0 L577.2 778.4 L578.1 775.6 L579.1 772.8 L580.0 769.8 L581.0 766.9 L582.0 763.9 L582.9 760.9 L583.9 757.9 L584.9 755.0 L586.0 751.8 L587.1 748.5 L588.2 745.2 L589.3 741.9 L590.5 738.7 L591.6 735.6 L592.7 732.7 L593.8 730.0 L595.3 726.7 L596.8 723.9 L598.3 721.1 L599.8 718.0 L601.0 715.2 L602.2 712.2 L603.3 709.1 L604.5 705.9 L605.8 702.9 L607.0 700.0 L608.4 697.1 L609.8 694.4 L611.2 691.7 L612.6 689.1 L614.0 686.4 L615.4 683.7 L616.8 681.0 L632.5 681.0 L630.7 683.7 L629.0 686.4 L627.3 689.1 L625.7 691.7 L624.1 694.4 L622.6 697.1 L621.0 700.0 L619.5 702.9 L618.0 705.9 L616.6 709.1 L615.1 712.2 L613.7 715.2 L612.2 718.0 L610.5 721.1 L608.7 723.9 L607.0 726.7 L605.2 730.0 L604.1 732.4 L602.9 734.9 L601.7 737.6 L600.4 740.4 L599.2 743.3 L598.0 746.3 L596.7 749.2 L595.5 752.1 L594.3 755.0 L593.1 757.9 L591.9 760.9 L590.6 763.8 L589.4 766.9 L588.2 769.8 L587.0 772.8 L585.8 775.6 L584.7 778.4 L583.7 781.0 L582.3 784.4 L581.1 787.6 L579.9 790.7 L578.7 793.8 L577.5 797.0Z" style="fill:url(#g5);stroke:none"/>
<path d="M111.0 958.0 L114.4 957.3 L117.7 956.6 L121.2 955.8 L125.0 955.0 L127.7 954.4 L130.5 953.6 L133.5 952.9 L136.5 952.1 L139.7 951.3 L142.9 950.6 L146.4 950.0 L150.0 949.5 L152.6 949.2 L155.4 949.0 L158.3 948.9 L161.3 948.8 L164.3 948.7 L167.5 948.7 L170.7 948.7 L173.9 948.7 L177.2 948.8 L180.5 948.8 L183.8 948.9 L187.1 949.0 L190.4 949.0 L193.6 949.1 L196.8 949.1 L200.0 949.1 L203.1 949.1 L206.2 949.1 L209.4 949.1 L212.5 949.1 L215.6 949.1 L218.7 949.1 L221.9 949.1 L225.0 949.2 L228.1 949.2 L231.2 949.2 L234.4 949.2 L237.5 949.2 L240.6 949.3 L243.7 949.3 L246.9 949.3 L250.0 949.3 L253.1 949.3 L256.2 949.3 L259.4 949.3 L262.5 949.4 L265.6 949.4 L268.7 949.4 L271.9 949.4 L275.0 949.4 L278.1 949.4 L281.2 949.4 L284.4 949.5 L287.5 949.5 L290.6 949.5 L293.7 949.5 L296.9 949.5 L300.0 949.5 L303.1 949.5 L306.3 949.5 L309.6 949.5 L312.8 949.5 L316.1 949.5 L319.3 949.5 L322.6 949.5 L325.8 949.5 L329.0 949.5 L332.2 949.4 L335.3 949.4 L338.4 949.4 L341.4 949.4 L344.4 949.4 L347.2 949.4 L350.0 949.4 L353.3 949.4 L356.5 949.4 L359.6 949.4 L362.5 949.4 L365.5 949.4 L368.4 949.4 L371.2 949.4 L374.1 949.4 L377.0 949.4 L380.0 949.4 L383.1 949.4 L386.3 949.4 L389.5 949.4 L392.8 949.4 L396.0 949.5 L399.2 949.5 L402.2 949.5 L405.0 949.5 L407.7 949.5 L410.0 949.5 L413.5 949.5 L416.4 949.5 L420.0 949.4 L422.4 949.3 L425.2 949.1 L428.2 948.9 L431.5 948.7 L435.0 948.5 L438.6 948.2 L442.3 947.9 L445.9 947.6 L449.4 947.3 L452.8 947.0 L456.0 946.7 L458.8 946.4 L462.6 945.9 L466.0 945.5 L469.3 945.1 L472.5 944.6 L475.6 944.0 L478.7 943.2 L482.0 942.2 L485.2 941.1 L488.3 939.9 L491.4 938.4 L494.4 936.8 L497.0 935.2 L499.6 933.5 L502.1 931.6 L504.6 929.6 L506.9 927.5 L509.1 925.3 L511.1 923.1 L513.0 920.7 L514.7 918.3 L516.4 915.7 L518.0 913.1 L519.7 910.5 L521.3 907.9 L522.8 905.3 L524.4 902.6 L525.9 899.8 L527.3 897.0 L528.8 894.3 L530.2 891.6 L531.7 888.7 L533.1 885.9 L534.5 883.1 L535.8 880.3 L537.2 877.5 L538.6 874.7 L540.0 871.9 L541.4 869.2 L542.8 866.4 L544.2 863.7 L545.6 860.8 L547.0 857.9 L548.3 855.0 L549.5 852.1 L550.7 849.0 L551.9 846.0 L553.1 842.9 L554.3 839.8 L555.5 836.8 L556.7 833.8 L557.9 830.8 L559.2 827.7 L560.4 824.7 L561.6 821.7 L562.8 818.7 L563.9 815.8 L565.1 812.6 L566.2 809.4 L567.3 806.2 L568.4 803.1 L569.4 800.0 L570.5 797.0 L571.7 793.8 L572.8 790.7 L574.0 787.6 L575.1 784.4 L576.3 781.0 L577.2 778.4 L578.1 775.6 L579.1 772.8 L580.0 769.8 L581.0 766.9 L582.0 763.9 L582.9 760.9 L583.9 757.9 L584.9 755.0 L586.0 751.8 L587.1 748.5 L588.2 745.2 L589.3 741.9 L590.5 738.7 L591.6 735.6 L592.7 732.7 L593.8 730.0 L595.3 726.7 L596.8 723.9 L598.3 721.1 L599.8 718.0 L601.0 715.2 L602.2 712.2 L603.3 709.1 L604.5 705.9 L605.8 702.9 L607.0 700.0 L608.4 697.1 L609.8 694.4 L611.2 691.7 L612.6 689.1 L614.0 686.4 L615.4 683.7 L616.8 681.0 L618.1 678.3 L619.5 675.6 L621.0 673.0 L622.5 670.4 L624.0 667.8 L625.5 665.2 L627.2 662.6 L629.0 660.0 L630.8 657.7 L632.7 655.4 L634.7 653.0 L636.8 650.6 L638.9 648.2 L641.1 645.8 L643.3 643.3 L645.2 641.1 L647.2 638.9 L649.2 636.6 L651.3 634.3 L653.3 632.0 L655.4 629.8 L657.5 627.5 L659.6 625.3 L661.7 623.2 L664.0 621.0 L666.2 618.8 L668.5 616.6 L670.8 614.5 L673.1 612.5 L675.4 610.5 L677.7 608.5 L680.0 606.7 L682.6 604.7 L685.2 602.8 L687.8 601.0 L690.4 599.2 L693.0 597.5 L695.6 595.7" stroke="#28d088" stroke-width="1.5"/>
<path d="M111.0 957.0 L114.4 956.4 L117.7 955.7 L121.2 955.1 L125.0 954.4 L127.7 953.9 L130.5 953.3 L133.5 952.7 L136.5 952.0 L139.7 951.4 L143.0 950.8 L146.4 950.3 L150.0 949.9 L152.6 949.7 L155.4 949.6 L158.3 949.4 L161.3 949.4 L164.3 949.3 L167.5 949.3 L170.7 949.3 L173.9 949.3 L177.2 949.3 L180.5 949.4 L183.8 949.4 L187.1 949.4 L190.4 949.5 L193.6 949.5 L196.8 949.5 L200.0 949.5 L203.1 949.5 L206.2 949.5 L209.4 949.6 L212.5 949.6 L215.6 949.6 L218.7 949.6 L221.9 949.6 L225.0 949.6 L228.1 949.6 L231.2 949.6 L234.4 949.7 L237.5 949.7 L240.6 949.7 L243.7 949.7 L246.9 949.7 L250.0 949.8 L253.1 949.8 L256.2 949.8 L259.4 949.8 L262.5 949.8 L265.6 949.8 L268.7 949.8 L271.9 949.9 L275.0 949.9 L278.1 949.9 L281.2 949.9 L284.4 949.9 L287.5 949.9 L290.6 949.9 L293.7 949.9 L296.9 949.9 L300.0 949.9 L303.1 950.0 L306.3 950.0 L309.6 949.9 L312.8 949.9 L316.1 949.9 L319.3 949.9 L322.6 949.9 L325.8 949.9 L329.0 949.9 L332.2 949.9 L335.3 949.9 L338.4 949.9 L341.4 949.9 L344.4 949.9 L347.2 949.9 L350.0 949.9 L353.3 949.8 L356.5 949.8 L359.6 949.8 L362.5 949.8 L365.5 949.8 L368.4 949.8 L371.2 949.8 L374.1 949.8 L377.0 949.8 L380.0 949.8 L383.1 949.9 L386.3 949.9 L389.5 949.9 L392.8 949.9 L396.0 949.9 L399.2 949.9 L402.2 949.9 L405.0 950.0 L407.7 950.0 L410.0 949.9 L413.5 950.0 L416.4 950.0 L420.0 949.8 L422.2 949.7 L424.8 949.6 L427.6 949.4 L430.6 949.2 L433.9 949.0 L437.2 948.7 L440.6 948.5 L444.0 948.2 L447.4 947.9 L450.7 947.6 L453.8 947.3 L456.7 947.0 L459.4 946.7 L463.2 946.2 L466.8 945.8 L470.2 945.3 L473.5 944.8 L476.7 944.2 L479.8 943.4 L483.3 942.4 L486.6 941.2 L489.9 939.9 L493.1 938.5 L496.1 936.8 L498.8 935.2 L501.4 933.5 L503.9 931.6 L506.3 929.6 L508.7 927.5 L510.9 925.3 L512.9 923.1 L514.7 920.7 L516.5 918.3 L518.1 915.7 L519.8 913.1 L521.5 910.5 L523.0 907.9 L524.6 905.3 L526.1 902.6 L527.6 899.8 L529.1 897.0 L530.5 894.3 L532.0 891.6 L533.4 888.7 L534.9 885.9 L536.2 883.1 L537.6 880.3 L539.0 877.5 L540.4 874.7 L541.8 871.9 L543.2 869.2 L544.6 866.4 L546.0 863.7 L547.4 860.8 L548.8 857.9 L550.0 855.0 L551.2 852.1 L552.5 849.0 L553.7 846.0 L554.8 842.9 L556.0 839.8 L557.2 836.8 L558.5 833.8 L559.7 830.8 L560.9 827.7 L562.2 824.7 L563.4 821.7 L564.5 818.7 L565.6 815.8 L566.8 812.6 L567.9 809.4 L569.0 806.2 L570.1 803.1 L571.2 800.0 L572.2 797.0 L573.4 793.8 L574.6 790.7 L575.7 787.6 L576.9 784.4 L578.2 781.0 L579.1 778.4 L580.1 775.6 L581.0 772.8 L582.1 769.8 L583.1 766.9 L584.1 763.9 L585.2 760.9 L586.2 757.9 L587.2 755.0 L588.4 751.8 L589.6 748.5 L590.8 745.2 L592.0 741.9 L593.1 738.7 L594.3 735.6 L595.5 732.7 L596.6 730.0 L598.2 726.7 L599.8 723.9 L601.3 721.1 L602.9 718.0 L604.1 715.2 L605.4 712.2 L606.6 709.1 L607.9 705.9 L609.2 702.9 L610.5 700.0 L612.0 697.1 L613.4 694.4 L615.0 691.7 L616.5 689.1 L618.0 686.4 L619.5 683.7 L621.0 681.0 L622.5 678.3 L624.0 675.7 L625.5 673.0 L627.0 670.4 L628.5 667.7 L630.0 665.1 L631.6 662.5 L633.5 660.0 L635.6 657.6 L637.8 655.3 L640.2 653.0 L642.8 650.7 L645.4 648.4 L648.0 646.0 L650.3 643.8 L652.6 641.5 L655.0 639.1 L657.4 636.7 L659.9 634.4 L662.5 632.1 L665.2 630.0 L668.0 628.0 L670.5 626.5 L673.1 625.1 L675.8 623.8 L678.6 622.6 L681.4 621.5 L684.2 620.3 L687.1 619.2 L690.0 618.1 L692.8 617.0 L695.6 615.8" stroke="#18d060" stroke-width="1.5"/>
<path d="M111.0 958.5 L114.4 957.7 L117.7 957.0 L121.2 956.2 L125.0 955.4 L127.7 954.8 L130.5 954.1 L133.5 953.4 L136.5 952.7 L139.7 951.9 L143.0 951.3 L146.4 950.7 L150.0 950.2 L152.6 950.0 L155.4 949.8 L158.3 949.7 L161.3 949.6 L164.3 949.5 L167.5 949.5 L170.7 949.5 L173.9 949.5 L177.2 949.6 L180.5 949.6 L183.8 949.7 L187.1 949.7 L190.4 949.8 L193.6 949.8 L196.8 949.8 L200.0 949.9 L203.1 949.8 L206.2 949.8 L209.4 949.9 L212.5 949.9 L215.6 949.9 L218.7 949.9 L221.9 949.9 L225.0 949.9 L228.1 949.9 L231.2 949.9 L234.4 950.0 L237.5 950.0 L240.6 950.0 L243.7 950.0 L246.9 950.0 L250.0 950.1 L253.1 950.1 L256.2 950.1 L259.4 950.1 L262.5 950.1 L265.6 950.1 L268.7 950.1 L271.9 950.2 L275.0 950.2 L278.1 950.2 L281.2 950.2 L284.4 950.2 L287.5 950.2 L290.6 950.2 L293.7 950.2 L296.9 950.2 L300.0 950.2 L303.1 950.3 L306.3 950.3 L309.6 950.2 L312.8 950.2 L316.1 950.2 L319.3 950.2 L322.6 950.2 L325.8 950.2 L329.0 950.2 L332.2 950.2 L335.3 950.2 L338.4 950.2 L341.4 950.2 L344.4 950.2 L347.2 950.2 L350.0 950.2 L353.3 950.1 L356.5 950.1 L359.6 950.1 L362.5 950.1 L365.5 950.1 L368.4 950.1 L371.2 950.1 L374.1 950.1 L377.0 950.1 L380.0 950.2 L383.1 950.2 L386.3 950.2 L389.5 950.2 L392.8 950.2 L396.0 950.2 L399.2 950.2 L402.2 950.2 L405.0 950.3 L407.7 950.3 L410.0 950.2 L413.5 950.3 L416.4 950.3 L420.0 950.1 L422.2 950.0 L424.8 949.9 L427.7 949.7 L430.8 949.5 L434.0 949.3 L437.4 949.0 L440.9 948.7 L444.3 948.4 L447.8 948.1 L451.1 947.8 L454.3 947.5 L457.3 947.2 L460.0 946.9 L463.4 946.5 L466.6 946.1 L469.6 945.7 L472.6 945.3 L475.4 944.8 L478.2 944.2 L481.0 943.5 L484.0 942.6 L486.9 941.7 L489.7 940.6 L492.5 939.5 L495.2 938.2 L497.9 936.8 L500.5 935.2 L503.1 933.4 L505.7 931.6 L508.1 929.6 L510.4 927.5 L512.6 925.3 L514.6 923.1 L516.5 920.7 L518.2 918.3 L519.9 915.7 L521.5 913.1 L523.2 910.5 L524.8 907.9 L526.3 905.3 L527.9 902.6 L529.4 899.8 L530.8 897.0 L532.3 894.3 L533.7 891.6 L535.2 888.7 L536.6 885.9 L538.0 883.1 L539.3 880.3 L540.7 877.5 L542.1 874.7 L543.5 871.9 L544.9 869.2 L546.3 866.4 L547.7 863.7 L549.1 860.8 L550.5 857.9 L551.8 855.0 L553.0 852.1 L554.2 849.0 L555.4 846.0 L556.6 842.9 L557.8 839.8 L559.0 836.8 L560.2 833.8 L561.4 830.8 L562.7 827.7 L563.9 824.7 L565.1 821.7 L566.3 818.7 L567.4 815.8 L568.6 812.6 L569.7 809.4 L570.8 806.2 L571.9 803.1 L572.9 800.0 L574.0 797.0 L575.2 793.8 L576.3 790.7 L577.5 787.6 L578.7 784.4 L580.0 781.0 L581.0 778.4 L582.0 775.6 L583.0 772.8 L584.1 769.8 L585.2 766.9 L586.3 763.9 L587.4 760.9 L588.5 757.9 L589.6 755.0 L590.8 751.8 L592.1 748.5 L593.3 745.2 L594.6 741.9 L595.8 738.7 L597.1 735.6 L598.3 732.7 L599.5 730.0 L601.2 726.7 L602.8 723.9 L604.4 721.1 L606.0 718.0 L607.3 715.2 L608.6 712.2 L610.0 709.1 L611.3 705.9 L612.6 702.9 L614.0 700.0 L615.5 697.1 L617.0 694.4 L618.4 691.7 L620.0 689.1 L621.5 686.4 L623.1 683.7 L624.6 681.0 L626.2 678.3 L627.9 675.7 L629.5 673.0 L631.1 670.3 L632.6 667.6 L634.2 665.0 L636.0 662.4 L638.0 660.0 L640.1 658.0 L642.4 656.1 L644.8 654.4 L647.4 652.6 L650.0 650.8 L652.5 648.8 L654.7 646.9 L656.8 644.7 L659.0 642.5 L661.2 640.2 L663.4 638.0 L665.8 635.9 L668.2 633.9 L670.8 632.3 L673.6 630.9 L676.6 629.8 L679.7 628.9 L682.8 628.0 L686.0 627.3 L689.3 626.6 L692.5 625.8 L695.6 625.0" stroke="#20d868" stroke-width="1.5"/>
<path d="M111.0 959.0 L114.4 958.2 L117.7 957.4 L121.2 956.6 L125.0 955.7 L127.7 955.0 L130.5 954.2 L133.4 953.3 L136.5 952.5 L139.6 951.6 L142.9 950.9 L146.4 950.2 L150.0 949.6 L152.6 949.4 L155.4 949.2 L158.3 949.0 L161.3 948.9 L164.3 948.8 L167.5 948.8 L170.7 948.8 L173.9 948.8 L177.2 948.9 L180.5 948.9 L183.8 949.0 L187.1 949.1 L190.4 949.2 L193.6 949.2 L196.8 949.2 L200.0 949.2 L203.1 949.2 L206.2 949.2 L209.4 949.3 L212.5 949.3 L215.6 949.3 L218.7 949.3 L221.9 949.3 L225.0 949.3 L228.1 949.3 L231.2 949.3 L234.4 949.4 L237.5 949.4 L240.6 949.4 L243.7 949.4 L246.9 949.4 L250.0 949.5 L253.1 949.5 L256.2 949.5 L259.4 949.5 L262.5 949.5 L265.6 949.5 L268.7 949.5 L271.9 949.6 L275.0 949.6 L278.1 949.6 L281.2 949.6 L284.4 949.6 L287.5 949.6 L290.6 949.6 L293.7 949.6 L296.9 949.6 L300.0 949.6 L303.1 949.7 L306.3 949.7 L309.6 949.6 L312.8 949.6 L316.1 949.6 L319.3 949.6 L322.6 949.6 L325.8 949.6 L329.0 949.6 L332.2 949.6 L335.3 949.6 L338.4 949.6 L341.4 949.6 L344.4 949.6 L347.2 949.6 L350.0 949.5 L353.3 949.5 L356.5 949.5 L359.6 949.5 L362.5 949.5 L365.5 949.5 L368.4 949.5 L371.2 949.5 L374.1 949.5 L377.0 949.5 L380.0 949.5 L383.1 949.6 L386.3 949.6 L389.5 949.6 L392.8 949.6 L396.0 949.6 L399.2 949.6 L402.2 949.6 L405.0 949.7 L407.7 949.7 L410.0 949.6 L413.5 949.7 L416.4 949.7 L420.0 949.5 L422.3 949.4 L424.9 949.3 L427.8 949.1 L430.9 948.9 L434.2 948.7 L437.6 948.5 L441.1 948.2 L444.7 947.9 L448.1 947.6 L451.5 947.4 L454.8 947.1 L457.8 946.8 L460.6 946.5 L464.1 946.1 L467.3 945.7 L470.5 945.4 L473.5 945.0 L476.4 944.5 L479.3 944.0 L482.2 943.3 L485.3 942.5 L488.3 941.6 L491.2 940.6 L494.1 939.5 L496.9 938.2 L499.6 936.8 L502.3 935.2 L504.9 933.5 L507.4 931.6 L509.8 929.6 L512.2 927.5 L514.4 925.3 L516.4 923.1 L518.2 920.7 L520.0 918.3 L521.6 915.7 L523.3 913.1 L525.0 910.5 L526.5 907.9 L528.1 905.3 L529.6 902.6 L531.1 899.8 L532.6 897.0 L534.0 894.3 L535.5 891.6 L536.9 888.7 L538.4 885.9 L539.7 883.1 L541.1 880.3 L542.5 877.5 L543.9 874.7 L545.3 871.9 L546.7 869.2 L548.1 866.4 L549.5 863.7 L550.9 860.8 L552.2 857.9 L553.5 855.0 L554.7 852.1 L556.0 849.0 L557.2 846.0 L558.3 842.9 L559.5 839.8 L560.8 836.8 L562.0 833.8 L563.2 830.8 L564.4 827.7 L565.7 824.7 L566.9 821.7 L568.0 818.7 L569.2 815.8 L570.3 812.6 L571.4 809.4 L572.5 806.2 L573.6 803.1 L574.7 800.0 L575.8 797.0 L576.9 793.8 L578.1 790.7 L579.3 787.6 L580.5 784.4 L581.8 781.0 L582.8 778.4 L583.9 775.6 L585.0 772.8 L586.1 769.8 L587.3 766.9 L588.5 763.9 L589.6 760.9 L590.8 757.9 L592.0 755.0 L593.1 752.1 L594.3 749.2 L595.4 746.3 L596.6 743.3 L597.8 740.4 L599.0 737.6 L600.1 734.9 L601.3 732.4 L602.4 730.0 L604.1 726.7 L605.8 723.9 L607.4 721.1 L609.1 718.0 L610.5 715.2 L611.9 712.2 L613.3 709.1 L614.7 705.9 L616.1 702.9 L617.5 700.0 L619.0 697.1 L620.5 694.4 L621.9 691.7 L623.4 689.1 L625.0 686.4 L626.6 683.7 L628.3 681.0 L630.0 678.3 L631.8 675.7 L633.5 673.0 L635.2 670.3 L636.9 667.7 L638.6 665.1 L640.5 662.5 L642.5 660.0 L644.5 657.9 L646.6 655.9 L648.8 653.9 L651.1 651.9 L653.5 650.0 L656.0 648.0 L658.3 646.2 L660.7 644.5 L663.2 642.7 L665.7 640.9 L668.3 639.1 L670.9 637.4 L673.5 635.7 L676.0 634.0 L678.8 632.2 L681.6 630.5 L684.4 628.7 L687.2 627.1 L690.0 625.4 L692.8 623.7 L695.6 622.0" stroke="#28dc70" stroke-width="1.5"/>
<path d="M111.0 958.2 L114.4 957.5 L117.7 956.7 L121.2 956.0 L125.0 955.2 L127.7 954.6 L130.5 953.9 L133.5 953.2 L136.5 952.4 L139.7 951.7 L143.0 951.1 L146.4 950.5 L150.0 950.0 L152.6 949.8 L155.4 949.6 L158.3 949.5 L161.3 949.4 L164.3 949.3 L167.5 949.3 L170.7 949.3 L173.9 949.3 L177.2 949.3 L180.5 949.4 L183.8 949.5 L187.1 949.5 L190.4 949.6 L193.6 949.6 L196.8 949.6 L200.0 949.6 L203.1 949.6 L206.2 949.6 L209.4 949.6 L212.5 949.6 L215.6 949.7 L218.7 949.7 L221.9 949.7 L225.0 949.7 L228.1 949.7 L231.2 949.7 L234.4 949.8 L237.5 949.8 L240.6 949.8 L243.7 949.8 L246.9 949.8 L250.0 949.8 L253.1 949.9 L256.2 949.9 L259.4 949.9 L262.5 949.9 L265.6 949.9 L268.7 949.9 L271.9 949.9 L275.0 950.0 L278.1 950.0 L281.2 950.0 L284.4 950.0 L287.5 950.0 L290.6 950.0 L293.7 950.0 L296.9 950.0 L300.0 950.0 L303.1 950.0 L306.3 950.0 L309.6 950.0 L312.8 950.0 L316.1 950.0 L319.3 950.0 L322.6 950.0 L325.8 950.0 L329.0 950.0 L332.2 950.0 L335.3 950.0 L338.4 950.0 L341.4 950.0 L344.4 949.9 L347.2 949.9 L350.0 949.9 L353.3 949.9 L356.5 949.9 L359.6 949.9 L362.5 949.9 L365.5 949.9 L368.4 949.9 L371.2 949.9 L374.1 949.9 L377.0 949.9 L380.0 949.9 L383.1 949.9 L386.3 950.0 L389.5 950.0 L392.8 950.0 L396.0 950.0 L399.2 950.0 L402.2 950.0 L405.0 950.0 L407.7 950.0 L410.0 950.0 L413.5 950.1 L416.4 950.0 L420.0 949.9 L422.3 949.8 L424.9 949.7 L427.9 949.5 L431.0 949.3 L434.4 949.1 L437.9 948.8 L441.4 948.5 L445.0 948.3 L448.5 948.0 L452.0 947.7 L455.3 947.3 L458.3 947.0 L461.2 946.7 L464.7 946.3 L468.1 946.0 L471.3 945.6 L474.4 945.2 L477.4 944.7 L480.4 944.1 L483.3 943.4 L486.5 942.6 L489.6 941.7 L492.7 940.6 L495.7 939.5 L498.6 938.2 L501.4 936.8 L504.1 935.2 L506.7 933.5 L509.2 931.6 L511.6 929.6 L513.9 927.5 L516.1 925.3 L518.1 923.1 L520.0 920.7 L521.7 918.3 L523.4 915.7 L525.0 913.1 L526.7 910.5 L528.3 907.9 L529.8 905.3 L531.4 902.6 L532.9 899.8 L534.3 897.0 L535.8 894.3 L537.2 891.6 L538.7 888.7 L540.1 885.9 L541.5 883.1 L542.8 880.3 L544.2 877.5 L545.6 874.7 L547.0 871.9 L548.4 869.2 L549.8 866.4 L551.2 863.7 L552.6 860.8 L554.0 857.9 L555.3 855.0 L556.5 852.1 L557.7 849.0 L558.9 846.0 L560.1 842.9 L561.3 839.8 L562.5 836.8 L563.7 833.8 L564.9 830.8 L566.2 827.7 L567.4 824.7 L568.6 821.7 L569.8 818.7 L570.9 815.8 L572.1 812.6 L573.2 809.4 L574.3 806.2 L575.3 803.1 L576.4 800.0 L577.5 797.0 L578.7 793.8 L579.9 790.7 L581.1 787.6 L582.3 784.4 L583.7 781.0 L584.7 778.4 L585.8 775.6 L587.0 772.8 L588.2 769.8 L589.4 766.9 L590.6 763.8 L591.9 760.9 L593.1 757.9 L594.3 755.0 L595.5 752.1 L596.7 749.2 L598.0 746.3 L599.2 743.3 L600.4 740.4 L601.7 737.6 L602.9 734.9 L604.1 732.4 L605.2 730.0 L607.0 726.7 L608.7 723.9 L610.5 721.1 L612.2 718.0 L613.7 715.2 L615.1 712.2 L616.6 709.1 L618.0 705.9 L619.5 702.9 L621.0 700.0 L622.6 697.1 L624.1 694.4 L625.7 691.7 L627.3 689.1 L629.0 686.4 L630.7 683.7 L632.5 681.0 L634.3 678.3 L636.2 675.7 L638.0 673.0 L639.7 670.4 L641.4 667.7 L643.2 665.1 L645.0 662.5 L647.0 660.0 L649.3 657.5 L651.7 655.0 L654.3 652.6 L657.1 650.3 L660.0 648.0 L662.6 646.2 L665.4 644.3 L668.3 642.6 L671.3 640.8 L674.3 639.2 L677.2 637.5 L680.0 636.0 L683.2 634.3 L686.4 632.6 L689.4 631.1 L692.5 629.6 L695.6 628.0" stroke="#14c858" stroke-width="1.5"/>
<path d="M111.0 950.1 L114.6 948.8 L118.3 947.5 L122.1 946.2 L125.5 945.0 L129.0 943.8 L132.6 942.7 L136.2 941.9 L139.2 941.4 L142.1 941.2 L145.1 941.0 L148.3 940.9 L151.7 940.8 L154.6 940.8 L157.8 940.8 L161.2 940.9 L164.7 941.0 L168.2 941.1 L171.7 941.2 L175.1 941.2 L178.3 941.3 L181.3 941.2 L184.9 941.0 L188.0 940.7 L191.1 940.4 L194.4 940.0 L198.3 939.8 L200.6 939.7 L203.1 939.6 L205.8 939.6 L208.6 939.6 L211.5 939.5 L214.5 939.5 L217.6 939.5 L220.8 939.5 L224.1 939.5 L227.4 939.5 L230.7 939.5 L234.0 939.5 L237.3 939.5 L240.6 939.5 L243.8 939.5 L246.9 939.5 L250.0 939.5 L253.1 939.5 L256.2 939.4 L259.2 939.4 L262.2 939.3 L265.1 939.3 L268.1 939.2 L271.0 939.2 L274.0 939.1 L277.0 939.0 L280.0 939.0 L283.1 938.9 L286.3 938.9 L289.6 938.8 L292.9 938.8 L296.4 938.7 L300.0 938.7 L302.5 938.7 L305.1 938.7 L307.8 938.6 L310.5 938.6 L313.3 938.6 L316.1 938.6 L319.0 938.6 L321.9 938.6 L324.8 938.6 L327.8 938.6 L330.8 938.6 L333.8 938.6 L336.9 938.6 L340.0 938.6 L343.1 938.6 L346.3 938.6 L349.4 938.6 L352.6 938.6 L355.8 938.6 L359.0 938.6 L362.2 938.6 L365.4 938.6 L368.6 938.6 L371.8 938.6 L375.0 938.6 L378.2 938.6 L381.4 938.6 L384.5 938.6 L387.7 938.6 L390.8 938.6 L393.9 938.6 L397.0 938.6 L400.0 938.6 L403.0 938.6 L406.1 938.6 L409.1 938.6 L412.1 938.6 L415.2 938.6 L418.2 938.5 L421.2 938.5 L424.2 938.5 L427.3 938.5 L430.3 938.5 L433.3 938.5 L436.4 938.5 L439.4 938.4 L442.4 938.4 L445.5 938.4 L448.5 938.4 L451.5 938.4 L454.5 938.4 L457.6 938.4 L460.6 938.3 L463.6 938.3 L466.7 938.3 L469.7 938.3 L472.7 938.3 L475.8 938.3 L478.8 938.3 L481.8 938.2 L484.8 938.2 L487.9 938.2 L490.9 938.2 L493.9 938.2 L497.0 938.2 L500.0 938.2 L503.0 938.2 L506.1 938.2 L509.1 938.2 L512.1 938.2 L515.2 938.2 L518.2 938.2 L521.3 938.2 L524.3 938.2 L527.3 938.2 L530.4 938.2 L533.4 938.2 L536.5 938.2 L539.5 938.2 L542.5 938.2 L545.6 938.2 L548.6 938.2 L551.7 938.2 L554.7 938.2 L557.7 938.2 L560.8 938.2 L563.8 938.2 L566.8 938.2 L569.9 938.2 L572.9 938.2 L575.9 938.2 L578.9 938.2 L582.0 938.2 L585.0 938.2 L588.0 938.2 L591.0 938.3 L594.0 938.3 L597.0 938.3 L600.0 938.3 L603.1 938.3 L606.2 938.3 L609.3 938.4 L612.4 938.4 L615.5 938.4 L618.6 938.4 L621.7 938.5 L624.8 938.5 L627.9 938.5 L631.0 938.6 L634.1 938.6 L637.2 938.6 L640.2 938.7 L643.3 938.7 L646.4 938.7 L649.5 938.8 L652.5 938.8 L655.6 938.8 L658.7 938.9 L661.8 938.9 L664.8 938.9 L667.9 939.0 L671.0 939.0 L674.1 939.1 L677.1 939.1 L680.2 939.1 L683.3 939.2 L686.4 939.2 L689.4 939.2 L692.5 939.3 L695.6 939.3" stroke="#cc6048" stroke-width="1.5"/>
<path d="M111.0 957.0 L114.2 956.1 L117.3 955.2 L120.5 954.3 L123.6 953.5 L126.8 952.7 L130.0 952.0 L133.1 951.4 L136.0 951.0 L139.0 950.6 L142.2 950.3 L145.8 950.0 L150.0 949.7 L151.9 949.6 L154.0 949.5 L156.1 949.4 L158.4 949.4 L160.8 949.3 L163.3 949.2 L165.8 949.2 L168.5 949.2 L171.2 949.1 L174.0 949.1 L176.9 949.1 L179.9 949.1 L182.9 949.1 L186.0 949.1 L189.1 949.1 L192.3 949.2 L195.6 949.2 L198.9 949.2 L202.2 949.2 L205.5 949.2 L208.9 949.3 L212.3 949.3 L215.8 949.3 L219.2 949.4 L222.6 949.4 L226.1 949.4 L229.6 949.4 L233.0 949.5 L236.4 949.5 L239.9 949.5 L243.3 949.5 L246.6 949.5 L250.0 949.5 L252.7 949.5 L255.5 949.5 L258.2 949.5 L261.1 949.5 L263.9 949.5 L266.8 949.5 L269.7 949.5 L272.6 949.5 L275.6 949.5 L278.5 949.5 L281.5 949.5 L284.6 949.5 L287.6 949.5 L290.7 949.5 L293.7 949.5 L296.8 949.5 L299.9 949.5 L303.0 949.5 L306.1 949.5 L309.3 949.5 L312.4 949.5 L315.6 949.5 L318.7 949.5 L321.8 949.5 L325.0 949.5 L328.2 949.5 L331.3 949.5 L334.4 949.5 L337.6 949.5 L340.7 949.5 L343.9 949.5 L347.0 949.5 L350.1 949.5 L353.2 949.5 L356.3 949.5 L359.3 949.5 L362.4 949.6 L365.4 949.6 L368.5 949.6 L371.5 949.6 L374.4 949.6 L377.4 949.6 L380.3 949.6 L383.2 949.6 L386.1 949.6 L388.9 949.6 L391.8 949.6 L394.5 949.6 L397.3 949.6 L400.0 949.6 L403.3 949.6 L406.6 949.6 L409.8 949.6 L413.1 949.6 L416.3 949.6 L419.4 949.6 L422.5 949.6 L425.6 949.6 L428.7 949.7 L431.8 949.7 L434.8 949.7 L437.9 949.7 L440.9 949.7 L443.8 949.7 L446.8 949.7 L449.8 949.7 L452.7 949.7 L455.7 949.7 L458.6 949.7 L461.6 949.7 L464.5 949.8 L467.4 949.8 L470.3 949.8 L473.3 949.8 L476.2 949.8 L479.1 949.8 L482.1 949.8 L485.0 949.8 L488.0 949.8 L491.0 949.8 L494.0 949.8 L497.0 949.8 L500.0 949.8 L503.1 949.8 L506.2 949.8 L509.4 949.8 L512.6 949.8 L515.9 949.9 L519.3 949.9 L522.6 949.9 L526.0 949.9 L529.4 950.0 L532.8 950.0 L536.3 950.0 L539.7 950.1 L543.1 950.1 L546.5 950.1 L549.9 950.1 L553.3 950.2 L556.6 950.2 L559.9 950.2 L563.1 950.2 L566.3 950.2 L569.5 950.2 L572.5 950.2 L575.5 950.2 L578.4 950.2 L581.3 950.2 L584.0 950.1 L586.6 950.1 L589.2 950.0 L591.6 950.0 L593.9 949.9 L596.1 949.8 L598.1 949.7 L600.0 949.6 L604.0 949.3 L607.2 949.1 L610.1 948.8 L612.8 948.4 L615.6 947.9 L618.8 947.3 L621.5 946.7 L624.5 946.1 L627.5 945.3 L630.6 944.5 L633.7 943.7 L636.9 942.8 L639.9 941.8 L642.9 940.8 L645.7 939.8 L648.3 938.8 L651.4 937.4 L654.4 936.0 L657.2 934.5 L659.8 932.9 L662.4 931.2 L665.0 929.4 L667.6 927.4 L670.1 925.3 L672.6 923.1 L675.0 920.7 L677.4 918.3 L679.8 915.7 L681.8 913.3 L683.8 910.9 L685.8 908.2 L687.8 905.6 L689.7 902.8 L691.7 900.1 L693.6 897.4 L695.6 894.7" stroke="#d84830" stroke-width="1.5"/>
<path d="M111.0 958.0 L114.2 957.1 L117.3 956.3 L120.5 955.4 L123.6 954.5 L126.8 953.7 L130.0 953.0 L133.1 952.4 L135.9 951.8 L138.8 951.3 L141.9 950.8 L145.6 950.4 L150.0 950.0 L151.7 949.9 L153.4 949.8 L155.3 949.7 L157.2 949.6 L159.2 949.5 L161.4 949.4 L163.6 949.4 L165.9 949.3 L168.3 949.3 L170.7 949.2 L173.2 949.2 L175.8 949.1 L178.5 949.1 L181.2 949.1 L184.0 949.1 L186.9 949.1 L189.8 949.1 L192.8 949.1 L195.8 949.1 L198.9 949.1 L202.0 949.1 L205.2 949.1 L208.4 949.1 L211.6 949.1 L214.9 949.1 L218.2 949.2 L221.6 949.2 L224.9 949.2 L228.3 949.3 L231.7 949.3 L235.2 949.3 L238.6 949.4 L242.1 949.4 L245.5 949.4 L249.0 949.5 L252.5 949.5 L256.0 949.5 L259.4 949.6 L262.9 949.6 L266.4 949.6 L269.8 949.7 L273.3 949.7 L276.7 949.7 L280.1 949.7 L283.5 949.8 L286.9 949.8 L290.2 949.8 L293.5 949.8 L296.8 949.8 L300.0 949.8 L302.8 949.8 L305.7 949.8 L308.5 949.8 L311.4 949.8 L314.3 949.8 L317.3 949.8 L320.2 949.8 L323.2 949.8 L326.2 949.8 L329.2 949.8 L332.2 949.8 L335.2 949.8 L338.2 949.8 L341.3 949.8 L344.4 949.8 L347.4 949.8 L350.5 949.8 L353.6 949.8 L356.7 949.8 L359.9 949.8 L363.0 949.8 L366.1 949.9 L369.3 949.9 L372.4 949.9 L375.6 949.9 L378.7 949.9 L381.9 949.9 L385.1 949.9 L388.2 949.9 L391.4 949.9 L394.6 949.9 L397.7 949.9 L400.9 949.9 L404.1 949.9 L407.2 949.9 L410.4 949.9 L413.5 949.9 L416.7 949.9 L419.8 949.9 L423.0 949.9 L426.1 949.9 L429.2 949.9 L432.3 949.9 L435.4 950.0 L438.5 950.0 L441.6 950.0 L444.7 950.0 L447.8 950.0 L450.8 950.0 L453.9 950.0 L456.9 950.0 L459.9 950.0 L462.9 950.0 L465.9 950.0 L468.8 950.0 L471.8 950.0 L474.7 950.0 L477.6 950.0 L480.5 950.0 L483.3 950.0 L486.2 950.0 L489.0 950.0 L491.8 950.0 L494.5 950.0 L497.3 950.0 L500.0 950.0 L503.4 950.0 L506.8 950.0 L510.2 950.0 L513.6 950.0 L517.1 950.0 L520.6 950.0 L524.1 950.0 L527.6 950.0 L531.1 950.0 L534.6 950.0 L538.1 950.0 L541.6 950.0 L545.1 950.0 L548.6 950.0 L552.1 950.0 L555.6 950.0 L559.0 950.0 L562.5 950.0 L565.8 950.0 L569.2 950.0 L572.5 950.0 L575.8 950.0 L579.1 950.0 L582.3 950.0 L585.4 950.0 L588.5 950.0 L591.6 950.0 L594.6 950.0 L597.5 950.0 L600.3 950.0 L603.1 950.0 L605.9 949.9 L608.5 949.9 L611.1 949.9 L613.5 949.9 L615.9 949.9 L618.2 949.9 L620.5 949.9 L622.6 949.9 L624.6 949.9 L626.5 949.8 L628.3 949.8 L630.0 949.8 L633.9 949.8 L637.2 949.8 L639.9 949.9 L642.5 949.8 L645.1 949.7 L648.0 949.4 L651.0 948.9 L654.1 948.3 L657.2 947.5 L660.4 946.7 L663.5 945.8 L666.8 944.9 L670.0 944.0 L673.1 943.1 L676.3 942.2 L679.5 941.3 L682.7 940.3 L685.9 939.3 L689.2 938.3 L692.4 937.3 L695.6 936.3" stroke="#e07840" stroke-width="1.5"/>
<path d="M111.0 959.5 L114.0 958.7 L117.0 957.8 L120.1 956.9 L123.1 956.0 L126.1 955.2 L129.1 954.4 L132.1 953.6 L135.0 953.0 L138.2 952.3 L141.1 951.8 L143.9 951.3 L147.0 950.9 L150.6 950.5 L155.0 950.2 L156.7 950.1 L158.5 950.0 L160.4 949.9 L162.3 949.8 L164.4 949.7 L166.6 949.7 L168.9 949.6 L171.2 949.5 L173.6 949.5 L176.1 949.5 L178.7 949.4 L181.3 949.4 L184.1 949.4 L186.8 949.4 L189.7 949.3 L192.6 949.3 L195.6 949.3 L198.6 949.3 L201.7 949.3 L204.8 949.3 L208.0 949.4 L211.2 949.4 L214.4 949.4 L217.7 949.4 L221.0 949.4 L224.4 949.5 L227.8 949.5 L231.2 949.5 L234.6 949.6 L238.1 949.6 L241.5 949.6 L245.0 949.6 L248.5 949.7 L252.0 949.7 L255.5 949.7 L259.0 949.8 L262.5 949.8 L266.0 949.8 L269.5 949.9 L272.9 949.9 L276.4 949.9 L279.9 949.9 L283.3 950.0 L286.7 950.0 L290.1 950.0 L293.4 950.0 L296.7 950.0 L300.0 950.0 L302.8 950.0 L305.6 950.0 L308.5 950.0 L311.3 950.0 L314.2 950.0 L317.1 950.0 L320.0 950.0 L323.0 950.0 L325.9 950.0 L328.9 950.0 L331.9 950.0 L334.9 950.0 L337.9 950.0 L340.9 950.0 L344.0 950.0 L347.0 950.0 L350.1 950.0 L353.2 950.0 L356.3 950.0 L359.4 950.0 L362.5 950.0 L365.6 950.0 L368.7 950.1 L371.9 950.1 L375.0 950.1 L378.1 950.1 L381.3 950.1 L384.4 950.1 L387.6 950.1 L390.7 950.1 L393.9 950.1 L397.1 950.1 L400.2 950.1 L403.4 950.1 L406.5 950.1 L409.7 950.1 L412.8 950.1 L416.0 950.1 L419.1 950.1 L422.3 950.1 L425.4 950.1 L428.5 950.1 L431.7 950.1 L434.8 950.2 L437.9 950.2 L441.0 950.2 L444.1 950.2 L447.2 950.2 L450.2 950.2 L453.3 950.2 L456.3 950.2 L459.3 950.2 L462.4 950.2 L465.4 950.2 L468.4 950.2 L471.3 950.2 L474.3 950.2 L477.2 950.2 L480.1 950.2 L483.0 950.2 L485.9 950.2 L488.8 950.2 L491.6 950.2 L494.4 950.2 L497.2 950.2 L500.0 950.2 L503.3 950.2 L506.7 950.2 L510.0 950.2 L513.4 950.2 L516.8 950.2 L520.2 950.2 L523.7 950.2 L527.1 950.2 L530.6 950.2 L534.0 950.2 L537.4 950.2 L540.9 950.2 L544.3 950.2 L547.8 950.3 L551.2 950.3 L554.6 950.3 L558.0 950.3 L561.4 950.3 L564.7 950.3 L568.1 950.3 L571.4 950.3 L574.7 950.3 L578.0 950.3 L581.2 950.3 L584.4 950.3 L587.6 950.3 L590.7 950.3 L593.8 950.3 L596.9 950.3 L599.9 950.3 L602.9 950.3 L605.8 950.3 L608.6 950.3 L611.4 950.3 L614.2 950.2 L616.9 950.2 L619.5 950.2 L622.1 950.2 L624.6 950.2 L627.0 950.2 L629.4 950.1 L631.6 950.1 L633.8 950.1 L636.0 950.1 L638.0 950.0 L640.0 950.0 L643.9 949.9 L647.4 949.9 L650.7 949.8 L653.7 949.7 L656.5 949.6 L659.2 949.5 L661.9 949.4 L664.5 949.3 L667.2 949.1 L670.0 949.0 L673.3 948.8 L676.5 948.6 L679.8 948.4 L682.9 948.2 L686.1 948.0 L689.2 947.7 L692.4 947.5 L695.6 947.3" stroke="#e89048" stroke-width="1.5"/>
<path d="M111.0 956.0 L114.2 955.1 L117.3 954.2 L120.5 953.3 L123.6 952.4 L126.8 951.6 L130.0 951.0 L133.1 950.5 L135.9 950.2 L138.8 950.0 L141.9 949.8 L145.6 949.7 L150.0 949.5 L151.7 949.4 L153.4 949.4 L155.3 949.3 L157.2 949.3 L159.3 949.3 L161.4 949.2 L163.6 949.2 L165.9 949.1 L168.3 949.1 L170.7 949.1 L173.3 949.1 L175.9 949.1 L178.5 949.0 L181.3 949.0 L184.1 949.0 L186.9 949.0 L189.8 949.0 L192.8 949.0 L195.8 949.0 L198.9 949.0 L202.0 949.0 L205.2 949.0 L208.4 949.0 L211.7 949.0 L214.9 949.1 L218.2 949.1 L221.6 949.1 L224.9 949.1 L228.3 949.1 L231.7 949.1 L235.2 949.1 L238.6 949.2 L242.1 949.2 L245.5 949.2 L249.0 949.2 L252.5 949.2 L256.0 949.2 L259.5 949.3 L262.9 949.3 L266.4 949.3 L269.8 949.3 L273.3 949.3 L276.7 949.3 L280.1 949.4 L283.5 949.4 L286.9 949.4 L290.2 949.4 L293.5 949.4 L296.8 949.4 L300.0 949.4 L302.8 949.4 L305.7 949.4 L308.5 949.4 L311.4 949.4 L314.4 949.4 L317.3 949.4 L320.3 949.4 L323.2 949.4 L326.2 949.4 L329.2 949.4 L332.3 949.4 L335.3 949.4 L338.4 949.4 L341.4 949.4 L344.5 949.5 L347.6 949.5 L350.7 949.5 L353.8 949.5 L357.0 949.5 L360.1 949.5 L363.3 949.5 L366.4 949.5 L369.6 949.5 L372.8 949.5 L375.9 949.5 L379.1 949.5 L382.3 949.5 L385.5 949.5 L388.6 949.5 L391.8 949.5 L395.0 949.5 L398.2 949.6 L401.4 949.6 L404.6 949.6 L407.7 949.6 L410.9 949.6 L414.1 949.6 L417.2 949.6 L420.4 949.6 L423.5 949.6 L426.7 949.6 L429.8 949.6 L432.9 949.6 L436.0 949.6 L439.1 949.6 L442.2 949.7 L445.3 949.7 L448.3 949.7 L451.4 949.7 L454.4 949.7 L457.4 949.7 L460.4 949.7 L463.4 949.7 L466.3 949.7 L469.3 949.7 L472.2 949.7 L475.1 949.7 L478.0 949.7 L480.8 949.7 L483.6 949.8 L486.4 949.8 L489.2 949.8 L491.9 949.8 L494.7 949.8 L497.3 949.8 L500.0 949.8 L503.4 949.8 L506.8 949.8 L510.1 949.8 L513.5 949.8 L516.9 949.8 L520.3 949.8 L523.6 949.8 L527.0 949.9 L530.3 949.9 L533.7 949.9 L537.0 949.9 L540.3 949.9 L543.5 949.9 L546.8 949.9 L550.1 949.9 L553.3 949.9 L556.5 949.9 L559.7 949.9 L562.8 949.9 L565.9 949.9 L569.0 949.9 L572.1 949.9 L575.1 949.9 L578.1 949.9 L581.1 950.0 L584.0 950.0 L586.8 950.0 L589.7 950.0 L592.5 950.0 L595.2 950.0 L597.9 950.0 L600.6 950.0 L603.2 950.1 L605.8 950.1 L608.3 950.1 L610.7 950.1 L613.1 950.1 L615.5 950.2 L617.8 950.2 L620.0 950.2 L623.8 950.2 L627.4 950.3 L630.7 950.4 L634.0 950.4 L637.1 950.5 L640.0 950.6 L642.9 950.6 L645.8 950.7 L648.6 950.8 L651.4 950.8 L654.2 950.9 L657.1 950.9 L660.0 951.0 L663.3 951.1 L666.6 951.1 L669.9 951.2 L673.1 951.2 L676.3 951.2 L679.5 951.3 L682.7 951.3 L685.9 951.4 L689.2 951.4 L692.4 951.5 L695.6 951.5" stroke="#e01c10" stroke-width="1.5"/>
<path d="M111.0 960.0 L114.0 959.2 L117.0 958.4 L120.0 957.6 L123.0 956.8 L125.9 956.1 L128.9 955.3 L132.0 954.6 L135.0 954.0 L137.9 953.4 L140.7 952.9 L143.4 952.4 L146.2 952.0 L149.1 951.6 L152.3 951.2 L155.9 950.8 L160.0 950.5 L161.8 950.4 L163.8 950.3 L165.8 950.2 L167.9 950.1 L170.0 950.0 L172.3 949.9 L174.6 949.8 L176.9 949.8 L179.4 949.7 L181.9 949.7 L184.4 949.6 L187.1 949.6 L189.8 949.6 L192.5 949.6 L195.3 949.6 L198.2 949.6 L201.1 949.6 L204.1 949.6 L207.1 949.6 L210.1 949.6 L213.2 949.6 L216.4 949.6 L219.6 949.6 L222.8 949.7 L226.1 949.7 L229.4 949.7 L232.7 949.7 L236.1 949.8 L239.5 949.8 L242.9 949.8 L246.4 949.9 L249.8 949.9 L253.3 949.9 L256.9 950.0 L260.4 950.0 L263.9 950.0 L267.5 950.1 L271.1 950.1 L274.7 950.1 L278.3 950.1 L281.9 950.2 L285.5 950.2 L289.1 950.2 L292.8 950.2 L296.4 950.2 L300.0 950.2 L302.5 950.2 L304.9 950.2 L307.5 950.2 L310.0 950.2 L312.6 950.2 L315.3 950.2 L318.0 950.2 L320.7 950.2 L323.4 950.2 L326.2 950.2 L329.0 950.2 L331.8 950.2 L334.7 950.2 L337.6 950.2 L340.5 950.2 L343.4 950.2 L346.4 950.2 L349.4 950.2 L352.4 950.2 L355.4 950.2 L358.5 950.2 L361.6 950.2 L364.7 950.2 L367.8 950.2 L371.0 950.2 L374.1 950.2 L377.3 950.2 L380.5 950.2 L383.7 950.2 L387.0 950.2 L390.2 950.2 L393.5 950.2 L396.7 950.2 L400.0 950.2 L403.3 950.2 L406.6 950.2 L409.9 950.2 L413.2 950.2 L416.6 950.2 L419.9 950.2 L423.2 950.2 L426.6 950.2 L429.9 950.2 L433.3 950.2 L436.6 950.2 L440.0 950.2 L443.3 950.2 L446.7 950.2 L450.0 950.2 L453.4 950.2 L456.7 950.2 L460.1 950.2 L463.4 950.2 L466.7 950.2 L470.1 950.2 L473.4 950.2 L476.7 950.2 L480.0 950.2 L483.3 950.2 L486.6 950.2 L489.9 950.2 L493.1 950.2 L496.4 950.2 L499.6 950.2 L502.9 950.2 L506.1 950.2 L509.2 950.2 L512.4 950.2 L515.6 950.2 L518.7 950.2 L521.8 950.2 L524.9 950.2 L528.0 950.2 L531.1 950.3 L534.1 950.3 L537.1 950.3 L540.1 950.3 L543.0 950.3 L546.0 950.3 L548.9 950.3 L551.8 950.3 L554.6 950.3 L557.4 950.3 L560.2 950.3 L563.0 950.3 L565.7 950.3 L568.4 950.3 L571.0 950.3 L573.7 950.3 L576.3 950.3 L578.8 950.3 L581.3 950.3 L583.8 950.4 L586.2 950.4 L588.6 950.4 L591.0 950.4 L593.3 950.4 L595.6 950.4 L597.8 950.4 L600.0 950.4 L603.9 950.4 L607.7 950.4 L611.4 950.4 L614.9 950.5 L618.4 950.5 L621.9 950.5 L625.2 950.5 L628.5 950.5 L631.6 950.5 L634.8 950.6 L637.9 950.6 L640.9 950.6 L643.9 950.6 L646.8 950.6 L649.7 950.7 L652.6 950.7 L655.4 950.7 L658.2 950.7 L661.0 950.8 L663.8 950.8 L666.6 950.8 L669.4 950.8 L672.2 950.8 L675.1 950.9 L677.9 950.9 L680.8 950.9 L683.7 950.9 L686.6 950.9 L689.5 951.0 L692.5 951.0 L695.6 951.0" stroke="#e02a14" stroke-width="1.5"/>
<path d="M111.0 958.5 L114.2 957.5 L117.3 956.4 L120.4 955.3 L123.6 954.2 L126.8 953.3 L130.0 952.5 L133.1 951.9 L136.0 951.4 L139.0 951.1 L142.2 950.8 L145.8 950.5 L150.0 950.3 L151.9 950.2 L154.0 950.1 L156.2 950.0 L158.6 950.0 L161.0 949.9 L163.6 949.9 L166.3 949.9 L169.0 949.8 L171.9 949.8 L174.8 949.8 L177.9 949.8 L181.0 949.8 L184.1 949.8 L187.3 949.8 L190.6 949.8 L193.9 949.9 L197.2 949.9 L200.6 949.9 L204.0 949.9 L207.4 950.0 L210.8 950.0 L214.2 950.0 L217.6 950.1 L221.0 950.1 L224.4 950.1 L227.8 950.2 L231.1 950.2 L234.4 950.2 L237.6 950.2 L240.8 950.3 L243.9 950.3 L247.0 950.3 L250.0 950.3 L253.1 950.3 L256.3 950.3 L259.6 950.3 L262.9 950.2 L266.2 950.2 L269.6 950.2 L273.1 950.1 L276.5 950.1 L280.0 950.0 L283.5 950.0 L286.9 950.0 L290.4 949.9 L293.8 949.9 L297.2 949.8 L300.5 949.8 L303.8 949.8 L307.1 949.7 L310.3 949.7 L313.4 949.7 L316.4 949.7 L319.3 949.7 L322.1 949.8 L324.9 949.8 L327.5 949.8 L329.9 949.9 L332.2 950.0 L334.4 950.1 L336.4 950.2 L338.3 950.3 L340.0 950.5 L343.8 951.1 L346.8 951.7 L349.3 952.4 L352.0 953.0 L355.0 953.6 L358.0 954.1 L362.0 954.6 L363.7 954.7 L365.6 954.9 L367.7 955.0 L370.0 955.1 L372.5 955.2 L375.2 955.3 L378.0 955.3 L380.9 955.4 L383.9 955.5 L387.1 955.5 L390.3 955.6 L393.6 955.6 L397.0 955.7 L400.4 955.7 L403.9 955.8 L407.4 955.8 L410.9 955.8 L414.3 955.9 L417.8 955.9 L421.2 955.9 L424.5 956.0 L427.8 956.0 L431.0 956.1 L434.1 956.1 L437.1 956.1 L440.0 956.2 L443.2 956.3 L446.3 956.3 L449.4 956.4 L452.5 956.4 L455.6 956.5 L458.6 956.5 L461.6 956.6 L464.6 956.6 L467.5 956.7 L470.5 956.7 L473.4 956.7 L476.4 956.8 L479.3 956.8 L482.2 956.9 L485.2 957.0 L488.1 957.0 L491.1 957.1 L494.0 957.1 L497.0 957.2 L500.0 957.3 L503.0 957.4 L506.0 957.5 L509.0 957.6 L512.0 957.7 L515.0 957.8 L518.0 957.9 L521.0 958.0 L524.0 958.1 L527.0 958.2 L530.0 958.3 L533.0 958.4 L536.0 958.5 L539.0 958.6 L542.0 958.8 L545.0 958.9 L548.0 959.0 L551.0 959.1 L554.0 959.2 L557.0 959.4 L560.0 959.5 L563.1 959.6 L566.3 959.8 L569.4 959.9 L572.5 960.1 L575.7 960.3 L578.9 960.4 L582.0 960.6 L585.2 960.8 L588.3 961.0 L591.4 961.1 L594.6 961.3 L597.7 961.5 L600.8 961.6 L603.8 961.8 L606.9 961.9 L609.9 962.1 L612.9 962.2 L615.9 962.3 L618.8 962.4 L622.1 962.5 L625.3 962.6 L628.5 962.7 L631.8 962.8 L635.0 962.9 L638.1 963.0 L641.3 963.0 L644.4 963.1 L647.5 963.1 L650.5 963.2 L653.5 963.2 L656.5 963.2 L659.4 963.1 L662.2 963.1 L665.0 963.0 L668.3 962.9 L671.5 962.7 L674.6 962.4 L677.7 962.2 L680.7 961.9 L683.7 961.6 L686.6 961.3 L689.6 961.0 L692.6 960.8 L695.6 960.5" stroke="#cc5040" stroke-width="1.5"/>
</g>
<g class="ar"><line x1="339.7" y1="268.8" x2="413.4" y2="383.0"/><polyline points="411.9,361.6 413.4,383.0 394.0,373.6"/><line x1="341.8" y1="248.1" x2="464.6" y2="383.4"/><polyline points="459.8,362.4 464.6,383.4 443.8,376.2"/><line x1="341.8" y1="231.2" x2="533.4" y2="360.0"/><polyline points="522.6,341.0 533.4,360.0 510.8,357.9"/><line x1="344.7" y1="799.2" x2="418.7" y2="913.5"/><polyline points="416.6,891.9 418.7,913.5 399.5,903.2"/><line x1="347.0" y1="777.8" x2="470.1" y2="913.5"/><polyline points="464.6,892.9 470.1,913.5 449.2,906.3"/><line x1="347.0" y1="760.8" x2="537.8" y2="889.2"/><polyline points="527.8,870.7 537.8,889.2 516.0,887.3"/></g>
<g stroke="#000" stroke-width="0.45"><text x="5.4" y="29.1" font-family="Liberation Sans, sans-serif" font-weight="bold" font-size="33">A</text>
<text x="33.7" y="47.9" font-family="Liberation Serif, serif" font-size="25.5" >ΔRn</text>
<text x="62.5" y="129.3" font-family="Liberation Serif, serif" font-size="25.5" >10</text>
<text x="87.1" y="121.6" font-family="Liberation Serif, serif" font-size="17" >5</text>
<text x="35.8" y="282.7" font-family="Liberation Serif, serif" font-size="24.8" >5x10</text>
<text x="87.4" y="274.7" font-family="Liberation Serif, serif" font-size="16" >4</text>
<text x="82.3" y="436.5" font-family="Liberation Serif, serif" font-size="27" >0</text>
<text transform="translate(196.4,82.2) scale(0.993,1)" font-family="Liberation Serif, serif" font-size="34">10sec@95°C, 10sec@60°C</text>
<text x="225.1" y="176.7" font-family="Liberation Serif, serif" font-size="34" ><tspan font-style="italic">Taq</tspan> 2C2</text>
<text x="225.1" y="217.4" font-family="Liberation Serif, serif" font-size="34" ><tspan font-style="italic">Taq</tspan> 1C2</text>
<text x="225.1" y="258.3" font-family="Liberation Serif, serif" font-size="34" ><tspan font-style="italic">Taq</tspan> 42</text>
<text x="225.1" y="298.2" font-family="Liberation Serif, serif" font-size="34" ><tspan font-style="italic">Taq</tspan> 3B</text>
<text x="225.1" y="338.0" font-family="Liberation Serif, serif" font-size="34" ><tspan font-style="italic">Taq</tspan> (wt)</text>
<text x="217.7" y="483.7" font-family="Liberation Serif, serif" font-size="26" >10</text>
<text x="350.5" y="484" font-family="Liberation Serif, serif" font-size="26" >20</text>
<text x="485.5" y="484" font-family="Liberation Serif, serif" font-size="26" >30</text>
<text x="614.6" y="483.7" font-family="Liberation Serif, serif" font-size="26" >40</text>
<text transform="translate(351.1,514.4) scale(0.918,1)" font-family="Liberation Serif, serif" font-size="27.5">Cycles</text>
<text x="6" y="524.5" font-family="Liberation Sans, sans-serif" font-weight="bold" font-size="33">B</text>
<text x="40.1" y="563.0" font-family="Liberation Serif, serif" font-size="25.5" >ΔRn</text>
<text x="70.1" y="681.4" font-family="Liberation Serif, serif" font-size="25.5" >10</text>
<text x="95" y="673.9" font-family="Liberation Serif, serif" font-size="17" >5</text>
<text x="42.3" y="834.8" font-family="Liberation Serif, serif" font-size="25.3" >5x10</text>
<text x="94.2" y="827.5" font-family="Liberation Serif, serif" font-size="16" >4</text>
<text x="89.8" y="957.7" font-family="Liberation Serif, serif" font-size="26.5" >0</text>
<text transform="translate(199.4,600.5) scale(0.993,1)" font-family="Liberation Serif, serif" font-size="34">10sec@95°C, 60sec@60°C</text>
<text x="230.7" y="706.7" font-family="Liberation Serif, serif" font-size="34" ><tspan font-style="italic">Taq</tspan> 2C2</text>
<text x="230.7" y="746.9" font-family="Liberation Serif, serif" font-size="34" ><tspan font-style="italic">Taq</tspan> 1C2</text>
<text x="230.7" y="787.1" font-family="Liberation Serif, serif" font-size="34" ><tspan font-style="italic">Taq</tspan> 42</text>
<text x="230.7" y="828.0" font-family="Liberation Serif, serif" font-size="34" ><tspan font-style="italic">Taq</tspan> 3B</text>
<text x="230.7" y="868.9" font-family="Liberation Serif, serif" font-size="34" ><tspan font-style="italic">Taq</tspan> (wt)</text>
<text x="224.6" y="1005.8" font-family="Liberation Serif, serif" font-size="26" >10</text>
<text x="358.4" y="1005.9" font-family="Liberation Serif, serif" font-size="26" >20</text>
<text x="492.4" y="1005.9" font-family="Liberation Serif, serif" font-size="26" >30</text>
<text x="628.3" y="1005.5" font-family="Liberation Serif, serif" font-size="26" >40</text>
<text transform="translate(358.2,1036.5) scale(0.93,1)" font-family="Liberation Serif, serif" font-size="27.3">Cycles</text></g>
<rect x="22.3" y="1022.3" width="3" height="2" fill="#1c2c5c"/><rect x="77.3" y="1022.3" width="3" height="2" fill="#1c2c5c"/><line x1="3" y1="1020" x2="90" y2="1020" stroke="#f2f2f2" stroke-width="1"/><line x1="3" y1="497" x2="88" y2="497" stroke="#f0f0f0" stroke-width="1"/>
</svg>
</body></html>
